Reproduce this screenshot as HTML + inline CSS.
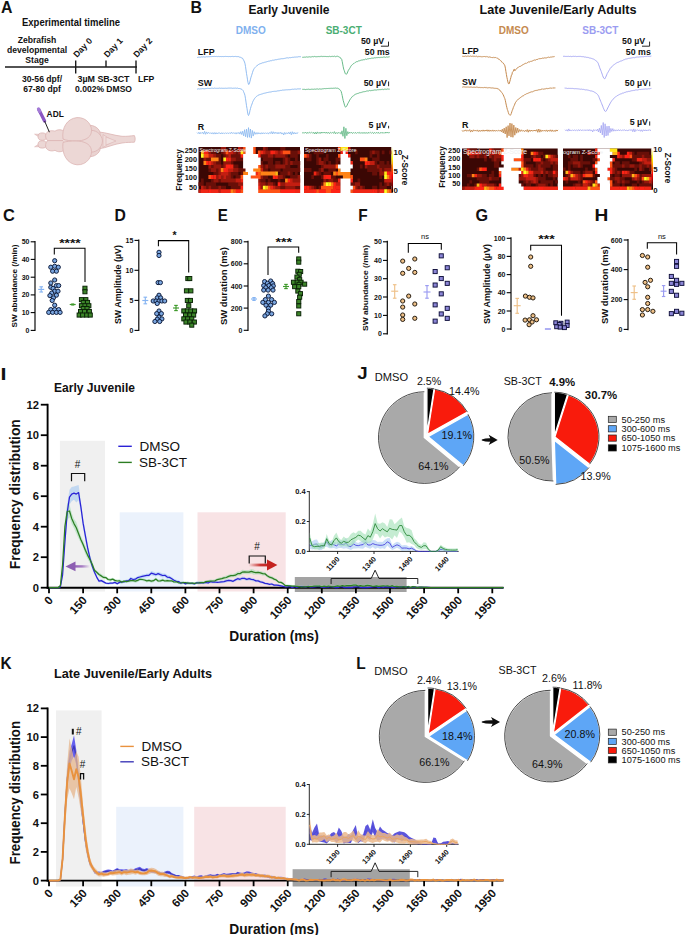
<!DOCTYPE html>
<html><head><meta charset="utf-8"><title>Figure</title>
<style>
html,body{margin:0;padding:0;background:#fff;}
body{width:685px;height:935px;overflow:hidden;font-family:'Liberation Sans', Arial, Helvetica, sans-serif;}
svg{display:block}
svg text{font-family:'Liberation Sans', Arial, Helvetica, sans-serif;}
</style></head><body>
<svg width="685" height="935" viewBox="0 0 685 935">
<rect x="0" y="0" width="685" height="935" fill="#ffffff"/>
<g id="panelA">
<text x="71.0" y="25.6" font-size="10" font-weight="bold" text-anchor="middle" fill="#111" textLength="98" lengthAdjust="spacingAndGlyphs" >Experimental timeline</text>
<text x="37.0" y="43.3" font-size="8.6" font-weight="bold" text-anchor="middle" fill="#111" >Zebrafish</text>
<text x="37.0" y="53.3" font-size="8.6" font-weight="bold" text-anchor="middle" fill="#111" >developmental</text>
<text x="37.0" y="63.3" font-size="8.6" font-weight="bold" text-anchor="middle" fill="#111" >Stage</text>
<line x1="5.0" y1="67.0" x2="137.0" y2="67.0" stroke="#1a1a1a" stroke-width="1.4" />
<line x1="75.7" y1="60.5" x2="75.7" y2="73.5" stroke="#1a1a1a" stroke-width="1.4" />
<line x1="106.0" y1="60.5" x2="106.0" y2="67.0" stroke="#1a1a1a" stroke-width="1.4" />
<line x1="136.0" y1="60.5" x2="136.0" y2="73.5" stroke="#1a1a1a" stroke-width="1.4" />
<text x="77.0" y="58.0" font-size="8.6" font-weight="bold" text-anchor="start" fill="#111" transform="rotate(-47 77.0 58.0)" >Day 0</text>
<text x="107.5" y="58.0" font-size="8.6" font-weight="bold" text-anchor="start" fill="#111" transform="rotate(-47 107.5 58.0)" >Day 1</text>
<text x="137.0" y="58.0" font-size="8.6" font-weight="bold" text-anchor="start" fill="#111" transform="rotate(-47 137.0 58.0)" >Day 2</text>
<text x="42.0" y="81.6" font-size="8.6" font-weight="bold" text-anchor="middle" fill="#111" >30-56 dpf/</text>
<text x="42.0" y="92.3" font-size="8.6" font-weight="bold" text-anchor="middle" fill="#111" >67-80 dpf</text>
<text x="103.5" y="81.6" font-size="8.6" font-weight="bold" text-anchor="middle" fill="#111" textLength="52" lengthAdjust="spacingAndGlyphs" >3µM SB-3CT</text>
<text x="103.5" y="92.3" font-size="8.6" font-weight="bold" text-anchor="middle" fill="#111" textLength="57" lengthAdjust="spacingAndGlyphs" >0.002% DMSO</text>
<text x="138.0" y="81.6" font-size="8.6" font-weight="bold" text-anchor="start" fill="#111" >LFP</text>
<path d="M99,132 C106,132.5 114,135.5 122,136.3 C127,136.6 131,135.8 134.4,135.6 C135.4,137.5 135.4,140.5 134.4,142.2 C131,142.4 127,142.2 122,143 C114,144 106,148 99,148.8 Z" stroke="#dcb4b3" stroke-width="0.8" fill="#ecd7d5" stroke-linejoin="round"/>
<path d="M103,134.5 L113,141 L103,147.5 Z" stroke="#dcb4b3" stroke-width="0.6" fill="#efdddb" stroke-linejoin="round"/>
<path d="M106,137 L116,141 L106,145 Z" stroke="#dcb4b3" stroke-width="0.6" fill="#f0e0de" stroke-linejoin="round"/>
<path d="M34.6,134.2 L40,134.3 L40,137.5 Z" stroke="#dcb4b3" stroke-width="0.6" fill="#ecd7d5" stroke-linejoin="round"/>
<path d="M34.6,146.8 L40,146.7 L40,143.5 Z" stroke="#dcb4b3" stroke-width="0.6" fill="#ecd7d5" stroke-linejoin="round"/>
<ellipse cx="42.3" cy="136.6" rx="4.3" ry="3.7" fill="#ecd7d5" stroke="#dcb4b3" stroke-width="0.8"/>
<ellipse cx="42.3" cy="144.4" rx="4.3" ry="3.7" fill="#ecd7d5" stroke="#dcb4b3" stroke-width="0.8"/>
<path d="M46,133.5 C48,130.5 52,130.2 55,131.2 C58,129 62,129.5 64.5,131.5 C65.5,135 65,139 63,140.6 L47.5,140.6 C45.5,138.5 45.2,135.5 46,133.5 Z" stroke="#dcb4b3" stroke-width="0.8" fill="#ecd7d5" stroke-linejoin="round"/>
<path d="M46,148 C48,151 52,151.5 55,150.3 C58,152.5 62,152 64.5,150 C65.5,146.5 65,142.5 63,140.6 L47.5,140.6 C45.5,142.7 45.2,146 46,148 Z" stroke="#dcb4b3" stroke-width="0.8" fill="#ecd7d5" stroke-linejoin="round"/>
<path d="M86,126 C92,124 98,127 100,132 L100,150 C98,155 92,158 86,156 Z" stroke="#dcb4b3" stroke-width="0.8" fill="#ead3d1" stroke-linejoin="round"/>
<path d="M88,131 C95,128.5 102,134 102.5,141 C102,148.5 95,154 88,151.5 C86.5,145 86.5,137 88,131 Z" stroke="#dcb4b3" stroke-width="0.8" fill="#ecd7d5" stroke-linejoin="round"/>
<rect x="63.5" y="138.0" width="26.0" height="6.0" fill="#ecd7d5" stroke="none" stroke-width="0" />
<path d="M63,139 C61.5,128 67,118.5 77,117.6 C87,117 93,126 91.2,133 C90,138 84,141 76,141 C71,141 66,140.5 63,139 Z" stroke="#dcb4b3" stroke-width="0.8" fill="#ecd7d5" stroke-linejoin="round"/>
<path d="M63,142.5 C61.5,154 67,164 77,164.8 C87,165.3 93,156 91.2,149 C90,144 84,141 76,141 C71,141 66,141.3 63,142.5 Z" stroke="#dcb4b3" stroke-width="0.8" fill="#ecd7d5" stroke-linejoin="round"/>
<line x1="38.8" y1="109.6" x2="44.6" y2="121.0" stroke="#8a56c2" stroke-width="3.3" stroke-linecap="round"/>
<line x1="38.5" y1="109.0" x2="39.6" y2="111.2" stroke="#a37bd6" stroke-width="3.3" stroke-linecap="round"/>
<line x1="44.6" y1="121.0" x2="49.4" y2="132.2" stroke="#222" stroke-width="1.0" />
<text x="46.6" y="117.3" font-size="8.8" font-weight="bold" text-anchor="start" fill="#111" textLength="17.2" lengthAdjust="spacingAndGlyphs" >ADL</text>
</g>
<g id="panelB">
<text x="289.0" y="14.3" font-size="12.3" font-weight="bold" text-anchor="middle" fill="#111" textLength="81" lengthAdjust="spacingAndGlyphs" >Early Juvenile</text>
<text x="558.0" y="14.0" font-size="12.3" font-weight="bold" text-anchor="middle" fill="#111" textLength="157" lengthAdjust="spacingAndGlyphs" >Late Juvenile/Early Adults</text>
<text x="250.7" y="34.0" font-size="10" font-weight="bold" text-anchor="middle" fill="#7fb1ee" >DMSO</text>
<text x="343.7" y="34.0" font-size="10" font-weight="bold" text-anchor="middle" fill="#4bae73" >SB-3CT</text>
<text x="513.8" y="34.0" font-size="10" font-weight="bold" text-anchor="middle" fill="#c58a4f" >DMSO</text>
<text x="600.4" y="34.0" font-size="10" font-weight="bold" text-anchor="middle" fill="#9b9cf1" >SB-3CT</text>
<path d="M197.0,57.2 L197.5,57.4 L198.0,57.3 L198.5,57.2 L199.0,57.2 L199.5,57.2 L200.0,57.2 L200.5,57.2 L201.0,57.0 L201.5,56.9 L202.0,57.2 L202.5,57.0 L203.0,57.1 L203.5,56.8 L204.0,56.9 L204.5,57.0 L205.0,56.8 L205.5,57.0 L206.0,57.0 L206.5,56.7 L207.0,56.7 L207.5,56.8 L208.0,56.9 L208.5,56.7 L209.0,56.6 L209.5,56.7 L210.0,56.5 L210.5,56.6 L211.0,56.6 L211.5,56.6 L212.0,56.5 L212.5,56.5 L213.0,56.5 L213.5,56.5 L214.0,56.5 L214.5,56.4 L215.0,56.6 L215.5,56.5 L216.0,56.5 L216.5,56.4 L217.0,56.6 L217.5,56.6 L218.0,56.4 L218.5,56.4 L219.0,56.6 L219.5,56.6 L220.0,56.6 L220.5,56.5 L221.0,56.6 L221.5,56.6 L222.0,56.4 L222.5,56.5 L223.0,56.6 L223.5,56.6 L224.0,56.5 L224.5,56.5 L225.0,56.4 L225.5,56.4 L226.0,56.6 L226.5,56.5 L227.0,56.4 L227.5,56.5 L228.0,56.6 L228.5,56.6 L229.0,56.5 L229.5,56.5 L230.0,56.5 L230.5,56.6 L231.0,56.5 L231.5,56.5 L232.0,56.5 L232.5,56.4 L233.0,56.4 L233.5,56.6 L234.0,56.6 L234.5,56.5 L235.0,56.5 L235.5,56.4 L236.0,56.5 L236.5,56.6 L237.0,56.6 L237.5,56.6 L238.0,56.7 L238.5,56.6 L239.0,56.8 L239.5,57.1 L240.0,57.2 L240.5,57.3 L241.0,57.5 L241.5,57.8 L242.0,58.1 L242.5,58.2 L243.0,59.1 L243.5,59.9 L244.0,60.9 L244.5,62.0 L245.0,63.7 L245.5,66.5 L246.0,70.0 L246.5,73.5 L247.0,76.3 L247.5,79.8 L248.0,82.6 L248.5,84.3 L249.0,84.4 L249.5,83.1 L250.0,81.2 L250.5,79.1 L251.0,77.2 L251.5,75.7 L252.0,74.1 L252.5,72.5 L253.0,70.9 L253.5,69.8 L254.0,68.8 L254.5,68.2 L255.0,67.6 L255.5,67.0 L256.0,66.5 L256.5,66.1 L257.0,65.5 L257.5,65.3 L258.0,65.0 L258.5,64.5 L259.0,64.2 L259.5,64.0 L260.0,64.0 L260.5,63.6 L261.0,63.4 L261.5,63.3 L262.0,63.1 L262.5,62.8 L263.0,62.7 L263.5,62.7 L264.0,62.4 L264.5,62.3 L265.0,62.3 L265.5,62.1 L266.0,61.9 L266.5,61.8 L267.0,61.5 L267.5,61.5 L268.0,61.4 L268.5,61.2 L269.0,61.0 L269.5,61.1 L270.0,60.9 L270.5,60.7 L271.0,60.7 L271.5,60.7 L272.0,60.3 L272.5,60.2 L273.0,60.1 L273.5,60.2 L274.0,59.9 L274.5,60.0 L275.0,59.9 L275.5,59.7 L276.0,59.5 L276.5,59.7 L277.0,59.5 L277.5,59.4 L278.0,59.2 L278.5,59.2 L279.0,59.1 L279.5,59.1 L280.0,58.9 L280.5,58.9 L281.0,58.7 L281.5,58.7 L282.0,58.8 L282.5,58.7 L283.0,58.5 L283.5,58.6 L284.0,58.3 L284.5,58.4 L285.0,58.3 L285.5,58.2 L286.0,58.1 L286.5,57.9 L287.0,58.1 L287.5,57.8 L288.0,58.0 L288.5,58.0 L289.0,57.8 L289.5,57.6 L290.0,57.8 L290.5,57.7 L291.0,57.6 L291.5,57.5 L292.0,57.4 L292.5,57.3 L293.0,57.2 L293.5,57.3 L294.0,57.2 L294.5,57.1 L295.0,57.0 L295.5,57.1 L296.0,57.0 L296.5,57.0 L297.0,56.9 L297.5,57.0 L298.0,57.0 L298.5,56.7 L299.0,56.7 L299.5,56.7 L300.0,56.8 L300.5,56.7 L301.0,56.6" stroke="#7fb1ee" stroke-width="0.85" fill="none" stroke-linejoin="round"/>
<path d="M197.0,89.1 L197.5,89.1 L198.0,88.8 L198.5,88.8 L199.0,89.0 L199.5,89.0 L200.0,88.9 L200.5,88.8 L201.0,88.8 L201.5,88.8 L202.0,88.8 L202.5,88.6 L203.0,88.7 L203.5,88.7 L204.0,88.7 L204.5,88.8 L205.0,88.7 L205.5,88.6 L206.0,88.5 L206.5,88.5 L207.0,88.4 L207.5,88.3 L208.0,88.4 L208.5,88.4 L209.0,88.4 L209.5,88.5 L210.0,88.4 L210.5,88.4 L211.0,88.2 L211.5,88.2 L212.0,88.2 L212.5,88.2 L213.0,88.3 L213.5,88.4 L214.0,88.3 L214.5,88.1 L215.0,88.3 L215.5,88.3 L216.0,88.3 L216.5,88.3 L217.0,88.3 L217.5,88.3 L218.0,88.2 L218.5,88.3 L219.0,88.3 L219.5,88.1 L220.0,88.3 L220.5,88.3 L221.0,88.2 L221.5,88.2 L222.0,88.2 L222.5,88.3 L223.0,88.2 L223.5,88.3 L224.0,88.2 L224.5,88.3 L225.0,88.3 L225.5,88.2 L226.0,88.2 L226.5,88.3 L227.0,88.3 L227.5,88.2 L228.0,88.1 L228.5,88.1 L229.0,88.3 L229.5,88.1 L230.0,88.3 L230.5,88.1 L231.0,88.3 L231.5,88.1 L232.0,88.3 L232.5,88.3 L233.0,88.2 L233.5,88.2 L234.0,88.2 L234.5,88.2 L235.0,88.1 L235.5,88.1 L236.0,88.2 L236.5,88.3 L237.0,88.3 L237.5,88.1 L238.0,88.4 L238.5,88.5 L239.0,88.6 L239.5,88.5 L240.0,88.8 L240.5,88.8 L241.0,89.1 L241.5,89.2 L242.0,89.4 L242.5,90.0 L243.0,90.5 L243.5,91.5 L244.0,92.8 L244.5,93.9 L245.0,95.7 L245.5,98.7 L246.0,102.1 L246.5,105.7 L247.0,108.5 L247.5,111.9 L248.0,114.5 L248.5,115.5 L249.0,114.4 L249.5,112.9 L250.0,110.4 L250.5,108.5 L251.0,106.7 L251.5,105.3 L252.0,104.0 L252.5,102.5 L253.0,101.2 L253.5,100.3 L254.0,99.4 L254.5,98.6 L255.0,98.2 L255.5,97.4 L256.0,96.8 L256.5,96.4 L257.0,96.1 L257.5,95.8 L258.0,95.3 L258.5,95.1 L259.0,94.8 L259.5,94.7 L260.0,94.6 L260.5,94.4 L261.0,94.3 L261.5,94.1 L262.0,94.0 L262.5,93.8 L263.0,93.6 L263.5,93.4 L264.0,93.4 L264.5,93.2 L265.0,93.0 L265.5,93.0 L266.0,93.0 L266.5,92.7 L267.0,92.7 L267.5,92.5 L268.0,92.5 L268.5,92.3 L269.0,92.4 L269.5,92.1 L270.0,92.1 L270.5,92.0 L271.0,91.7 L271.5,91.8 L272.0,91.6 L272.5,91.5 L273.0,91.4 L273.5,91.4 L274.0,91.3 L274.5,91.3 L275.0,91.2 L275.5,91.3 L276.0,91.2 L276.5,91.2 L277.0,90.9 L277.5,90.9 L278.0,90.7 L278.5,90.8 L279.0,90.7 L279.5,90.7 L280.0,90.6 L280.5,90.4 L281.0,90.4 L281.5,90.4 L282.0,90.2 L282.5,90.1 L283.0,90.2 L283.5,90.1 L284.0,90.2 L284.5,90.0 L285.0,89.9 L285.5,89.9 L286.0,89.8 L286.5,89.8 L287.0,89.8 L287.5,89.8 L288.0,89.7 L288.5,89.7 L289.0,89.6 L289.5,89.7 L290.0,89.7 L290.5,89.6 L291.0,89.5 L291.5,89.4 L292.0,89.4 L292.5,89.2 L293.0,89.3 L293.5,89.3 L294.0,89.1 L294.5,89.1 L295.0,89.3 L295.5,89.1 L296.0,89.1 L296.5,89.2 L297.0,89.1 L297.5,88.9 L298.0,89.1 L298.5,88.9 L299.0,88.8 L299.5,88.9 L300.0,88.7 L300.5,88.8 L301.0,88.9" stroke="#7fb1ee" stroke-width="0.85" fill="none" stroke-linejoin="round"/>
<path d="M197.0,132.6 L198.0,133.6 L198.9,132.2 L199.9,134.0 L200.8,132.4 L201.8,133.4 L202.7,132.2 L203.7,134.1 L204.6,131.3 L205.6,134.3 L206.5,131.9 L207.5,133.8 L208.4,132.3 L209.4,133.4 L210.3,132.7 L211.3,133.9 L212.2,132.6 L213.2,134.1 L214.2,132.5 L215.1,134.1 L216.1,132.6 L217.0,134.0 L218.0,132.7 L218.9,133.4 L219.9,132.8 L220.8,134.0 L221.8,132.6 L222.7,133.9 L223.7,132.8 L224.6,133.7 L225.6,132.7 L226.5,133.8 L227.5,132.7 L228.4,133.7 L229.4,132.7 L230.3,133.7 L231.3,132.2 L232.3,133.6 L233.2,132.5 L234.2,133.7 L235.1,132.6 L236.1,134.1 L237.0,132.5 L238.0,133.7 L238.9,132.3 L239.9,134.1 L240.8,131.6 L241.8,134.6 L242.7,131.2 L243.7,135.9 L244.6,129.7 L245.6,136.8 L246.5,129.1 L247.5,137.5 L248.5,127.6 L249.4,137.3 L250.4,129.0 L251.3,138.1 L252.3,130.4 L253.2,136.1 L254.2,131.7 L255.1,134.4 L256.1,132.5 L257.0,134.2 L258.0,132.5 L258.9,134.0 L259.9,132.8 L260.8,134.1 L261.8,132.6 L262.7,134.0 L263.7,132.7 L264.7,133.8 L265.6,132.7 L266.6,133.7 L267.5,132.7 L268.5,134.1 L269.4,132.5 L270.4,133.5 L271.3,131.6 L272.3,134.0 L273.2,131.7 L274.2,133.7 L275.1,132.1 L276.1,133.6 L277.0,132.3 L278.0,134.0 L278.9,132.3 L279.9,133.6 L280.8,132.2 L281.8,134.1 L282.8,132.8 L283.7,135.0 L284.7,132.4 L285.6,134.2 L286.6,132.7 L287.5,133.8 L288.5,132.3 L289.4,134.0 L290.4,131.9 L291.3,134.8 L292.3,131.7 L293.2,134.1 L294.2,132.3 L295.1,134.0 L296.1,132.7 L297.0,133.8 L298.0,132.2" stroke="#7fb1ee" stroke-width="0.7" fill="none" stroke-linejoin="round"/>
<path d="M302.2,57.2 L302.7,57.3 L303.2,57.2 L303.7,57.3 L304.2,57.3 L304.7,57.0 L305.2,56.9 L305.7,57.3 L306.2,57.0 L306.7,56.9 L307.2,57.2 L307.7,57.0 L308.2,57.1 L308.7,56.9 L309.2,57.0 L309.7,56.7 L310.2,56.9 L310.7,57.0 L311.2,56.8 L311.7,56.9 L312.2,56.8 L312.7,56.5 L313.2,56.8 L313.7,56.7 L314.2,56.6 L314.7,56.4 L315.2,56.8 L315.7,56.6 L316.2,56.7 L316.7,56.7 L317.2,56.6 L317.7,56.7 L318.2,56.5 L318.7,56.6 L319.2,56.5 L319.7,56.7 L320.2,56.7 L320.7,56.3 L321.2,56.3 L321.7,56.4 L322.2,56.7 L322.7,56.4 L323.2,56.5 L323.7,56.4 L324.2,56.5 L324.7,56.4 L325.2,56.4 L325.7,56.5 L326.2,56.5 L326.7,56.6 L327.2,56.5 L327.7,56.6 L328.2,56.6 L328.7,56.6 L329.2,56.5 L329.7,56.3 L330.2,56.6 L330.7,56.6 L331.2,56.6 L331.7,56.4 L332.2,56.5 L332.7,56.3 L333.2,56.6 L333.7,56.4 L334.2,56.3 L334.7,56.2 L335.2,56.6 L335.7,56.6 L336.2,56.2 L336.7,56.5 L337.2,56.4 L337.7,56.2 L338.2,56.4 L338.7,56.8 L339.2,57.1 L339.7,57.0 L340.2,57.7 L340.7,58.0 L341.2,58.9 L341.7,59.4 L342.2,61.4 L342.7,64.1 L343.2,66.7 L343.7,69.1 L344.2,70.4 L344.7,71.9 L345.2,73.4 L345.7,74.1 L346.2,74.4 L346.7,74.0 L347.2,73.2 L347.7,71.9 L348.2,70.7 L348.7,70.0 L349.2,69.0 L349.7,68.4 L350.2,67.5 L350.7,66.5 L351.2,65.8 L351.7,65.2 L352.2,64.8 L352.7,64.3 L353.2,63.9 L353.7,63.5 L354.2,63.3 L354.7,62.8 L355.2,62.4 L355.7,62.3 L356.2,61.8 L356.7,61.7 L357.2,61.8 L357.7,61.4 L358.2,61.2 L358.7,60.8 L359.2,60.8 L359.7,60.7 L360.2,60.3 L360.7,60.5 L361.2,60.3 L361.7,60.0 L362.2,60.1 L362.7,59.9 L363.2,59.9 L363.7,59.6 L364.2,59.7 L364.7,59.6 L365.2,59.2 L365.7,59.1 L366.2,59.3 L366.7,59.3 L367.2,58.9 L367.7,58.9 L368.2,58.9 L368.7,58.7 L369.2,58.6 L369.7,58.5 L370.2,58.5 L370.7,58.5 L371.2,58.3 L371.7,58.2 L372.2,58.4 L372.7,58.0 L373.2,58.1 L373.7,58.1 L374.2,57.9 L374.7,57.8 L375.2,58.0 L375.7,57.7 L376.2,57.6 L376.7,57.7 L377.2,57.8 L377.7,57.5 L378.2,57.5 L378.7,57.5 L379.2,57.7 L379.7,57.5 L380.2,57.6 L380.7,57.3 L381.2,57.3 L381.7,57.4 L382.2,57.5 L382.7,57.3 L383.2,57.1 L383.7,57.1 L384.2,57.2 L384.7,57.0 L385.2,57.3 L385.7,57.3 L386.2,57.0 L386.7,57.0 L387.2,57.2 L387.7,57.1 L388.2,57.1 L388.7,56.9 L389.2,56.8 L389.7,56.8" stroke="#4bae73" stroke-width="0.85" fill="none" stroke-linejoin="round"/>
<path d="M302.2,89.4 L302.7,89.3 L303.2,89.4 L303.7,89.3 L304.2,89.3 L304.7,89.4 L305.2,89.6 L305.7,89.5 L306.2,89.5 L306.7,89.3 L307.2,89.4 L307.7,89.3 L308.2,89.2 L308.7,89.2 L309.2,89.2 L309.7,89.5 L310.2,89.4 L310.7,89.4 L311.2,89.4 L311.7,89.1 L312.2,89.1 L312.7,89.3 L313.2,89.3 L313.7,89.3 L314.2,89.3 L314.7,89.0 L315.2,89.2 L315.7,89.2 L316.2,89.1 L316.7,89.0 L317.2,89.1 L317.7,88.9 L318.2,89.2 L318.7,89.2 L319.2,89.0 L319.7,88.9 L320.2,89.1 L320.7,89.0 L321.2,89.1 L321.7,89.0 L322.2,88.9 L322.7,88.8 L323.2,88.8 L323.7,88.7 L324.2,88.6 L324.7,88.6 L325.2,88.8 L325.7,88.5 L326.2,88.4 L326.7,88.6 L327.2,88.5 L327.7,88.5 L328.2,88.5 L328.7,88.4 L329.2,88.6 L329.7,88.3 L330.2,88.4 L330.7,88.3 L331.2,88.4 L331.7,88.2 L332.2,88.2 L332.7,88.4 L333.2,88.2 L333.7,88.3 L334.2,88.4 L334.7,88.1 L335.2,88.0 L335.7,88.1 L336.2,88.3 L336.7,88.2 L337.2,88.1 L337.7,88.3 L338.2,88.4 L338.7,88.8 L339.2,88.9 L339.7,89.6 L340.2,90.1 L340.7,90.7 L341.2,91.5 L341.7,93.5 L342.2,95.5 L342.7,98.1 L343.2,100.4 L343.7,102.1 L344.2,103.9 L344.7,105.8 L345.2,106.8 L345.7,107.2 L346.2,106.7 L346.7,105.9 L347.2,105.1 L347.7,103.8 L348.2,102.9 L348.7,102.1 L349.2,101.1 L349.7,100.1 L350.2,99.3 L350.7,98.5 L351.2,98.1 L351.7,97.3 L352.2,96.7 L352.7,96.2 L353.2,96.1 L353.7,95.5 L354.2,95.1 L354.7,94.7 L355.2,94.4 L355.7,94.2 L356.2,94.1 L356.7,93.7 L357.2,93.5 L357.7,93.5 L358.2,93.2 L358.7,93.3 L359.2,92.8 L359.7,92.8 L360.2,92.8 L360.7,92.5 L361.2,92.6 L361.7,92.2 L362.2,92.0 L362.7,92.0 L363.2,91.7 L363.7,91.8 L364.2,91.6 L364.7,91.7 L365.2,91.6 L365.7,91.4 L366.2,91.1 L366.7,91.1 L367.2,91.0 L367.7,90.9 L368.2,90.8 L368.7,91.0 L369.2,90.6 L369.7,90.5 L370.2,90.8 L370.7,90.6 L371.2,90.7 L371.7,90.4 L372.2,90.5 L372.7,90.3 L373.2,90.3 L373.7,90.2 L374.2,90.1 L374.7,89.9 L375.2,89.8 L375.7,90.1 L376.2,90.0 L376.7,90.0 L377.2,89.7 L377.7,89.8 L378.2,89.8 L378.7,89.7 L379.2,89.7 L379.7,89.6 L380.2,89.6 L380.7,89.6 L381.2,89.4 L381.7,89.6 L382.2,89.6 L382.7,89.2 L383.2,89.6 L383.7,89.5 L384.2,89.4 L384.7,89.1 L385.2,89.4 L385.7,89.1 L386.2,89.4 L386.7,89.2 L387.2,89.0 L387.7,89.0 L388.2,89.1 L388.7,89.1 L389.2,89.1 L389.7,89.2" stroke="#4bae73" stroke-width="0.85" fill="none" stroke-linejoin="round"/>
<path d="M302.0,132.4 L303.0,133.3 L303.9,132.5 L304.9,133.1 L305.8,132.2 L306.8,133.6 L307.7,132.3 L308.7,133.3 L309.6,132.1 L310.6,133.0 L311.5,132.3 L312.5,133.2 L313.4,132.2 L314.4,133.9 L315.3,132.2 L316.3,134.0 L317.3,131.9 L318.2,133.4 L319.2,132.3 L320.1,133.6 L321.1,132.0 L322.0,133.2 L323.0,132.1 L323.9,133.1 L324.9,132.1 L325.8,133.3 L326.8,132.1 L327.7,133.4 L328.7,132.3 L329.6,133.6 L330.6,132.3 L331.6,133.1 L332.5,132.4 L333.5,133.4 L334.4,131.6 L335.4,133.8 L336.3,132.5 L337.3,133.6 L338.2,132.3 L339.2,133.3 L340.1,132.4 L341.1,134.2 L342.0,130.8 L343.0,136.3 L343.9,126.8 L344.9,138.5 L345.9,128.3 L346.8,135.7 L347.8,131.6 L348.7,133.7 L349.7,132.1 L350.6,133.2 L351.6,132.2 L352.5,133.5 L353.5,132.5 L354.4,133.3 L355.4,132.3 L356.3,133.5 L357.3,132.5 L358.2,133.1 L359.2,132.2 L360.1,133.5 L361.1,132.4 L362.1,133.5 L363.0,132.3 L364.0,133.5 L364.9,132.3 L365.9,133.5 L366.8,132.4 L367.8,133.5 L368.7,132.2 L369.7,133.2 L370.6,132.3 L371.6,133.2 L372.5,132.3 L373.5,133.6 L374.4,132.4 L375.4,133.4 L376.4,132.3 L377.3,133.3 L378.3,132.2 L379.2,133.5 L380.2,132.5 L381.1,133.3 L382.1,132.2 L383.0,133.4 L384.0,132.4 L384.9,133.3 L385.9,132.0 L386.8,133.1 L387.8,132.1 L388.7,133.2 L389.7,132.0" stroke="#4bae73" stroke-width="0.7" fill="none" stroke-linejoin="round"/>
<path d="M462.2,56.2 L462.7,56.3 L463.2,56.3 L463.7,56.4 L464.2,56.3 L464.7,56.4 L465.2,55.9 L465.7,56.2 L466.2,56.5 L466.7,56.3 L467.2,56.4 L467.7,56.0 L468.2,56.2 L468.7,56.1 L469.2,56.3 L469.7,56.3 L470.2,56.0 L470.7,56.1 L471.2,56.2 L471.7,56.5 L472.2,56.5 L472.7,56.1 L473.2,56.5 L473.8,56.1 L474.3,56.4 L474.8,56.1 L475.3,56.1 L475.8,56.6 L476.3,56.2 L476.8,56.3 L477.3,56.7 L477.8,56.7 L478.3,56.3 L478.8,56.8 L479.3,56.5 L479.8,56.6 L480.3,56.4 L480.8,56.8 L481.3,56.7 L481.8,56.9 L482.3,56.9 L482.8,56.5 L483.3,56.6 L483.8,56.5 L484.3,56.5 L484.8,56.5 L485.3,56.6 L485.8,56.9 L486.3,56.5 L486.8,57.0 L487.3,56.8 L487.8,56.8 L488.3,57.2 L488.8,57.0 L489.3,56.9 L489.8,57.1 L490.3,57.3 L490.8,56.9 L491.3,57.5 L491.8,57.0 L492.3,57.5 L492.8,57.6 L493.3,57.2 L493.8,57.7 L494.3,57.5 L494.8,57.7 L495.3,57.5 L495.8,57.6 L496.3,57.7 L496.9,58.3 L497.4,58.0 L497.9,58.6 L498.4,59.0 L498.9,59.4 L499.4,59.4 L499.9,59.9 L500.4,60.5 L500.9,61.1 L501.4,61.2 L501.9,62.1 L502.4,62.6 L502.9,63.1 L503.4,63.2 L503.9,64.3 L504.4,64.6 L504.9,65.8 L505.4,68.2 L505.9,71.5 L506.4,74.4 L506.9,77.3 L507.4,79.6 L507.9,81.9 L508.4,83.6 L508.9,84.0 L509.4,83.0 L509.9,81.2 L510.4,79.3 L510.9,77.4 L511.4,75.2 L511.9,74.9 L512.4,72.3 L512.9,71.7 L513.4,71.2 L513.9,69.4 L514.4,69.3 L514.9,70.8 L515.4,69.9 L515.9,69.4 L516.4,68.8 L516.9,68.6 L517.4,67.8 L517.9,67.6 L518.4,67.1 L518.9,67.2 L519.4,66.5 L520.0,66.3 L520.5,66.3 L521.0,65.9 L521.5,65.7 L522.0,65.1 L522.5,64.9 L523.0,64.8 L523.5,64.4 L524.0,64.0 L524.5,63.8 L525.0,63.4 L525.5,63.3 L526.0,63.5 L526.5,63.3 L527.0,62.8 L527.5,62.6 L528.0,62.3 L528.5,61.9 L529.0,61.8 L529.5,62.0 L530.0,61.8 L530.5,61.3 L531.0,61.4 L531.5,61.3 L532.0,61.0 L532.5,60.9 L533.0,60.8 L533.5,60.4 L534.0,60.4 L534.5,60.0 L535.0,60.0 L535.5,60.1 L536.0,59.9 L536.5,59.5 L537.0,59.8 L537.5,59.4 L538.0,59.3 L538.5,58.8 L539.0,59.0 L539.5,58.7 L540.0,58.9 L540.5,58.6 L541.0,58.7 L541.5,58.5 L542.0,58.5 L542.5,58.1 L543.0,58.2 L543.6,58.2 L544.1,58.2 L544.6,57.8 L545.1,58.0 L545.6,57.9 L546.1,57.8 L546.6,57.9 L547.1,57.8 L547.6,57.4 L548.1,57.4 L548.6,57.1 L549.1,57.4 L549.6,57.4 L550.1,57.1 L550.6,57.1 L551.1,57.1 L551.6,57.0 L552.1,56.6 L552.6,56.9 L553.1,56.8 L553.6,56.7 L554.1,56.5 L554.6,56.6" stroke="#c58a4f" stroke-width="1.0" fill="none" stroke-linejoin="round"/>
<path d="M462.2,87.0 L462.7,87.1 L463.2,86.9 L463.7,86.8 L464.2,86.7 L464.7,87.1 L465.2,87.0 L465.7,87.1 L466.2,86.9 L466.7,87.2 L467.2,86.9 L467.7,87.2 L468.2,87.2 L468.7,87.0 L469.2,87.1 L469.7,87.2 L470.2,87.0 L470.7,87.2 L471.2,87.3 L471.7,87.0 L472.2,87.3 L472.7,87.3 L473.2,87.4 L473.7,87.1 L474.2,87.0 L474.7,87.4 L475.2,87.4 L475.7,87.3 L476.2,87.1 L476.7,87.2 L477.2,87.4 L477.7,87.2 L478.2,87.6 L478.7,87.4 L479.2,87.3 L479.7,87.5 L480.2,87.4 L480.7,87.7 L481.2,87.7 L481.7,87.5 L482.2,87.6 L482.7,87.6 L483.2,87.7 L483.7,87.8 L484.2,87.3 L484.7,87.5 L485.2,87.7 L485.8,87.5 L486.3,87.7 L486.8,87.5 L487.3,87.9 L487.8,87.7 L488.3,87.6 L488.8,87.9 L489.3,87.7 L489.8,87.7 L490.3,87.9 L490.8,87.7 L491.3,87.8 L491.8,88.2 L492.3,88.1 L492.8,87.8 L493.3,88.2 L493.8,87.9 L494.3,88.1 L494.8,88.5 L495.3,88.4 L495.8,88.3 L496.3,88.4 L496.8,88.4 L497.3,88.4 L497.8,89.1 L498.3,88.8 L498.8,89.4 L499.3,89.9 L499.8,90.2 L500.3,91.0 L500.8,91.2 L501.3,92.1 L501.8,92.6 L502.3,93.2 L502.8,94.2 L503.3,94.9 L503.8,96.2 L504.3,97.4 L504.8,98.6 L505.3,100.3 L505.8,102.8 L506.3,105.2 L506.8,107.3 L507.3,109.4 L507.8,110.7 L508.3,112.4 L508.8,113.9 L509.3,114.6 L509.8,115.2 L510.3,115.2 L510.8,114.8 L511.3,113.4 L511.8,111.8 L512.3,110.3 L512.8,109.2 L513.3,107.6 L513.8,106.4 L514.3,105.4 L514.8,104.1 L515.3,102.8 L515.8,102.1 L516.3,101.4 L516.8,100.6 L517.3,100.2 L517.8,99.6 L518.3,99.4 L518.8,98.7 L519.3,98.4 L519.8,98.2 L520.3,97.8 L520.8,97.2 L521.3,96.9 L521.8,96.5 L522.3,96.2 L522.8,95.9 L523.3,95.8 L523.8,95.6 L524.3,95.0 L524.8,94.5 L525.3,94.5 L525.8,94.0 L526.3,93.8 L526.8,93.9 L527.3,93.4 L527.8,93.4 L528.3,93.0 L528.8,93.1 L529.3,92.9 L529.8,92.3 L530.3,92.1 L530.8,92.3 L531.3,92.0 L531.8,91.7 L532.4,91.8 L532.9,91.6 L533.4,91.3 L533.9,91.1 L534.4,90.8 L534.9,90.8 L535.4,90.5 L535.9,90.6 L536.4,90.5 L536.9,90.1 L537.4,90.3 L537.9,89.9 L538.4,89.8 L538.9,89.9 L539.4,89.7 L539.9,89.8 L540.4,89.6 L540.9,89.5 L541.4,89.1 L541.9,89.4 L542.4,88.9 L542.9,89.1 L543.4,89.2 L543.9,89.1 L544.4,89.0 L544.9,88.8 L545.4,88.8 L545.9,88.8 L546.4,88.4 L546.9,88.8 L547.4,88.7 L547.9,88.4 L548.4,88.5 L548.9,88.3 L549.4,88.2 L549.9,88.3 L550.4,88.0 L550.9,88.3 L551.4,88.3 L551.9,87.9 L552.4,88.2 L552.9,87.7 L553.4,88.1 L553.9,87.7 L554.4,88.0 L554.9,87.7 L555.4,87.9" stroke="#c58a4f" stroke-width="1.0" fill="none" stroke-linejoin="round"/>
<path d="M462.0,130.3 L463.0,131.5 L463.9,130.4 L464.9,131.0 L465.8,129.8 L466.8,131.3 L467.8,130.3 L468.7,131.0 L469.7,129.6 L470.6,132.1 L471.6,130.1 L472.6,131.7 L473.5,129.8 L474.5,131.1 L475.4,130.1 L476.4,131.2 L477.4,129.9 L478.3,131.6 L479.3,130.2 L480.2,131.5 L481.2,130.1 L482.2,131.3 L483.1,129.9 L484.1,131.3 L485.0,130.0 L486.0,131.1 L487.0,129.8 L487.9,131.4 L488.9,129.9 L489.8,131.4 L490.8,130.1 L491.8,131.3 L492.7,129.9 L493.7,131.3 L494.6,130.0 L495.6,131.3 L496.6,130.2 L497.5,131.1 L498.5,130.2 L499.4,131.2 L500.4,130.0 L501.4,131.8 L502.3,129.2 L503.3,133.0 L504.2,128.1 L505.2,134.0 L506.2,126.8 L507.1,137.6 L508.1,125.6 L509.0,135.9 L510.0,123.1 L511.0,137.1 L511.9,123.6 L512.9,137.3 L513.8,125.1 L514.8,135.2 L515.8,127.5 L516.7,133.2 L517.7,128.1 L518.6,132.3 L519.6,129.6 L520.6,131.4 L521.5,129.8 L522.5,131.3 L523.4,130.4 L524.4,131.6 L525.4,130.2 L526.3,131.5 L527.3,129.6 L528.2,132.2 L529.2,129.9 L530.2,131.5 L531.1,130.0 L532.1,131.2 L533.0,130.3 L534.0,131.0 L535.0,130.0 L535.9,131.2 L536.9,129.5 L537.8,132.3 L538.8,129.0 L539.8,132.2 L540.7,129.8 L541.7,131.5 L542.6,130.1 L543.6,131.2 L544.6,130.1 L545.5,131.3 L546.5,129.9 L547.4,131.6 L548.4,130.0 L549.4,131.3 L550.3,129.8 L551.3,131.5 L552.2,129.9 L553.2,131.5 L554.2,130.3 L555.1,131.6 L556.1,129.9 L557.0,131.1 L558.0,129.9" stroke="#c58a4f" stroke-width="0.9" fill="none" stroke-linejoin="round"/>
<path d="M563.0,56.3 L563.5,56.3 L564.0,56.5 L564.5,56.3 L565.0,56.4 L565.5,56.4 L566.0,56.3 L566.5,56.4 L567.0,56.3 L567.5,56.4 L568.0,56.3 L568.5,56.3 L569.0,56.4 L569.5,56.5 L570.0,56.3 L570.5,56.3 L571.0,56.5 L571.5,56.6 L572.0,56.5 L572.5,56.4 L573.0,56.6 L573.5,56.3 L574.0,56.6 L574.6,56.4 L575.1,56.3 L575.6,56.3 L576.1,56.4 L576.6,56.6 L577.1,56.4 L577.6,56.5 L578.1,56.5 L578.6,56.4 L579.1,56.5 L579.6,56.4 L580.1,56.4 L580.6,56.4 L581.1,56.6 L581.6,56.6 L582.1,56.6 L582.6,56.7 L583.1,56.7 L583.6,56.7 L584.1,57.0 L584.6,57.0 L585.1,56.9 L585.6,57.1 L586.1,57.2 L586.6,57.4 L587.1,57.5 L587.6,57.4 L588.1,57.8 L588.6,57.5 L589.1,57.8 L589.6,58.0 L590.1,57.9 L590.6,58.2 L591.1,58.1 L591.6,58.5 L592.1,58.7 L592.6,58.8 L593.1,59.1 L593.6,59.1 L594.1,59.5 L594.6,59.7 L595.1,60.1 L595.6,60.4 L596.1,60.9 L596.7,61.4 L597.2,61.7 L597.7,62.5 L598.2,63.3 L598.7,64.8 L599.2,66.1 L599.7,67.7 L600.2,69.0 L600.7,70.1 L601.2,71.4 L601.7,72.9 L602.2,74.2 L602.7,75.8 L603.2,77.0 L603.7,78.0 L604.2,78.6 L604.7,78.9 L605.2,78.2 L605.7,77.2 L606.2,76.0 L606.7,74.9 L607.2,73.5 L607.7,72.8 L608.2,71.9 L608.7,71.1 L609.2,70.2 L609.7,69.4 L610.2,68.4 L610.7,67.8 L611.2,67.2 L611.7,66.9 L612.2,66.5 L612.7,65.7 L613.2,65.3 L613.7,64.9 L614.2,64.5 L614.7,64.3 L615.2,63.9 L615.7,63.5 L616.2,63.1 L616.7,62.9 L617.2,62.6 L617.7,62.4 L618.2,62.3 L618.8,62.0 L619.3,61.7 L619.8,61.5 L620.3,61.3 L620.8,60.9 L621.3,61.0 L621.8,60.7 L622.3,60.6 L622.8,60.3 L623.3,60.0 L623.8,59.8 L624.3,59.6 L624.8,59.6 L625.3,59.2 L625.8,59.1 L626.3,59.0 L626.8,58.9 L627.3,58.8 L627.8,58.6 L628.3,58.4 L628.8,58.4 L629.3,58.3 L629.8,58.3 L630.3,58.1 L630.8,58.3 L631.3,58.1 L631.8,57.8 L632.3,57.8 L632.8,57.7 L633.3,57.7 L633.8,57.5 L634.3,57.7 L634.8,57.7 L635.3,57.4 L635.8,57.4 L636.3,57.2 L636.8,57.1 L637.3,57.1 L637.8,57.0 L638.3,57.2 L638.8,56.9 L639.3,56.8 L639.8,57.1 L640.4,56.9 L640.9,56.7 L641.4,56.8 L641.9,56.6 L642.4,56.7 L642.9,56.8 L643.4,56.8 L643.9,56.7 L644.4,56.5 L644.9,56.5 L645.4,56.4 L645.9,56.6 L646.4,56.4 L646.9,56.5 L647.4,56.3 L647.9,56.2 L648.4,56.4 L648.9,56.4 L649.4,56.4 L649.9,56.3 L650.4,56.3 L650.9,56.2 L651.4,56.0" stroke="#9b9cf1" stroke-width="0.85" fill="none" stroke-linejoin="round"/>
<path d="M564.6,88.1 L565.1,88.4 L565.6,88.1 L566.1,88.3 L566.6,88.2 L567.1,88.3 L567.6,88.5 L568.1,88.3 L568.6,88.4 L569.1,88.4 L569.6,88.4 L570.1,88.5 L570.6,88.4 L571.1,88.6 L571.6,88.4 L572.1,88.5 L572.6,88.4 L573.1,88.5 L573.6,88.6 L574.1,88.8 L574.6,88.7 L575.1,88.6 L575.6,88.7 L576.1,88.9 L576.6,88.7 L577.1,88.9 L577.6,88.8 L578.1,89.0 L578.6,88.9 L579.2,89.1 L579.7,89.0 L580.2,89.1 L580.7,89.3 L581.2,89.2 L581.7,89.1 L582.2,89.2 L582.7,89.5 L583.2,89.4 L583.7,89.4 L584.2,89.7 L584.7,89.6 L585.2,89.8 L585.7,89.9 L586.2,89.8 L586.7,89.9 L587.2,90.1 L587.7,90.0 L588.2,90.3 L588.7,90.2 L589.2,90.5 L589.7,90.6 L590.2,90.8 L590.7,90.9 L591.2,90.9 L591.7,91.0 L592.2,91.1 L592.7,91.4 L593.2,91.6 L593.7,91.6 L594.2,92.2 L594.7,92.3 L595.2,92.7 L595.7,92.9 L596.2,93.3 L596.7,93.6 L597.2,94.2 L597.7,94.7 L598.2,95.4 L598.7,96.3 L599.2,97.6 L599.7,98.9 L600.2,100.0 L600.7,101.3 L601.2,102.5 L601.7,103.7 L602.2,105.0 L602.7,106.1 L603.2,107.6 L603.7,108.8 L604.2,109.8 L604.7,110.9 L605.2,111.3 L605.7,111.4 L606.2,111.1 L606.7,110.2 L607.2,109.2 L607.7,108.0 L608.3,106.9 L608.8,105.9 L609.3,105.0 L609.8,104.0 L610.3,103.1 L610.8,102.2 L611.3,101.5 L611.8,100.7 L612.3,100.1 L612.8,99.4 L613.3,99.0 L613.8,98.6 L614.3,97.8 L614.8,97.4 L615.3,97.0 L615.8,96.7 L616.3,96.4 L616.8,96.1 L617.3,95.6 L617.8,95.5 L618.3,94.9 L618.8,94.9 L619.3,94.5 L619.8,94.4 L620.3,94.0 L620.8,94.0 L621.3,93.8 L621.8,93.6 L622.3,93.3 L622.8,93.0 L623.3,93.1 L623.8,92.8 L624.3,92.5 L624.8,92.5 L625.3,92.3 L625.8,92.2 L626.3,91.9 L626.8,91.8 L627.3,91.8 L627.8,91.6 L628.3,91.4 L628.8,91.4 L629.3,91.4 L629.8,91.3 L630.3,91.1 L630.8,91.0 L631.3,90.8 L631.8,90.7 L632.3,90.6 L632.8,90.6 L633.3,90.4 L633.8,90.5 L634.3,90.4 L634.8,90.3 L635.3,90.0 L635.8,90.0 L636.3,90.0 L636.8,89.8 L637.4,90.0 L637.9,89.9 L638.4,89.7 L638.9,89.7 L639.4,89.5 L639.9,89.4 L640.4,89.5 L640.9,89.5 L641.4,89.4 L641.9,89.2 L642.4,89.3 L642.9,89.3 L643.4,89.2 L643.9,89.2 L644.4,89.2 L644.9,88.9 L645.4,88.9 L645.9,89.0 L646.4,89.1 L646.9,88.8 L647.4,89.0 L647.9,88.9 L648.4,88.8 L648.9,88.7 L649.4,88.8 L649.9,88.7 L650.4,88.5 L650.9,88.6 L651.4,88.4" stroke="#9b9cf1" stroke-width="0.85" fill="none" stroke-linejoin="round"/>
<path d="M565.0,129.7 L566.0,130.8 L566.9,129.6 L567.9,131.2 L568.8,128.9 L569.8,131.0 L570.7,130.0 L571.7,130.6 L572.6,129.9 L573.6,130.9 L574.6,129.7 L575.5,130.7 L576.5,130.0 L577.4,130.8 L578.4,129.6 L579.3,130.9 L580.3,129.6 L581.2,130.6 L582.2,129.9 L583.2,130.6 L584.1,129.7 L585.1,130.8 L586.0,129.7 L587.0,130.7 L587.9,129.6 L588.9,130.9 L589.8,129.5 L590.8,130.8 L591.8,130.0 L592.7,131.9 L593.7,129.5 L594.6,130.7 L595.6,129.9 L596.5,130.8 L597.5,129.1 L598.4,131.9 L599.4,128.2 L600.4,133.0 L601.3,125.4 L602.3,134.9 L603.2,122.5 L604.2,137.5 L605.1,123.8 L606.1,136.0 L607.0,126.2 L608.0,135.5 L609.0,126.0 L609.9,132.7 L610.9,128.4 L611.8,131.5 L612.8,128.6 L613.7,131.2 L614.7,129.7 L615.6,131.1 L616.6,129.8 L617.6,130.9 L618.5,129.6 L619.5,130.9 L620.4,129.8 L621.4,130.6 L622.3,130.0 L623.3,130.6 L624.2,129.5 L625.2,130.8 L626.2,130.0 L627.1,130.9 L628.1,130.0 L629.0,130.6 L630.0,129.5 L630.9,130.6 L631.9,129.5 L632.8,131.7 L633.8,128.9 L634.8,131.9 L635.7,129.6 L636.7,130.6 L637.6,129.8 L638.6,130.8 L639.5,129.8 L640.5,131.3 L641.4,129.8 L642.4,131.5 L643.4,129.7 L644.3,130.9 L645.3,129.8 L646.2,131.0 L647.2,129.9 L648.1,130.8 L649.1,129.5 L650.0,130.6 L651.0,130.0" stroke="#9b9cf1" stroke-width="0.7" fill="none" stroke-linejoin="round"/>
<text x="197.8" y="54.5" font-size="8.9" font-weight="bold" text-anchor="start" fill="#111" >LFP</text>
<text x="197.8" y="85.8" font-size="8.9" font-weight="bold" text-anchor="start" fill="#111" >SW</text>
<text x="197.8" y="130.0" font-size="8.9" font-weight="bold" text-anchor="start" fill="#111" >R</text>
<text x="462.0" y="54.3" font-size="8.9" font-weight="bold" text-anchor="start" fill="#111" >LFP</text>
<text x="462.0" y="84.6" font-size="8.9" font-weight="bold" text-anchor="start" fill="#111" >SW</text>
<text x="462.0" y="128.2" font-size="8.9" font-weight="bold" text-anchor="start" fill="#111" >R</text>
<text x="384.1" y="43.8" font-size="8.8" font-weight="bold" text-anchor="end" fill="#111" >50 µV</text>
<path d="M380.9,46.2 L388.5,46.2 L388.5,41.6" stroke="#111" stroke-width="0.9" fill="none" />
<text x="389.7" y="55.0" font-size="8.8" font-weight="bold" text-anchor="end" fill="#111" >50 ms</text>
<text x="386.9" y="86.2" font-size="8.8" font-weight="bold" text-anchor="end" fill="#111" >50 µV</text>
<line x1="388.6" y1="81.5" x2="388.6" y2="86.2" stroke="#111" stroke-width="0.9" />
<text x="386.9" y="128.0" font-size="8.8" font-weight="bold" text-anchor="end" fill="#111" >5 µV</text>
<line x1="388.6" y1="125.8" x2="388.6" y2="128.4" stroke="#111" stroke-width="0.9" />
<text x="645.2" y="43.8" font-size="8.8" font-weight="bold" text-anchor="end" fill="#111" >50 µV</text>
<path d="M642.0,46.2 L649.5999999999999,46.2 L649.5999999999999,41.6" stroke="#111" stroke-width="0.9" fill="none" />
<text x="650.8" y="55.0" font-size="8.8" font-weight="bold" text-anchor="end" fill="#111" >50 ms</text>
<text x="648.0" y="86.2" font-size="8.8" font-weight="bold" text-anchor="end" fill="#111" >50 µV</text>
<line x1="649.7" y1="81.5" x2="649.7" y2="86.2" stroke="#111" stroke-width="0.9" />
<text x="648.0" y="125.2" font-size="8.8" font-weight="bold" text-anchor="end" fill="#111" >5 µV</text>
<line x1="649.7" y1="121.4" x2="649.7" y2="125.6" stroke="#111" stroke-width="0.9" />
<rect x="198.5" y="147.0" width="101.5" height="45.7" fill="#3b0704" stroke="none" stroke-width="0" />
<path d="M265.3,147.0h2.7v3.8h-2.7zM280.2,147.0h5.2v3.8h-5.2zM210.9,150.5h5.2v3.8h-5.2zM220.8,150.5h2.7v3.8h-2.7zM235.6,150.5h2.7v3.8h-2.7zM290.1,150.5h7.7v3.8h-7.7zM215.8,154.0h5.2v3.8h-5.2zM223.3,154.0h2.7v3.8h-2.7zM230.7,154.0h10.2v3.8h-10.2zM260.4,154.0h7.7v3.8h-7.7zM272.8,154.0h2.7v3.8h-2.7zM285.1,154.0h2.7v3.8h-2.7zM290.1,154.0h7.7v3.8h-7.7zM205.9,157.5h5.2v3.8h-5.2zM218.3,157.5h2.7v3.8h-2.7zM235.6,157.5h7.7v3.8h-7.7zM262.9,157.5h10.2v3.8h-10.2zM282.7,157.5h2.7v3.8h-2.7zM287.6,157.5h2.7v3.8h-2.7zM295.0,157.5h2.7v3.8h-2.7zM215.8,161.1h5.2v3.8h-5.2zM230.7,161.1h2.7v3.8h-2.7zM260.4,161.1h2.7v3.8h-2.7zM267.8,161.1h5.2v3.8h-5.2zM275.2,161.1h5.2v3.8h-5.2zM282.7,161.1h2.7v3.8h-2.7zM287.6,161.1h2.7v3.8h-2.7zM292.6,161.1h7.7v3.8h-7.7zM210.9,164.6h2.7v3.8h-2.7zM220.8,164.6h2.7v3.8h-2.7zM233.2,164.6h5.2v3.8h-5.2zM262.9,164.6h2.7v3.8h-2.7zM267.8,164.6h7.7v3.8h-7.7zM285.1,164.6h5.2v3.8h-5.2zM297.5,164.6h2.7v3.8h-2.7zM208.4,168.1h2.7v3.8h-2.7zM215.8,168.1h2.7v3.8h-2.7zM238.1,168.1h7.7v3.8h-7.7zM262.9,168.1h5.2v3.8h-5.2zM270.3,168.1h10.2v3.8h-10.2zM282.7,168.1h17.6v3.8h-17.6zM213.4,171.6h5.2v3.8h-5.2zM230.7,171.6h7.7v3.8h-7.7zM240.6,171.6h2.7v3.8h-2.7zM280.2,171.6h7.7v3.8h-7.7zM290.1,171.6h2.7v3.8h-2.7zM295.0,171.6h2.7v3.8h-2.7zM230.7,175.1h2.7v3.8h-2.7zM235.6,175.1h5.2v3.8h-5.2zM262.9,175.1h5.2v3.8h-5.2zM282.7,175.1h2.7v3.8h-2.7zM290.1,175.1h7.7v3.8h-7.7zM201.0,178.6h2.7v3.8h-2.7zM210.9,178.6h2.7v3.8h-2.7zM218.3,178.6h2.7v3.8h-2.7zM260.4,178.6h5.2v3.8h-5.2zM267.8,178.6h2.7v3.8h-2.7zM277.7,178.6h2.7v3.8h-2.7zM198.5,182.2h5.2v3.8h-5.2zM205.9,182.2h10.2v3.8h-10.2zM228.2,182.2h10.2v3.8h-10.2zM265.3,182.2h2.7v3.8h-2.7zM272.8,182.2h2.7v3.8h-2.7zM205.9,185.7h2.7v3.8h-2.7zM210.9,185.7h7.7v3.8h-7.7zM220.8,185.7h5.2v3.8h-5.2zM230.7,185.7h10.2v3.8h-10.2zM280.2,185.7h5.2v3.8h-5.2zM295.0,185.7h5.2v3.8h-5.2z" fill="#680f08"/>
<path d="M220.8,147.0h5.2v3.8h-5.2zM240.6,147.0h2.7v3.8h-2.7zM262.9,147.0h2.7v3.8h-2.7zM208.4,150.5h2.7v3.8h-2.7zM223.3,150.5h2.7v3.8h-2.7zM233.2,150.5h2.7v3.8h-2.7zM238.1,150.5h2.7v3.8h-2.7zM265.3,150.5h5.2v3.8h-5.2zM277.7,150.5h2.7v3.8h-2.7zM297.5,150.5h2.7v3.8h-2.7zM213.4,154.0h2.7v3.8h-2.7zM225.7,154.0h2.7v3.8h-2.7zM267.8,154.0h5.2v3.8h-5.2zM275.2,154.0h10.2v3.8h-10.2zM203.5,157.5h2.7v3.8h-2.7zM230.7,157.5h5.2v3.8h-5.2zM285.1,157.5h2.7v3.8h-2.7zM213.4,161.1h2.7v3.8h-2.7zM223.3,161.1h7.7v3.8h-7.7zM285.1,161.1h2.7v3.8h-2.7zM290.1,161.1h2.7v3.8h-2.7zM208.4,164.6h2.7v3.8h-2.7zM213.4,164.6h7.7v3.8h-7.7zM223.3,164.6h2.7v3.8h-2.7zM260.4,164.6h2.7v3.8h-2.7zM265.3,164.6h2.7v3.8h-2.7zM275.2,164.6h10.2v3.8h-10.2zM210.9,168.1h5.2v3.8h-5.2zM218.3,168.1h2.7v3.8h-2.7zM233.2,168.1h5.2v3.8h-5.2zM218.3,171.6h2.7v3.8h-2.7zM228.2,171.6h2.7v3.8h-2.7zM287.6,171.6h2.7v3.8h-2.7zM215.8,175.1h2.7v3.8h-2.7zM220.8,175.1h2.7v3.8h-2.7zM225.7,175.1h5.2v3.8h-5.2zM260.4,175.1h2.7v3.8h-2.7zM277.7,175.1h5.2v3.8h-5.2zM297.5,175.1h2.7v3.8h-2.7zM213.4,178.6h5.2v3.8h-5.2zM220.8,178.6h15.1v3.8h-15.1zM257.9,178.6h2.7v3.8h-2.7zM292.6,178.6h7.7v3.8h-7.7zM238.1,182.2h5.2v3.8h-5.2zM260.4,182.2h5.2v3.8h-5.2zM267.8,182.2h5.2v3.8h-5.2zM280.2,182.2h5.2v3.8h-5.2zM203.5,185.7h2.7v3.8h-2.7zM208.4,185.7h2.7v3.8h-2.7zM218.3,185.7h2.7v3.8h-2.7zM260.4,185.7h2.7v3.8h-2.7zM275.2,185.7h5.2v3.8h-5.2zM285.1,185.7h10.2v3.8h-10.2z" fill="#95170c"/>
<path d="M238.1,147.0h2.7v3.8h-2.7zM228.2,150.5h5.2v3.8h-5.2zM262.9,150.5h2.7v3.8h-2.7zM275.2,150.5h2.7v3.8h-2.7zM280.2,150.5h2.7v3.8h-2.7zM208.4,154.0h5.2v3.8h-5.2zM228.2,154.0h2.7v3.8h-2.7zM210.9,161.1h2.7v3.8h-2.7zM228.2,168.1h5.2v3.8h-5.2zM260.4,168.1h2.7v3.8h-2.7zM220.8,171.6h7.7v3.8h-7.7zM218.3,175.1h2.7v3.8h-2.7zM223.3,175.1h2.7v3.8h-2.7zM235.6,178.6h5.2v3.8h-5.2zM290.1,178.6h2.7v3.8h-2.7zM257.9,182.2h2.7v3.8h-2.7zM285.1,182.2h15.1v3.8h-15.1zM201.0,185.7h2.7v3.8h-2.7zM272.8,185.7h2.7v3.8h-2.7zM198.5,189.2h2.7v3.8h-2.7zM218.3,189.2h2.7v3.8h-2.7z" fill="#c31e11"/>
<path d="M205.9,150.5h2.7v3.8h-2.7zM260.4,150.5h2.7v3.8h-2.7zM272.8,150.5h2.7v3.8h-2.7zM228.2,157.5h2.7v3.8h-2.7zM208.4,161.1h2.7v3.8h-2.7zM230.7,164.6h2.7v3.8h-2.7zM225.7,168.1h2.7v3.8h-2.7zM255.4,171.6h2.7v3.8h-2.7zM213.4,175.1h2.7v3.8h-2.7zM275.2,175.1h2.7v3.8h-2.7zM240.6,178.6h2.7v3.8h-2.7zM257.9,185.7h2.7v3.8h-2.7zM270.3,185.7h2.7v3.8h-2.7zM201.0,189.2h7.7v3.8h-7.7zM210.9,189.2h7.7v3.8h-7.7zM220.8,189.2h10.2v3.8h-10.2zM295.0,189.2h5.2v3.8h-5.2z" fill="#f02615"/>
<path d="M203.5,150.5h2.7v3.8h-2.7zM270.3,150.5h2.7v3.8h-2.7zM240.6,154.0h2.7v3.8h-2.7zM257.9,154.0h2.7v3.8h-2.7zM225.7,157.5h2.7v3.8h-2.7zM205.9,161.1h2.7v3.8h-2.7zM225.7,164.6h5.2v3.8h-5.2zM223.3,168.1h2.7v3.8h-2.7zM210.9,175.1h2.7v3.8h-2.7zM272.8,175.1h2.7v3.8h-2.7zM287.6,178.6h2.7v3.8h-2.7zM277.7,182.2h2.7v3.8h-2.7zM240.6,185.7h2.7v3.8h-2.7zM208.4,189.2h2.7v3.8h-2.7zM235.6,189.2h5.2v3.8h-5.2zM280.2,189.2h15.1v3.8h-15.1z" fill="#ff2316"/>
<path d="M243.1,147.0h2.7v3.8h-2.7zM253.0,147.0h2.7v3.8h-2.7zM225.7,150.5h2.7v3.8h-2.7zM243.1,150.5h2.7v3.8h-2.7zM253.0,150.5h2.7v3.8h-2.7zM257.9,150.5h2.7v3.8h-2.7zM282.7,150.5h7.7v3.8h-7.7zM203.5,154.0h5.2v3.8h-5.2zM257.9,164.6h2.7v3.8h-2.7zM257.9,171.6h2.7v3.8h-2.7zM208.4,175.1h2.7v3.8h-2.7zM240.6,175.1h2.7v3.8h-2.7zM250.5,175.1h10.2v3.8h-10.2zM267.8,185.7h2.7v3.8h-2.7zM233.2,189.2h2.7v3.8h-2.7zM240.6,189.2h2.7v3.8h-2.7zM257.9,189.2h22.5v3.8h-22.5z" fill="#ff5216"/>
<path d="M210.9,157.5h7.7v3.8h-7.7zM203.5,161.1h2.7v3.8h-2.7zM220.8,168.1h2.7v3.8h-2.7zM253.0,168.1h7.7v3.8h-7.7zM243.1,171.6h5.2v3.8h-5.2zM260.4,171.6h15.1v3.8h-15.1zM285.1,178.6h2.7v3.8h-2.7zM230.7,189.2h2.7v3.8h-2.7z" fill="#ff8316"/>
<path d="M201.0,150.5h2.7v3.8h-2.7zM275.2,171.6h2.7v3.8h-2.7zM265.3,185.7h2.7v3.8h-2.7z" fill="#ffb516"/>
<path d="M240.6,150.5h2.7v3.8h-2.7zM223.3,157.5h2.7v3.8h-2.7z" fill="#ffe616"/>
<path d="M201.0,154.0h2.7v3.8h-2.7zM262.9,185.7h2.7v3.8h-2.7z" fill="#ffff24"/>
<path d="M245.5,147.0h7.7v3.8h-7.7zM245.5,150.5h7.7v3.8h-7.7zM243.1,154.0h15.1v3.8h-15.1zM243.1,157.5h17.6v3.8h-17.6zM243.1,161.1h17.6v3.8h-17.6zM243.1,164.6h15.1v3.8h-15.1zM245.5,168.1h7.7v3.8h-7.7zM248.0,171.6h7.7v3.8h-7.7zM243.1,175.1h7.7v3.8h-7.7zM243.1,178.6h15.1v3.8h-15.1zM243.1,182.2h15.1v3.8h-15.1zM243.1,185.7h15.1v3.8h-15.1zM243.1,189.2h15.1v3.8h-15.1z" fill="#ffffff"/>
<text x="199.5" y="152.4" font-size="4.9" font-weight="normal" text-anchor="start" fill="#efefef" >Spectrogram Z-Score</text>
<rect x="304.0" y="147.0" width="87.5" height="45.7" fill="#3b0704" stroke="none" stroke-width="0" />
<path d="M313.7,150.5h10.0v3.8h-10.0zM355.0,150.5h2.7v3.8h-2.7zM369.6,150.5h2.7v3.8h-2.7zM374.5,150.5h5.1v3.8h-5.1zM381.8,150.5h2.7v3.8h-2.7zM389.1,150.5h2.7v3.8h-2.7zM308.9,154.0h2.7v3.8h-2.7zM316.2,154.0h2.7v3.8h-2.7zM325.9,154.0h2.7v3.8h-2.7zM369.6,154.0h2.7v3.8h-2.7zM376.9,154.0h2.7v3.8h-2.7zM306.4,157.5h5.1v3.8h-5.1zM316.2,157.5h2.7v3.8h-2.7zM323.4,157.5h5.1v3.8h-5.1zM335.6,157.5h5.1v3.8h-5.1zM372.1,157.5h7.5v3.8h-7.5zM316.2,161.1h2.7v3.8h-2.7zM323.4,161.1h2.7v3.8h-2.7zM328.3,161.1h2.7v3.8h-2.7zM335.6,161.1h2.7v3.8h-2.7zM374.5,161.1h2.7v3.8h-2.7zM379.3,161.1h5.1v3.8h-5.1zM386.6,161.1h2.7v3.8h-2.7zM321.0,164.6h2.7v3.8h-2.7zM359.9,164.6h2.7v3.8h-2.7zM367.2,164.6h10.0v3.8h-10.0zM379.3,164.6h12.4v3.8h-12.4zM304.0,168.1h7.5v3.8h-7.5zM318.6,168.1h2.7v3.8h-2.7zM328.3,168.1h7.5v3.8h-7.5zM367.2,168.1h12.4v3.8h-12.4zM381.8,168.1h2.7v3.8h-2.7zM318.6,171.6h2.7v3.8h-2.7zM323.4,171.6h7.5v3.8h-7.5zM372.1,171.6h5.1v3.8h-5.1zM311.3,175.1h2.7v3.8h-2.7zM321.0,175.1h2.7v3.8h-2.7zM330.7,175.1h5.1v3.8h-5.1zM379.3,175.1h2.7v3.8h-2.7zM325.9,178.6h2.7v3.8h-2.7zM333.2,178.6h5.1v3.8h-5.1zM357.5,178.6h2.7v3.8h-2.7zM321.0,182.2h2.7v3.8h-2.7zM350.2,182.2h5.1v3.8h-5.1zM379.3,182.2h2.7v3.8h-2.7zM384.2,182.2h2.7v3.8h-2.7zM389.1,182.2h2.7v3.8h-2.7zM313.7,185.7h2.7v3.8h-2.7zM318.6,185.7h2.7v3.8h-2.7zM357.5,185.7h2.7v3.8h-2.7zM362.3,185.7h2.7v3.8h-2.7zM372.1,185.7h5.1v3.8h-5.1zM379.3,185.7h7.5v3.8h-7.5z" fill="#680f08"/>
<path d="M372.1,150.5h2.7v3.8h-2.7zM318.6,157.5h2.7v3.8h-2.7zM318.6,161.1h5.1v3.8h-5.1zM323.4,164.6h12.4v3.8h-12.4zM364.8,164.6h2.7v3.8h-2.7zM376.9,164.6h2.7v3.8h-2.7zM321.0,168.1h2.7v3.8h-2.7zM379.3,168.1h2.7v3.8h-2.7zM384.2,168.1h7.5v3.8h-7.5zM316.2,171.6h2.7v3.8h-2.7zM379.3,171.6h5.1v3.8h-5.1zM323.4,178.6h2.7v3.8h-2.7zM328.3,178.6h5.1v3.8h-5.1zM355.0,182.2h5.1v3.8h-5.1zM386.6,182.2h2.7v3.8h-2.7zM311.3,185.7h2.7v3.8h-2.7zM355.0,185.7h2.7v3.8h-2.7zM359.9,185.7h2.7v3.8h-2.7z" fill="#95170c"/>
<path d="M347.8,147.0h2.7v3.8h-2.7zM306.4,154.0h2.7v3.8h-2.7zM369.6,161.1h5.1v3.8h-5.1zM384.2,178.6h7.5v3.8h-7.5zM335.6,182.2h5.1v3.8h-5.1zM308.9,185.7h2.7v3.8h-2.7zM376.9,189.2h2.7v3.8h-2.7z" fill="#c31e11"/>
<path d="M340.5,150.5h2.7v3.8h-2.7zM347.8,154.0h2.7v3.8h-2.7zM350.2,161.1h2.7v3.8h-2.7zM367.2,161.1h2.7v3.8h-2.7zM313.7,171.6h2.7v3.8h-2.7zM389.1,171.6h2.7v3.8h-2.7zM323.4,175.1h2.7v3.8h-2.7zM338.0,178.6h2.7v3.8h-2.7zM306.4,185.7h2.7v3.8h-2.7zM335.6,185.7h5.1v3.8h-5.1zM304.0,189.2h10.0v3.8h-10.0zM352.6,189.2h19.7v3.8h-19.7zM374.5,189.2h2.7v3.8h-2.7zM379.3,189.2h5.1v3.8h-5.1z" fill="#f02615"/>
<path d="M345.3,150.5h2.7v3.8h-2.7zM364.8,161.1h2.7v3.8h-2.7zM386.6,171.6h2.7v3.8h-2.7zM325.9,175.1h5.1v3.8h-5.1zM389.1,175.1h2.7v3.8h-2.7zM350.2,178.6h2.7v3.8h-2.7zM333.2,182.2h2.7v3.8h-2.7zM304.0,185.7h2.7v3.8h-2.7zM333.2,185.7h2.7v3.8h-2.7zM313.7,189.2h2.7v3.8h-2.7zM318.6,189.2h7.5v3.8h-7.5zM330.7,189.2h10.0v3.8h-10.0zM372.1,189.2h2.7v3.8h-2.7z" fill="#ff2316"/>
<path d="M338.0,147.0h2.7v3.8h-2.7zM304.0,154.0h2.7v3.8h-2.7zM338.0,154.0h2.7v3.8h-2.7zM359.9,157.5h5.1v3.8h-5.1zM335.6,164.6h2.7v3.8h-2.7zM335.6,171.6h2.7v3.8h-2.7zM350.2,175.1h2.7v3.8h-2.7zM321.0,185.7h12.4v3.8h-12.4zM352.6,185.7h2.7v3.8h-2.7zM316.2,189.2h2.7v3.8h-2.7zM325.9,189.2h5.1v3.8h-5.1zM350.2,189.2h2.7v3.8h-2.7zM389.1,189.2h2.7v3.8h-2.7z" fill="#ff5216"/>
<path d="M364.8,157.5h2.7v3.8h-2.7zM338.0,168.1h2.7v3.8h-2.7zM333.2,171.6h2.7v3.8h-2.7zM338.0,171.6h12.4v3.8h-12.4zM342.9,175.1h7.5v3.8h-7.5zM386.6,175.1h2.7v3.8h-2.7zM323.4,182.2h2.7v3.8h-2.7zM330.7,182.2h2.7v3.8h-2.7zM386.6,189.2h2.7v3.8h-2.7z" fill="#ff8316"/>
<path d="M340.5,147.0h7.5v3.8h-7.5zM384.2,171.6h2.7v3.8h-2.7zM328.3,182.2h2.7v3.8h-2.7z" fill="#ffe616"/>
<path d="M384.2,175.1h2.7v3.8h-2.7zM325.9,182.2h2.7v3.8h-2.7zM384.2,189.2h2.7v3.8h-2.7z" fill="#ffff24"/>
<path d="M342.9,150.5h2.7v3.8h-2.7zM340.5,154.0h7.5v3.8h-7.5zM340.5,157.5h10.0v3.8h-10.0zM340.5,161.1h10.0v3.8h-10.0zM338.0,164.6h14.8v3.8h-14.8zM340.5,168.1h10.0v3.8h-10.0zM340.5,178.6h10.0v3.8h-10.0zM340.5,182.2h10.0v3.8h-10.0zM340.5,185.7h12.4v3.8h-12.4zM340.5,189.2h10.0v3.8h-10.0z" fill="#ffffff"/>
<text x="305.0" y="152.4" font-size="5.4" font-weight="normal" text-anchor="start" fill="#efefef" >Spectrogram Z-Score</text>
<rect x="462.0" y="148.5" width="95.7" height="41.2" fill="#3b0704" stroke="none" stroke-width="0" />
<path d="M469.4,148.5h7.6v3.4h-7.6zM493.9,148.5h7.6v3.4h-7.6zM481.6,151.7h7.6v3.4h-7.6zM538.1,151.7h5.2v3.4h-5.2zM474.3,154.8h2.7v3.4h-2.7zM479.2,154.8h5.2v3.4h-5.2zM491.4,154.8h2.7v3.4h-2.7zM530.7,154.8h2.7v3.4h-2.7zM535.6,154.8h5.2v3.4h-5.2zM543.0,154.8h2.7v3.4h-2.7zM555.2,154.8h2.7v3.4h-2.7zM484.1,158.0h2.7v3.4h-2.7zM491.4,158.0h2.7v3.4h-2.7zM496.4,158.0h5.2v3.4h-5.2zM523.3,158.0h7.6v3.4h-7.6zM540.5,158.0h2.7v3.4h-2.7zM545.4,158.0h2.7v3.4h-2.7zM493.9,161.2h5.2v3.4h-5.2zM523.3,161.2h2.7v3.4h-2.7zM535.6,161.2h5.2v3.4h-5.2zM543.0,161.2h7.6v3.4h-7.6zM552.8,161.2h2.7v3.4h-2.7zM493.9,164.3h5.2v3.4h-5.2zM523.3,164.3h10.1v3.4h-10.1zM535.6,164.3h2.7v3.4h-2.7zM540.5,164.3h10.1v3.4h-10.1zM552.8,164.3h5.2v3.4h-5.2zM476.7,167.5h2.7v3.4h-2.7zM530.7,167.5h7.6v3.4h-7.6zM543.0,167.5h2.7v3.4h-2.7zM552.8,167.5h5.2v3.4h-5.2zM491.4,170.7h2.7v3.4h-2.7zM543.0,170.7h2.7v3.4h-2.7zM547.9,170.7h5.2v3.4h-5.2zM466.9,173.9h5.2v3.4h-5.2zM481.6,173.9h5.2v3.4h-5.2zM489.0,173.9h5.2v3.4h-5.2zM518.4,173.9h2.7v3.4h-2.7zM533.2,173.9h2.7v3.4h-2.7zM538.1,173.9h2.7v3.4h-2.7zM543.0,173.9h2.7v3.4h-2.7zM547.9,173.9h5.2v3.4h-5.2zM476.7,177.0h12.5v3.4h-12.5zM491.4,177.0h7.6v3.4h-7.6zM538.1,177.0h7.6v3.4h-7.6zM552.8,177.0h2.7v3.4h-2.7zM469.4,180.2h2.7v3.4h-2.7zM479.2,180.2h10.1v3.4h-10.1zM523.3,180.2h2.7v3.4h-2.7zM528.3,180.2h2.7v3.4h-2.7zM540.5,180.2h12.5v3.4h-12.5zM555.2,180.2h2.7v3.4h-2.7zM466.9,183.4h2.7v3.4h-2.7zM474.3,183.4h2.7v3.4h-2.7zM493.9,183.4h2.7v3.4h-2.7zM520.9,183.4h2.7v3.4h-2.7zM525.8,183.4h5.2v3.4h-5.2zM535.6,183.4h2.7v3.4h-2.7zM545.4,183.4h2.7v3.4h-2.7zM550.3,183.4h2.7v3.4h-2.7z" fill="#680f08"/>
<path d="M491.4,148.5h2.7v3.4h-2.7zM479.2,151.7h2.7v3.4h-2.7zM489.0,151.7h2.7v3.4h-2.7zM493.9,151.7h5.2v3.4h-5.2zM469.4,154.8h5.2v3.4h-5.2zM476.7,154.8h2.7v3.4h-2.7zM484.1,154.8h2.7v3.4h-2.7zM489.0,154.8h2.7v3.4h-2.7zM493.9,154.8h7.6v3.4h-7.6zM533.2,154.8h2.7v3.4h-2.7zM552.8,154.8h2.7v3.4h-2.7zM493.9,158.0h2.7v3.4h-2.7zM547.9,158.0h2.7v3.4h-2.7zM540.5,161.2h2.7v3.4h-2.7zM550.3,161.2h2.7v3.4h-2.7zM555.2,161.2h2.7v3.4h-2.7zM538.1,164.3h2.7v3.4h-2.7zM528.3,167.5h2.7v3.4h-2.7zM538.1,167.5h5.2v3.4h-5.2zM533.2,170.7h7.6v3.4h-7.6zM545.4,170.7h2.7v3.4h-2.7zM555.2,170.7h2.7v3.4h-2.7zM476.7,173.9h5.2v3.4h-5.2zM520.9,173.9h2.7v3.4h-2.7zM552.8,173.9h5.2v3.4h-5.2zM489.0,177.0h2.7v3.4h-2.7zM518.4,177.0h7.6v3.4h-7.6zM535.6,177.0h2.7v3.4h-2.7zM525.8,180.2h2.7v3.4h-2.7zM530.7,180.2h2.7v3.4h-2.7zM535.6,180.2h2.7v3.4h-2.7zM486.5,183.4h7.6v3.4h-7.6zM538.1,183.4h7.6v3.4h-7.6zM462.0,186.5h2.7v3.4h-2.7z" fill="#95170c"/>
<path d="M466.9,148.5h2.7v3.4h-2.7zM471.8,151.7h7.6v3.4h-7.6zM491.4,151.7h2.7v3.4h-2.7zM535.6,151.7h2.7v3.4h-2.7zM550.3,154.8h2.7v3.4h-2.7zM550.3,158.0h7.6v3.4h-7.6zM518.4,167.5h2.7v3.4h-2.7zM540.5,170.7h2.7v3.4h-2.7zM528.3,173.9h5.2v3.4h-5.2zM525.8,177.0h10.1v3.4h-10.1zM533.2,180.2h2.7v3.4h-2.7zM481.6,183.4h5.2v3.4h-5.2zM464.5,186.5h10.1v3.4h-10.1z" fill="#c31e11"/>
<path d="M489.0,148.5h2.7v3.4h-2.7zM469.4,151.7h2.7v3.4h-2.7zM501.3,158.0h2.7v3.4h-2.7zM520.9,158.0h2.7v3.4h-2.7zM535.6,158.0h2.7v3.4h-2.7zM525.8,167.5h2.7v3.4h-2.7zM520.9,170.7h2.7v3.4h-2.7zM530.7,170.7h2.7v3.4h-2.7zM474.3,173.9h2.7v3.4h-2.7zM523.3,173.9h5.2v3.4h-5.2zM474.3,186.5h2.7v3.4h-2.7zM496.4,186.5h2.7v3.4h-2.7zM525.8,186.5h12.5v3.4h-12.5zM543.0,186.5h15.0v3.4h-15.0z" fill="#f02615"/>
<path d="M533.2,151.7h2.7v3.4h-2.7zM501.3,154.8h2.7v3.4h-2.7zM520.9,154.8h2.7v3.4h-2.7zM533.2,158.0h2.7v3.4h-2.7zM538.1,158.0h2.7v3.4h-2.7zM481.6,167.5h5.2v3.4h-5.2zM528.3,170.7h2.7v3.4h-2.7zM552.8,170.7h2.7v3.4h-2.7zM498.8,173.9h2.7v3.4h-2.7zM479.2,183.4h2.7v3.4h-2.7zM498.8,183.4h2.7v3.4h-2.7zM476.7,186.5h7.6v3.4h-7.6zM493.9,186.5h2.7v3.4h-2.7zM498.8,186.5h5.2v3.4h-5.2zM523.3,186.5h2.7v3.4h-2.7zM538.1,186.5h5.2v3.4h-5.2z" fill="#ff2316"/>
<path d="M501.3,148.5h2.7v3.4h-2.7zM466.9,151.7h2.7v3.4h-2.7zM498.8,151.7h2.7v3.4h-2.7zM520.9,151.7h2.7v3.4h-2.7zM547.9,154.8h2.7v3.4h-2.7zM513.5,158.0h7.6v3.4h-7.6zM520.9,161.2h2.7v3.4h-2.7zM520.9,164.3h2.7v3.4h-2.7zM479.2,167.5h2.7v3.4h-2.7zM498.8,170.7h2.7v3.4h-2.7zM489.0,186.5h5.2v3.4h-5.2z" fill="#ff5216"/>
<path d="M520.9,148.5h2.7v3.4h-2.7zM530.7,151.7h2.7v3.4h-2.7zM511.1,167.5h7.6v3.4h-7.6zM523.3,167.5h2.7v3.4h-2.7zM471.8,173.9h2.7v3.4h-2.7zM486.5,186.5h2.7v3.4h-2.7z" fill="#ff8316"/>
<path d="M525.8,170.7h2.7v3.4h-2.7zM476.7,183.4h2.7v3.4h-2.7zM484.1,186.5h2.7v3.4h-2.7z" fill="#ffb516"/>
<path d="M545.4,154.8h2.7v3.4h-2.7zM520.9,167.5h2.7v3.4h-2.7z" fill="#ffe616"/>
<path d="M523.3,170.7h2.7v3.4h-2.7z" fill="#ffff24"/>
<path d="M503.7,148.5h17.4v3.4h-17.4zM501.3,151.7h19.9v3.4h-19.9zM503.7,154.8h17.4v3.4h-17.4zM503.7,158.0h10.1v3.4h-10.1zM501.3,161.2h19.9v3.4h-19.9zM503.7,164.3h17.4v3.4h-17.4zM498.8,167.5h12.5v3.4h-12.5zM501.3,170.7h19.9v3.4h-19.9zM501.3,173.9h17.4v3.4h-17.4zM501.3,177.0h17.4v3.4h-17.4zM501.3,180.2h17.4v3.4h-17.4zM501.3,183.4h19.9v3.4h-19.9zM503.7,186.5h19.9v3.4h-19.9z" fill="#ffffff"/>
<text x="463.0" y="153.9" font-size="6.7" font-weight="normal" text-anchor="start" fill="#efefef" >Spectrogram Z-Score</text>
<rect x="563.0" y="148.5" width="88.5" height="41.2" fill="#3b0704" stroke="none" stroke-width="0" />
<path d="M590.0,151.7h5.2v3.4h-5.2zM631.8,151.7h2.7v3.4h-2.7zM636.8,151.7h12.5v3.4h-12.5zM567.9,154.8h2.7v3.4h-2.7zM572.8,154.8h5.2v3.4h-5.2zM580.2,154.8h2.7v3.4h-2.7zM631.8,154.8h10.1v3.4h-10.1zM644.1,154.8h7.6v3.4h-7.6zM570.4,158.0h7.6v3.4h-7.6zM580.2,158.0h2.7v3.4h-2.7zM592.5,158.0h5.2v3.4h-5.2zM631.8,158.0h5.2v3.4h-5.2zM567.9,161.2h5.2v3.4h-5.2zM580.2,161.2h10.1v3.4h-10.1zM614.6,161.2h5.2v3.4h-5.2zM622.0,161.2h7.6v3.4h-7.6zM639.2,161.2h2.7v3.4h-2.7zM567.9,164.3h2.7v3.4h-2.7zM572.8,164.3h5.2v3.4h-5.2zM580.2,164.3h2.7v3.4h-2.7zM612.2,164.3h10.1v3.4h-10.1zM624.5,164.3h5.2v3.4h-5.2zM634.3,164.3h5.2v3.4h-5.2zM641.7,164.3h5.2v3.4h-5.2zM649.0,164.3h2.7v3.4h-2.7zM563.0,167.5h2.7v3.4h-2.7zM567.9,167.5h2.7v3.4h-2.7zM585.1,167.5h2.7v3.4h-2.7zM592.5,167.5h2.7v3.4h-2.7zM614.6,167.5h2.7v3.4h-2.7zM634.3,167.5h2.7v3.4h-2.7zM641.7,167.5h2.7v3.4h-2.7zM649.0,167.5h2.7v3.4h-2.7zM572.8,170.7h7.6v3.4h-7.6zM582.7,170.7h2.7v3.4h-2.7zM614.6,170.7h2.7v3.4h-2.7zM619.5,170.7h2.7v3.4h-2.7zM629.4,170.7h5.2v3.4h-5.2zM565.5,173.9h2.7v3.4h-2.7zM580.2,173.9h2.7v3.4h-2.7zM592.5,173.9h2.7v3.4h-2.7zM609.7,173.9h2.7v3.4h-2.7zM614.6,173.9h5.2v3.4h-5.2zM639.2,173.9h2.7v3.4h-2.7zM567.9,177.0h2.7v3.4h-2.7zM580.2,177.0h2.7v3.4h-2.7zM609.7,177.0h5.2v3.4h-5.2zM619.5,177.0h5.2v3.4h-5.2zM639.2,177.0h2.7v3.4h-2.7zM565.5,180.2h2.7v3.4h-2.7zM577.8,180.2h2.7v3.4h-2.7zM592.5,180.2h2.7v3.4h-2.7zM614.6,180.2h2.7v3.4h-2.7zM619.5,180.2h2.7v3.4h-2.7zM624.5,180.2h5.2v3.4h-5.2zM636.8,180.2h2.7v3.4h-2.7zM641.7,180.2h2.7v3.4h-2.7zM572.8,183.4h2.7v3.4h-2.7zM580.2,183.4h2.7v3.4h-2.7zM590.0,183.4h2.7v3.4h-2.7zM612.2,183.4h7.6v3.4h-7.6zM622.0,183.4h2.7v3.4h-2.7zM631.8,183.4h5.2v3.4h-5.2zM639.2,183.4h12.5v3.4h-12.5z" fill="#680f08"/>
<path d="M622.0,154.8h2.7v3.4h-2.7zM641.7,154.8h2.7v3.4h-2.7zM646.6,158.0h5.2v3.4h-5.2zM572.8,161.2h7.6v3.4h-7.6zM641.7,161.2h2.7v3.4h-2.7zM577.8,164.3h2.7v3.4h-2.7zM622.0,164.3h2.7v3.4h-2.7zM629.4,164.3h5.2v3.4h-5.2zM639.2,164.3h2.7v3.4h-2.7zM646.6,164.3h2.7v3.4h-2.7zM612.2,167.5h2.7v3.4h-2.7zM639.2,167.5h2.7v3.4h-2.7zM570.4,170.7h2.7v3.4h-2.7zM585.1,170.7h7.6v3.4h-7.6zM612.2,170.7h2.7v3.4h-2.7zM617.1,170.7h2.7v3.4h-2.7zM567.9,173.9h2.7v3.4h-2.7zM577.8,173.9h2.7v3.4h-2.7zM622.0,173.9h10.1v3.4h-10.1zM641.7,173.9h10.1v3.4h-10.1zM577.8,177.0h2.7v3.4h-2.7zM614.6,177.0h5.2v3.4h-5.2zM631.8,177.0h2.7v3.4h-2.7zM636.8,177.0h2.7v3.4h-2.7zM590.0,180.2h2.7v3.4h-2.7zM617.1,180.2h2.7v3.4h-2.7zM622.0,180.2h2.7v3.4h-2.7zM644.1,180.2h5.2v3.4h-5.2zM575.3,183.4h5.2v3.4h-5.2zM587.6,183.4h2.7v3.4h-2.7z" fill="#95170c"/>
<path d="M587.6,151.7h2.7v3.4h-2.7zM629.4,151.7h2.7v3.4h-2.7zM619.5,154.8h2.7v3.4h-2.7zM641.7,158.0h5.2v3.4h-5.2zM644.1,161.2h7.6v3.4h-7.6zM626.9,170.7h2.7v3.4h-2.7zM575.3,173.9h2.7v3.4h-2.7zM636.8,173.9h2.7v3.4h-2.7zM565.5,177.0h2.7v3.4h-2.7zM570.4,177.0h7.6v3.4h-7.6zM634.3,177.0h2.7v3.4h-2.7zM587.6,180.2h2.7v3.4h-2.7zM649.0,180.2h2.7v3.4h-2.7zM582.7,183.4h5.2v3.4h-5.2zM597.4,183.4h2.7v3.4h-2.7z" fill="#c31e11"/>
<path d="M595.0,148.5h2.7v3.4h-2.7zM595.0,154.8h2.7v3.4h-2.7zM617.1,154.8h2.7v3.4h-2.7zM612.2,158.0h2.7v3.4h-2.7zM636.8,158.0h5.2v3.4h-5.2zM609.7,167.5h2.7v3.4h-2.7zM624.5,170.7h2.7v3.4h-2.7zM563.0,177.0h2.7v3.4h-2.7zM563.0,186.5h10.1v3.4h-10.1zM575.3,186.5h12.5v3.4h-12.5zM609.7,186.5h10.1v3.4h-10.1zM622.0,186.5h5.2v3.4h-5.2zM636.8,186.5h2.7v3.4h-2.7zM644.1,186.5h7.6v3.4h-7.6z" fill="#f02615"/>
<path d="M597.4,151.7h2.7v3.4h-2.7zM617.1,151.7h2.7v3.4h-2.7zM626.9,151.7h2.7v3.4h-2.7zM624.5,154.8h5.2v3.4h-5.2zM592.5,164.3h2.7v3.4h-2.7zM607.2,167.5h2.7v3.4h-2.7zM567.9,170.7h2.7v3.4h-2.7zM595.0,170.7h2.7v3.4h-2.7zM609.7,170.7h2.7v3.4h-2.7zM622.0,170.7h2.7v3.4h-2.7zM582.7,173.9h2.7v3.4h-2.7zM649.0,177.0h2.7v3.4h-2.7zM585.1,180.2h2.7v3.4h-2.7zM572.8,186.5h2.7v3.4h-2.7zM619.5,186.5h2.7v3.4h-2.7zM634.3,186.5h2.7v3.4h-2.7zM639.2,186.5h5.2v3.4h-5.2z" fill="#ff2316"/>
<path d="M629.4,154.8h2.7v3.4h-2.7zM597.4,158.0h2.7v3.4h-2.7zM595.0,161.2h2.7v3.4h-2.7zM609.7,161.2h2.7v3.4h-2.7zM609.7,164.3h2.7v3.4h-2.7zM595.0,167.5h2.7v3.4h-2.7zM572.8,173.9h2.7v3.4h-2.7zM585.1,173.9h7.6v3.4h-7.6zM634.3,173.9h2.7v3.4h-2.7zM607.2,177.0h2.7v3.4h-2.7zM641.7,177.0h2.7v3.4h-2.7zM582.7,180.2h2.7v3.4h-2.7zM595.0,180.2h2.7v3.4h-2.7zM609.7,180.2h2.7v3.4h-2.7zM609.7,183.4h2.7v3.4h-2.7zM590.0,186.5h10.1v3.4h-10.1zM631.8,186.5h2.7v3.4h-2.7z" fill="#ff5216"/>
<path d="M595.0,183.4h2.7v3.4h-2.7zM629.4,186.5h2.7v3.4h-2.7z" fill="#ff8316"/>
<path d="M612.2,151.7h5.2v3.4h-5.2zM565.5,170.7h2.7v3.4h-2.7zM570.4,173.9h2.7v3.4h-2.7zM631.8,173.9h2.7v3.4h-2.7zM646.6,177.0h2.7v3.4h-2.7zM587.6,186.5h2.7v3.4h-2.7zM626.9,186.5h2.7v3.4h-2.7z" fill="#ffb516"/>
<path d="M609.7,148.5h7.6v3.4h-7.6zM592.5,183.4h2.7v3.4h-2.7z" fill="#ffe616"/>
<path d="M644.1,177.0h2.7v3.4h-2.7z" fill="#ffff24"/>
<path d="M597.4,148.5h12.5v3.4h-12.5zM599.9,151.7h12.5v3.4h-12.5zM597.4,154.8h12.5v3.4h-12.5zM599.9,158.0h12.5v3.4h-12.5zM597.4,161.2h12.5v3.4h-12.5zM595.0,164.3h15.0v3.4h-15.0zM597.4,167.5h10.1v3.4h-10.1zM597.4,170.7h12.5v3.4h-12.5zM599.9,173.9h10.1v3.4h-10.1zM597.4,177.0h10.1v3.4h-10.1zM597.4,180.2h12.5v3.4h-12.5zM599.9,183.4h10.1v3.4h-10.1zM599.9,186.5h10.1v3.4h-10.1z" fill="#ffffff"/>
<text x="563.0" y="153.9" font-size="6.0" font-weight="normal" text-anchor="start" fill="#efefef" >ogram Z-Score</text>
<defs><linearGradient id="hotg" x1="0" y1="1" x2="0" y2="0"><stop offset="0" stop-color="#0a0000"/><stop offset="0.38" stop-color="#ff0000"/><stop offset="0.75" stop-color="#ffff00"/><stop offset="1" stop-color="#ffffff"/></linearGradient></defs>
<rect x="391.5" y="147.0" width="1.5" height="45.7" fill="url(#hotg)" stroke="none" stroke-width="0" />
<rect x="651.5" y="148.5" width="1.5" height="41.2" fill="url(#hotg)" stroke="none" stroke-width="0" />
<text x="393.6" y="154.5" font-size="7.8" font-weight="bold" text-anchor="start" fill="#111" >10</text>
<text x="393.6" y="174.3" font-size="7.8" font-weight="bold" text-anchor="start" fill="#111" >5</text>
<text x="393.6" y="193.3" font-size="7.8" font-weight="bold" text-anchor="start" fill="#111" >0</text>
<text x="653.3" y="151.5" font-size="7.8" font-weight="bold" text-anchor="start" fill="#111" >10</text>
<text x="653.3" y="171.5" font-size="7.8" font-weight="bold" text-anchor="start" fill="#111" >5</text>
<text x="653.3" y="192.7" font-size="7.8" font-weight="bold" text-anchor="start" fill="#111" >0</text>
<text x="401.5" y="170.0" font-size="8.2" font-weight="bold" text-anchor="middle" fill="#111" transform="rotate(90 401.5 170.0)" >Z-Score</text>
<text x="664.5" y="168.0" font-size="8.2" font-weight="bold" text-anchor="middle" fill="#111" transform="rotate(90 664.5 168.0)" >Z-Score</text>
<text x="197.0" y="152.7" font-size="7.3" font-weight="bold" text-anchor="end" fill="#111" >250</text>
<text x="197.0" y="162.2" font-size="7.3" font-weight="bold" text-anchor="end" fill="#111" >200</text>
<text x="197.0" y="171.3" font-size="7.3" font-weight="bold" text-anchor="end" fill="#111" >150</text>
<text x="197.0" y="180.4" font-size="7.3" font-weight="bold" text-anchor="end" fill="#111" >100</text>
<text x="197.0" y="189.5" font-size="7.3" font-weight="bold" text-anchor="end" fill="#111" >50</text>
<text x="460.3" y="153.0" font-size="7.3" font-weight="bold" text-anchor="end" fill="#111" >250</text>
<text x="460.3" y="161.4" font-size="7.3" font-weight="bold" text-anchor="end" fill="#111" >200</text>
<text x="460.3" y="169.6" font-size="7.3" font-weight="bold" text-anchor="end" fill="#111" >150</text>
<text x="460.3" y="177.8" font-size="7.3" font-weight="bold" text-anchor="end" fill="#111" >100</text>
<text x="460.3" y="186.1" font-size="7.3" font-weight="bold" text-anchor="end" fill="#111" >50</text>
<text x="182.4" y="170.0" font-size="8.2" font-weight="bold" text-anchor="middle" fill="#111" transform="rotate(-90 182.4 170.0)" >Frequency</text>
<text x="444.6" y="167.0" font-size="8.2" font-weight="bold" text-anchor="middle" fill="#111" transform="rotate(-90 444.6 167.0)" >Frequency</text>
</g>
<g id="scatter">
<line x1="35.0" y1="241.0" x2="35.0" y2="331.0" stroke="#000" stroke-width="1.15" />
<line x1="30.7" y1="241.8" x2="35.0" y2="241.8" stroke="#000" stroke-width="1.1" />
<text x="29.5" y="244.3" font-size="7" font-weight="bold" text-anchor="end" fill="#111" >50</text>
<line x1="30.7" y1="259.4" x2="35.0" y2="259.4" stroke="#000" stroke-width="1.1" />
<text x="29.5" y="261.9" font-size="7" font-weight="bold" text-anchor="end" fill="#111" >40</text>
<line x1="30.7" y1="277.2" x2="35.0" y2="277.2" stroke="#000" stroke-width="1.1" />
<text x="29.5" y="279.7" font-size="7" font-weight="bold" text-anchor="end" fill="#111" >30</text>
<line x1="30.7" y1="294.9" x2="35.0" y2="294.9" stroke="#000" stroke-width="1.1" />
<text x="29.5" y="297.4" font-size="7" font-weight="bold" text-anchor="end" fill="#111" >20</text>
<line x1="30.7" y1="312.6" x2="35.0" y2="312.6" stroke="#000" stroke-width="1.1" />
<text x="29.5" y="315.1" font-size="7" font-weight="bold" text-anchor="end" fill="#111" >10</text>
<line x1="30.7" y1="330.4" x2="35.0" y2="330.4" stroke="#000" stroke-width="1.1" />
<text x="29.5" y="332.9" font-size="7" font-weight="bold" text-anchor="end" fill="#111" >0</text>
<text x="16.6" y="286.0" font-size="7.6" font-weight="bold" text-anchor="middle" fill="#111" transform="rotate(-90 16.6 286.0)" textLength="83" lengthAdjust="spacingAndGlyphs" >SW abundance (/min)</text>
<circle cx="54.7" cy="260.7" r="2.1" fill="#7aa6e0" stroke="#0b1838" stroke-width="0.95"/>
<circle cx="50.8" cy="267.2" r="2.1" fill="#7aa6e0" stroke="#0b1838" stroke-width="0.95"/>
<circle cx="54.7" cy="266.3" r="2.1" fill="#7aa6e0" stroke="#0b1838" stroke-width="0.95"/>
<circle cx="58.3" cy="267.2" r="2.1" fill="#7aa6e0" stroke="#0b1838" stroke-width="0.95"/>
<circle cx="52.6" cy="271.2" r="2.1" fill="#7aa6e0" stroke="#0b1838" stroke-width="0.95"/>
<circle cx="56.4" cy="271.2" r="2.1" fill="#7aa6e0" stroke="#0b1838" stroke-width="0.95"/>
<circle cx="54.7" cy="280.0" r="2.1" fill="#7aa6e0" stroke="#0b1838" stroke-width="0.95"/>
<circle cx="50.8" cy="283.0" r="2.1" fill="#7aa6e0" stroke="#0b1838" stroke-width="0.95"/>
<circle cx="56.4" cy="285.6" r="2.1" fill="#7aa6e0" stroke="#0b1838" stroke-width="0.95"/>
<circle cx="58.7" cy="285.6" r="2.1" fill="#7aa6e0" stroke="#0b1838" stroke-width="0.95"/>
<circle cx="50.8" cy="287.3" r="2.1" fill="#7aa6e0" stroke="#0b1838" stroke-width="0.95"/>
<circle cx="53.1" cy="288.4" r="2.1" fill="#7aa6e0" stroke="#0b1838" stroke-width="0.95"/>
<circle cx="54.7" cy="291.2" r="2.1" fill="#7aa6e0" stroke="#0b1838" stroke-width="0.95"/>
<circle cx="58.0" cy="291.2" r="2.1" fill="#7aa6e0" stroke="#0b1838" stroke-width="0.95"/>
<circle cx="51.7" cy="293.1" r="2.1" fill="#7aa6e0" stroke="#0b1838" stroke-width="0.95"/>
<circle cx="49.9" cy="295.6" r="2.1" fill="#7aa6e0" stroke="#0b1838" stroke-width="0.95"/>
<circle cx="56.4" cy="295.2" r="2.1" fill="#7aa6e0" stroke="#0b1838" stroke-width="0.95"/>
<circle cx="53.4" cy="297.9" r="2.1" fill="#7aa6e0" stroke="#0b1838" stroke-width="0.95"/>
<circle cx="52.2" cy="300.5" r="2.1" fill="#7aa6e0" stroke="#0b1838" stroke-width="0.95"/>
<circle cx="54.7" cy="305.2" r="2.1" fill="#7aa6e0" stroke="#0b1838" stroke-width="0.95"/>
<circle cx="50.8" cy="309.6" r="2.1" fill="#7aa6e0" stroke="#0b1838" stroke-width="0.95"/>
<circle cx="54.7" cy="309.6" r="2.1" fill="#7aa6e0" stroke="#0b1838" stroke-width="0.95"/>
<circle cx="58.7" cy="309.6" r="2.1" fill="#7aa6e0" stroke="#0b1838" stroke-width="0.95"/>
<circle cx="48.7" cy="312.4" r="2.1" fill="#7aa6e0" stroke="#0b1838" stroke-width="0.95"/>
<circle cx="52.6" cy="312.4" r="2.1" fill="#7aa6e0" stroke="#0b1838" stroke-width="0.95"/>
<circle cx="56.4" cy="312.4" r="2.1" fill="#7aa6e0" stroke="#0b1838" stroke-width="0.95"/>
<circle cx="60.1" cy="312.4" r="2.1" fill="#7aa6e0" stroke="#0b1838" stroke-width="0.95"/>
<line x1="41.2" y1="286.8" x2="41.2" y2="292.0" stroke="#86b4f2" stroke-width="1.15" />
<line x1="38.2" y1="289.4" x2="44.2" y2="289.4" stroke="#86b4f2" stroke-width="1.15" />
<line x1="39.4" y1="286.8" x2="43.0" y2="286.8" stroke="#86b4f2" stroke-width="1.15" />
<line x1="39.4" y1="292.0" x2="43.0" y2="292.0" stroke="#86b4f2" stroke-width="1.15" />
<rect x="82.9" y="286.2" width="4.1" height="4.1" fill="#3c8529" stroke="#0a2206" stroke-width="0.95" />
<rect x="82.9" y="289.7" width="4.1" height="4.1" fill="#3c8529" stroke="#0a2206" stroke-width="0.95" />
<rect x="79.4" y="297.6" width="4.1" height="4.1" fill="#3c8529" stroke="#0a2206" stroke-width="0.95" />
<rect x="83.8" y="297.6" width="4.1" height="4.1" fill="#3c8529" stroke="#0a2206" stroke-width="0.95" />
<rect x="81.2" y="300.4" width="4.1" height="4.1" fill="#3c8529" stroke="#0a2206" stroke-width="0.95" />
<rect x="85.5" y="300.4" width="4.1" height="4.1" fill="#3c8529" stroke="#0a2206" stroke-width="0.95" />
<rect x="79.4" y="303.7" width="4.1" height="4.1" fill="#3c8529" stroke="#0a2206" stroke-width="0.95" />
<rect x="82.9" y="303.7" width="4.1" height="4.1" fill="#3c8529" stroke="#0a2206" stroke-width="0.95" />
<rect x="86.8" y="303.7" width="4.1" height="4.1" fill="#3c8529" stroke="#0a2206" stroke-width="0.95" />
<rect x="81.2" y="306.5" width="4.1" height="4.1" fill="#3c8529" stroke="#0a2206" stroke-width="0.95" />
<rect x="85.0" y="306.5" width="4.1" height="4.1" fill="#3c8529" stroke="#0a2206" stroke-width="0.95" />
<rect x="78.5" y="309.5" width="4.1" height="4.1" fill="#3c8529" stroke="#0a2206" stroke-width="0.95" />
<rect x="82.4" y="309.5" width="4.1" height="4.1" fill="#3c8529" stroke="#0a2206" stroke-width="0.95" />
<rect x="87.3" y="309.5" width="4.1" height="4.1" fill="#3c8529" stroke="#0a2206" stroke-width="0.95" />
<rect x="77.1" y="313.0" width="4.1" height="4.1" fill="#3c8529" stroke="#0a2206" stroke-width="0.95" />
<rect x="80.6" y="313.0" width="4.1" height="4.1" fill="#3c8529" stroke="#0a2206" stroke-width="0.95" />
<rect x="84.7" y="313.0" width="4.1" height="4.1" fill="#3c8529" stroke="#0a2206" stroke-width="0.95" />
<rect x="88.2" y="313.0" width="4.1" height="4.1" fill="#3c8529" stroke="#0a2206" stroke-width="0.95" />
<line x1="72.7" y1="304.0" x2="72.7" y2="305.0" stroke="#409a2c" stroke-width="1.15" />
<line x1="69.7" y1="304.5" x2="75.7" y2="304.5" stroke="#409a2c" stroke-width="1.15" />
<line x1="71.2" y1="304.0" x2="74.2" y2="304.0" stroke="#409a2c" stroke-width="1.15" />
<line x1="71.2" y1="305.0" x2="74.2" y2="305.0" stroke="#409a2c" stroke-width="1.15" />
<path d="M54.3,254.4 L54.3,248.3 L85.0,248.3 L85.0,282.0" stroke="#000" stroke-width="1.05" fill="none" />
<text x="70.0" y="247.3" font-size="10.5" font-weight="bold" text-anchor="middle" fill="#111" textLength="21.5" lengthAdjust="spacingAndGlyphs" >****</text>
<line x1="138.8" y1="239.5" x2="138.8" y2="331.0" stroke="#000" stroke-width="1.15" />
<line x1="134.5" y1="240.4" x2="138.8" y2="240.4" stroke="#000" stroke-width="1.1" />
<text x="133.3" y="242.9" font-size="7" font-weight="bold" text-anchor="end" fill="#111" >15</text>
<line x1="134.5" y1="270.3" x2="138.8" y2="270.3" stroke="#000" stroke-width="1.1" />
<text x="133.3" y="272.8" font-size="7" font-weight="bold" text-anchor="end" fill="#111" >10</text>
<line x1="134.5" y1="300.4" x2="138.8" y2="300.4" stroke="#000" stroke-width="1.1" />
<text x="133.3" y="302.9" font-size="7" font-weight="bold" text-anchor="end" fill="#111" >5</text>
<line x1="134.5" y1="330.4" x2="138.8" y2="330.4" stroke="#000" stroke-width="1.1" />
<text x="133.3" y="332.9" font-size="7" font-weight="bold" text-anchor="end" fill="#111" >0</text>
<text x="121.0" y="284.6" font-size="8.2" font-weight="bold" text-anchor="middle" fill="#111" transform="rotate(-90 121.0 284.6)" textLength="79" lengthAdjust="spacingAndGlyphs" >SW Amplitude (µV)</text>
<circle cx="159.0" cy="252.3" r="2.1" fill="#7aa6e0" stroke="#0b1838" stroke-width="0.95"/>
<circle cx="159.0" cy="255.5" r="2.1" fill="#7aa6e0" stroke="#0b1838" stroke-width="0.95"/>
<circle cx="158.1" cy="282.6" r="2.1" fill="#7aa6e0" stroke="#0b1838" stroke-width="0.95"/>
<circle cx="160.4" cy="282.6" r="2.1" fill="#7aa6e0" stroke="#0b1838" stroke-width="0.95"/>
<circle cx="159.0" cy="295.2" r="2.1" fill="#7aa6e0" stroke="#0b1838" stroke-width="0.95"/>
<circle cx="157.2" cy="297.9" r="2.1" fill="#7aa6e0" stroke="#0b1838" stroke-width="0.95"/>
<circle cx="160.7" cy="297.9" r="2.1" fill="#7aa6e0" stroke="#0b1838" stroke-width="0.95"/>
<circle cx="153.2" cy="301.0" r="2.1" fill="#7aa6e0" stroke="#0b1838" stroke-width="0.95"/>
<circle cx="156.0" cy="301.0" r="2.1" fill="#7aa6e0" stroke="#0b1838" stroke-width="0.95"/>
<circle cx="159.0" cy="301.0" r="2.1" fill="#7aa6e0" stroke="#0b1838" stroke-width="0.95"/>
<circle cx="161.9" cy="301.0" r="2.1" fill="#7aa6e0" stroke="#0b1838" stroke-width="0.95"/>
<circle cx="164.7" cy="301.0" r="2.1" fill="#7aa6e0" stroke="#0b1838" stroke-width="0.95"/>
<circle cx="157.2" cy="303.5" r="2.1" fill="#7aa6e0" stroke="#0b1838" stroke-width="0.95"/>
<circle cx="159.0" cy="311.0" r="2.1" fill="#7aa6e0" stroke="#0b1838" stroke-width="0.95"/>
<circle cx="156.7" cy="313.6" r="2.1" fill="#7aa6e0" stroke="#0b1838" stroke-width="0.95"/>
<circle cx="161.4" cy="313.6" r="2.1" fill="#7aa6e0" stroke="#0b1838" stroke-width="0.95"/>
<circle cx="159.0" cy="317.1" r="2.1" fill="#7aa6e0" stroke="#0b1838" stroke-width="0.95"/>
<circle cx="157.2" cy="319.2" r="2.1" fill="#7aa6e0" stroke="#0b1838" stroke-width="0.95"/>
<circle cx="161.9" cy="318.9" r="2.1" fill="#7aa6e0" stroke="#0b1838" stroke-width="0.95"/>
<circle cx="154.9" cy="321.5" r="2.1" fill="#7aa6e0" stroke="#0b1838" stroke-width="0.95"/>
<circle cx="159.7" cy="321.5" r="2.1" fill="#7aa6e0" stroke="#0b1838" stroke-width="0.95"/>
<line x1="145.3" y1="297.2" x2="145.3" y2="303.8" stroke="#86b4f2" stroke-width="1.15" />
<line x1="142.3" y1="300.5" x2="148.3" y2="300.5" stroke="#86b4f2" stroke-width="1.15" />
<line x1="143.5" y1="297.2" x2="147.1" y2="297.2" stroke="#86b4f2" stroke-width="1.15" />
<line x1="143.5" y1="303.8" x2="147.1" y2="303.8" stroke="#86b4f2" stroke-width="1.15" />
<rect x="185.8" y="276.5" width="4.1" height="4.1" fill="#3c8529" stroke="#0a2206" stroke-width="0.95" />
<rect x="187.7" y="276.5" width="4.1" height="4.1" fill="#3c8529" stroke="#0a2206" stroke-width="0.95" />
<rect x="184.4" y="288.8" width="4.1" height="4.1" fill="#3c8529" stroke="#0a2206" stroke-width="0.95" />
<rect x="188.8" y="288.8" width="4.1" height="4.1" fill="#3c8529" stroke="#0a2206" stroke-width="0.95" />
<rect x="185.3" y="298.4" width="4.1" height="4.1" fill="#3c8529" stroke="#0a2206" stroke-width="0.95" />
<rect x="188.4" y="298.4" width="4.1" height="4.1" fill="#3c8529" stroke="#0a2206" stroke-width="0.95" />
<rect x="186.7" y="303.7" width="4.1" height="4.1" fill="#3c8529" stroke="#0a2206" stroke-width="0.95" />
<rect x="181.8" y="308.9" width="4.1" height="4.1" fill="#3c8529" stroke="#0a2206" stroke-width="0.95" />
<rect x="185.3" y="308.9" width="4.1" height="4.1" fill="#3c8529" stroke="#0a2206" stroke-width="0.95" />
<rect x="188.8" y="308.9" width="4.1" height="4.1" fill="#3c8529" stroke="#0a2206" stroke-width="0.95" />
<rect x="192.5" y="308.9" width="4.1" height="4.1" fill="#3c8529" stroke="#0a2206" stroke-width="0.95" />
<rect x="183.5" y="313.0" width="4.1" height="4.1" fill="#3c8529" stroke="#0a2206" stroke-width="0.95" />
<rect x="187.9" y="313.0" width="4.1" height="4.1" fill="#3c8529" stroke="#0a2206" stroke-width="0.95" />
<rect x="191.6" y="313.0" width="4.1" height="4.1" fill="#3c8529" stroke="#0a2206" stroke-width="0.95" />
<rect x="181.8" y="316.8" width="4.1" height="4.1" fill="#3c8529" stroke="#0a2206" stroke-width="0.95" />
<rect x="185.6" y="316.8" width="4.1" height="4.1" fill="#3c8529" stroke="#0a2206" stroke-width="0.95" />
<rect x="189.7" y="316.8" width="4.1" height="4.1" fill="#3c8529" stroke="#0a2206" stroke-width="0.95" />
<rect x="183.9" y="320.0" width="4.1" height="4.1" fill="#3c8529" stroke="#0a2206" stroke-width="0.95" />
<rect x="187.9" y="320.0" width="4.1" height="4.1" fill="#3c8529" stroke="#0a2206" stroke-width="0.95" />
<rect x="192.3" y="320.0" width="4.1" height="4.1" fill="#3c8529" stroke="#0a2206" stroke-width="0.95" />
<rect x="189.7" y="323.1" width="4.1" height="4.1" fill="#3c8529" stroke="#0a2206" stroke-width="0.95" />
<line x1="176.0" y1="305.4" x2="176.0" y2="310.6" stroke="#409a2c" stroke-width="1.15" />
<line x1="173.0" y1="308.0" x2="179.0" y2="308.0" stroke="#409a2c" stroke-width="1.15" />
<line x1="174.2" y1="305.4" x2="177.8" y2="305.4" stroke="#409a2c" stroke-width="1.15" />
<line x1="174.2" y1="310.6" x2="177.8" y2="310.6" stroke="#409a2c" stroke-width="1.15" />
<path d="M158.4,246.2 L158.4,240.6 L188.7,240.6 L188.7,272.5" stroke="#000" stroke-width="1.05" fill="none" />
<text x="174.6" y="239.3" font-size="10.5" font-weight="bold" text-anchor="middle" fill="#111" >*</text>
<line x1="248.0" y1="240.8" x2="248.0" y2="331.0" stroke="#000" stroke-width="1.15" />
<line x1="243.7" y1="241.8" x2="248.0" y2="241.8" stroke="#000" stroke-width="1.1" />
<text x="242.5" y="244.3" font-size="7" font-weight="bold" text-anchor="end" fill="#111" >800</text>
<line x1="243.7" y1="263.8" x2="248.0" y2="263.8" stroke="#000" stroke-width="1.1" />
<text x="242.5" y="266.3" font-size="7" font-weight="bold" text-anchor="end" fill="#111" >600</text>
<line x1="243.7" y1="286.0" x2="248.0" y2="286.0" stroke="#000" stroke-width="1.1" />
<text x="242.5" y="288.5" font-size="7" font-weight="bold" text-anchor="end" fill="#111" >400</text>
<line x1="243.7" y1="308.1" x2="248.0" y2="308.1" stroke="#000" stroke-width="1.1" />
<text x="242.5" y="310.6" font-size="7" font-weight="bold" text-anchor="end" fill="#111" >200</text>
<line x1="243.7" y1="330.3" x2="248.0" y2="330.3" stroke="#000" stroke-width="1.1" />
<text x="242.5" y="332.8" font-size="7" font-weight="bold" text-anchor="end" fill="#111" >0</text>
<text x="226.5" y="286.0" font-size="9" font-weight="bold" text-anchor="middle" fill="#111" transform="rotate(-90 226.5 286.0)" textLength="78" lengthAdjust="spacingAndGlyphs" >SW duration (ms)</text>
<circle cx="264.6" cy="281.6" r="2.1" fill="#7aa6e0" stroke="#0b1838" stroke-width="0.95"/>
<circle cx="270.7" cy="281.0" r="2.1" fill="#7aa6e0" stroke="#0b1838" stroke-width="0.95"/>
<circle cx="267.5" cy="283.3" r="2.1" fill="#7aa6e0" stroke="#0b1838" stroke-width="0.95"/>
<circle cx="272.6" cy="283.5" r="2.1" fill="#7aa6e0" stroke="#0b1838" stroke-width="0.95"/>
<circle cx="263.7" cy="285.6" r="2.1" fill="#7aa6e0" stroke="#0b1838" stroke-width="0.95"/>
<circle cx="268.9" cy="285.6" r="2.1" fill="#7aa6e0" stroke="#0b1838" stroke-width="0.95"/>
<circle cx="273.3" cy="285.9" r="2.1" fill="#7aa6e0" stroke="#0b1838" stroke-width="0.95"/>
<circle cx="265.8" cy="287.7" r="2.1" fill="#7aa6e0" stroke="#0b1838" stroke-width="0.95"/>
<circle cx="271.2" cy="287.7" r="2.1" fill="#7aa6e0" stroke="#0b1838" stroke-width="0.95"/>
<circle cx="263.7" cy="290.1" r="2.1" fill="#7aa6e0" stroke="#0b1838" stroke-width="0.95"/>
<circle cx="268.1" cy="290.1" r="2.1" fill="#7aa6e0" stroke="#0b1838" stroke-width="0.95"/>
<circle cx="273.0" cy="290.1" r="2.1" fill="#7aa6e0" stroke="#0b1838" stroke-width="0.95"/>
<circle cx="268.4" cy="296.1" r="2.1" fill="#7aa6e0" stroke="#0b1838" stroke-width="0.95"/>
<circle cx="265.4" cy="299.6" r="2.1" fill="#7aa6e0" stroke="#0b1838" stroke-width="0.95"/>
<circle cx="271.6" cy="299.6" r="2.1" fill="#7aa6e0" stroke="#0b1838" stroke-width="0.95"/>
<circle cx="262.8" cy="302.4" r="2.1" fill="#7aa6e0" stroke="#0b1838" stroke-width="0.95"/>
<circle cx="268.4" cy="302.4" r="2.1" fill="#7aa6e0" stroke="#0b1838" stroke-width="0.95"/>
<circle cx="274.4" cy="302.4" r="2.1" fill="#7aa6e0" stroke="#0b1838" stroke-width="0.95"/>
<circle cx="266.0" cy="305.2" r="2.1" fill="#7aa6e0" stroke="#0b1838" stroke-width="0.95"/>
<circle cx="270.7" cy="305.2" r="2.1" fill="#7aa6e0" stroke="#0b1838" stroke-width="0.95"/>
<circle cx="268.4" cy="308.4" r="2.1" fill="#7aa6e0" stroke="#0b1838" stroke-width="0.95"/>
<circle cx="268.4" cy="311.2" r="2.1" fill="#7aa6e0" stroke="#0b1838" stroke-width="0.95"/>
<circle cx="267.2" cy="313.8" r="2.1" fill="#7aa6e0" stroke="#0b1838" stroke-width="0.95"/>
<circle cx="271.7" cy="313.8" r="2.1" fill="#7aa6e0" stroke="#0b1838" stroke-width="0.95"/>
<circle cx="264.9" cy="315.9" r="2.1" fill="#7aa6e0" stroke="#0b1838" stroke-width="0.95"/>
<line x1="254.0" y1="297.6" x2="254.0" y2="300.4" stroke="#86b4f2" stroke-width="1.15" />
<line x1="251.0" y1="299.0" x2="257.0" y2="299.0" stroke="#86b4f2" stroke-width="1.15" />
<line x1="252.3" y1="297.6" x2="255.7" y2="297.6" stroke="#86b4f2" stroke-width="1.15" />
<line x1="252.3" y1="300.4" x2="255.7" y2="300.4" stroke="#86b4f2" stroke-width="1.15" />
<rect x="296.7" y="256.9" width="4.1" height="4.1" fill="#3c8529" stroke="#0a2206" stroke-width="0.95" />
<rect x="296.7" y="260.1" width="4.1" height="4.1" fill="#3c8529" stroke="#0a2206" stroke-width="0.95" />
<rect x="295.8" y="269.2" width="4.1" height="4.1" fill="#3c8529" stroke="#0a2206" stroke-width="0.95" />
<rect x="298.6" y="269.5" width="4.1" height="4.1" fill="#3c8529" stroke="#0a2206" stroke-width="0.95" />
<rect x="297.2" y="272.3" width="4.1" height="4.1" fill="#3c8529" stroke="#0a2206" stroke-width="0.95" />
<rect x="294.9" y="275.0" width="4.1" height="4.1" fill="#3c8529" stroke="#0a2206" stroke-width="0.95" />
<rect x="297.6" y="277.6" width="4.1" height="4.1" fill="#3c8529" stroke="#0a2206" stroke-width="0.95" />
<rect x="291.4" y="280.2" width="4.1" height="4.1" fill="#3c8529" stroke="#0a2206" stroke-width="0.95" />
<rect x="295.1" y="280.2" width="4.1" height="4.1" fill="#3c8529" stroke="#0a2206" stroke-width="0.95" />
<rect x="299.0" y="280.2" width="4.1" height="4.1" fill="#3c8529" stroke="#0a2206" stroke-width="0.95" />
<rect x="297.0" y="282.3" width="4.1" height="4.1" fill="#3c8529" stroke="#0a2206" stroke-width="0.95" />
<rect x="302.6" y="282.1" width="4.1" height="4.1" fill="#3c8529" stroke="#0a2206" stroke-width="0.95" />
<rect x="292.6" y="284.6" width="4.1" height="4.1" fill="#3c8529" stroke="#0a2206" stroke-width="0.95" />
<rect x="296.7" y="284.6" width="4.1" height="4.1" fill="#3c8529" stroke="#0a2206" stroke-width="0.95" />
<rect x="295.8" y="289.0" width="4.1" height="4.1" fill="#3c8529" stroke="#0a2206" stroke-width="0.95" />
<rect x="298.4" y="291.6" width="4.1" height="4.1" fill="#3c8529" stroke="#0a2206" stroke-width="0.95" />
<rect x="297.6" y="295.1" width="4.1" height="4.1" fill="#3c8529" stroke="#0a2206" stroke-width="0.95" />
<rect x="296.7" y="299.5" width="4.1" height="4.1" fill="#3c8529" stroke="#0a2206" stroke-width="0.95" />
<rect x="296.7" y="303.9" width="4.1" height="4.1" fill="#3c8529" stroke="#0a2206" stroke-width="0.95" />
<rect x="296.7" y="311.7" width="4.1" height="4.1" fill="#3c8529" stroke="#0a2206" stroke-width="0.95" />
<line x1="286.0" y1="284.4" x2="286.0" y2="288.6" stroke="#409a2c" stroke-width="1.15" />
<line x1="283.0" y1="286.5" x2="289.0" y2="286.5" stroke="#409a2c" stroke-width="1.15" />
<line x1="284.2" y1="284.4" x2="287.8" y2="284.4" stroke="#409a2c" stroke-width="1.15" />
<line x1="284.2" y1="288.6" x2="287.8" y2="288.6" stroke="#409a2c" stroke-width="1.15" />
<path d="M268.0,275.0 L268.0,247.0 L298.7,247.0 L298.7,252.7" stroke="#000" stroke-width="1.05" fill="none" />
<text x="283.8" y="245.6" font-size="10.5" font-weight="bold" text-anchor="middle" fill="#111" textLength="16.5" lengthAdjust="spacingAndGlyphs" >***</text>
<line x1="387.3" y1="240.8" x2="387.3" y2="334.5" stroke="#000" stroke-width="1.15" />
<line x1="383.0" y1="241.8" x2="387.3" y2="241.8" stroke="#000" stroke-width="1.1" />
<text x="381.8" y="244.3" font-size="7" font-weight="bold" text-anchor="end" fill="#111" >50</text>
<line x1="383.0" y1="260.4" x2="387.3" y2="260.4" stroke="#000" stroke-width="1.1" />
<text x="381.8" y="262.9" font-size="7" font-weight="bold" text-anchor="end" fill="#111" >40</text>
<line x1="383.0" y1="278.7" x2="387.3" y2="278.7" stroke="#000" stroke-width="1.1" />
<text x="381.8" y="281.2" font-size="7" font-weight="bold" text-anchor="end" fill="#111" >30</text>
<line x1="383.0" y1="297.0" x2="387.3" y2="297.0" stroke="#000" stroke-width="1.1" />
<text x="381.8" y="299.5" font-size="7" font-weight="bold" text-anchor="end" fill="#111" >20</text>
<line x1="383.0" y1="315.4" x2="387.3" y2="315.4" stroke="#000" stroke-width="1.1" />
<text x="381.8" y="317.9" font-size="7" font-weight="bold" text-anchor="end" fill="#111" >10</text>
<line x1="383.0" y1="333.8" x2="387.3" y2="333.8" stroke="#000" stroke-width="1.1" />
<text x="381.8" y="336.3" font-size="7" font-weight="bold" text-anchor="end" fill="#111" >0</text>
<text x="368.0" y="288.0" font-size="7.9" font-weight="bold" text-anchor="middle" fill="#111" transform="rotate(-90 368.0 288.0)" textLength="86" lengthAdjust="spacingAndGlyphs" >SW abundance (/min)</text>
<circle cx="402.7" cy="261.1" r="2.1" fill="#eec088" stroke="#1e1408" stroke-width="0.95"/>
<circle cx="414.8" cy="259.0" r="2.1" fill="#eec088" stroke="#1e1408" stroke-width="0.95"/>
<circle cx="408.7" cy="268.4" r="2.1" fill="#eec088" stroke="#1e1408" stroke-width="0.95"/>
<circle cx="402.7" cy="273.3" r="2.1" fill="#eec088" stroke="#1e1408" stroke-width="0.95"/>
<circle cx="414.8" cy="272.4" r="2.1" fill="#eec088" stroke="#1e1408" stroke-width="0.95"/>
<circle cx="408.7" cy="296.1" r="2.1" fill="#eec088" stroke="#1e1408" stroke-width="0.95"/>
<circle cx="402.7" cy="301.0" r="2.1" fill="#eec088" stroke="#1e1408" stroke-width="0.95"/>
<circle cx="414.8" cy="304.0" r="2.1" fill="#eec088" stroke="#1e1408" stroke-width="0.95"/>
<circle cx="402.7" cy="307.1" r="2.1" fill="#eec088" stroke="#1e1408" stroke-width="0.95"/>
<circle cx="402.7" cy="315.0" r="2.1" fill="#eec088" stroke="#1e1408" stroke-width="0.95"/>
<circle cx="402.7" cy="319.4" r="2.1" fill="#eec088" stroke="#1e1408" stroke-width="0.95"/>
<circle cx="414.8" cy="318.3" r="2.1" fill="#eec088" stroke="#1e1408" stroke-width="0.95"/>
<line x1="394.7" y1="284.7" x2="394.7" y2="298.2" stroke="#eec088" stroke-width="1.15" />
<line x1="391.2" y1="291.2" x2="398.2" y2="291.2" stroke="#eec088" stroke-width="1.15" />
<line x1="392.9" y1="284.7" x2="396.5" y2="284.7" stroke="#eec088" stroke-width="1.15" />
<line x1="392.9" y1="298.2" x2="396.5" y2="298.2" stroke="#eec088" stroke-width="1.15" />
<rect x="439.2" y="253.8" width="4.1" height="4.1" fill="#8b85d6" stroke="#10103c" stroke-width="0.95" />
<rect x="445.2" y="265.7" width="4.1" height="4.1" fill="#8b85d6" stroke="#10103c" stroke-width="0.95" />
<rect x="433.1" y="269.5" width="4.1" height="4.1" fill="#8b85d6" stroke="#10103c" stroke-width="0.95" />
<rect x="439.2" y="276.5" width="4.1" height="4.1" fill="#8b85d6" stroke="#10103c" stroke-width="0.95" />
<rect x="445.2" y="281.3" width="4.1" height="4.1" fill="#8b85d6" stroke="#10103c" stroke-width="0.95" />
<rect x="433.1" y="283.0" width="4.1" height="4.1" fill="#8b85d6" stroke="#10103c" stroke-width="0.95" />
<rect x="439.2" y="291.8" width="4.1" height="4.1" fill="#8b85d6" stroke="#10103c" stroke-width="0.95" />
<rect x="433.1" y="302.8" width="4.1" height="4.1" fill="#8b85d6" stroke="#10103c" stroke-width="0.95" />
<rect x="445.2" y="306.3" width="4.1" height="4.1" fill="#8b85d6" stroke="#10103c" stroke-width="0.95" />
<rect x="439.2" y="311.9" width="4.1" height="4.1" fill="#8b85d6" stroke="#10103c" stroke-width="0.95" />
<rect x="445.2" y="316.3" width="4.1" height="4.1" fill="#8b85d6" stroke="#10103c" stroke-width="0.95" />
<rect x="433.1" y="319.1" width="4.1" height="4.1" fill="#8b85d6" stroke="#10103c" stroke-width="0.95" />
<line x1="427.0" y1="285.6" x2="427.0" y2="298.2" stroke="#9b9cf1" stroke-width="1.15" />
<line x1="423.5" y1="292.0" x2="430.5" y2="292.0" stroke="#9b9cf1" stroke-width="1.15" />
<line x1="425.2" y1="285.6" x2="428.8" y2="285.6" stroke="#9b9cf1" stroke-width="1.15" />
<line x1="425.2" y1="298.2" x2="428.8" y2="298.2" stroke="#9b9cf1" stroke-width="1.15" />
<path d="M408.3,252.7 L408.3,243.5 L441.3,243.5 L441.3,249.7" stroke="#000" stroke-width="1.05" fill="none" />
<text x="425.0" y="238.6" font-size="7.5" font-weight="normal" text-anchor="middle" fill="#111" >ns</text>
<line x1="511.0" y1="237.3" x2="511.0" y2="330.0" stroke="#000" stroke-width="1.15" />
<line x1="506.7" y1="238.3" x2="511.0" y2="238.3" stroke="#000" stroke-width="1.1" />
<text x="505.5" y="240.8" font-size="7" font-weight="bold" text-anchor="end" fill="#111" >100</text>
<line x1="506.7" y1="256.4" x2="511.0" y2="256.4" stroke="#000" stroke-width="1.1" />
<text x="505.5" y="258.9" font-size="7" font-weight="bold" text-anchor="end" fill="#111" >80</text>
<line x1="506.7" y1="274.6" x2="511.0" y2="274.6" stroke="#000" stroke-width="1.1" />
<text x="505.5" y="277.1" font-size="7" font-weight="bold" text-anchor="end" fill="#111" >60</text>
<line x1="506.7" y1="292.7" x2="511.0" y2="292.7" stroke="#000" stroke-width="1.1" />
<text x="505.5" y="295.2" font-size="7" font-weight="bold" text-anchor="end" fill="#111" >40</text>
<line x1="506.7" y1="311.0" x2="511.0" y2="311.0" stroke="#000" stroke-width="1.1" />
<text x="505.5" y="313.5" font-size="7" font-weight="bold" text-anchor="end" fill="#111" >20</text>
<line x1="506.7" y1="329.0" x2="511.0" y2="329.0" stroke="#000" stroke-width="1.1" />
<text x="505.5" y="331.5" font-size="7" font-weight="bold" text-anchor="end" fill="#111" >0</text>
<text x="489.5" y="284.0" font-size="8.3" font-weight="bold" text-anchor="middle" fill="#111" transform="rotate(-90 489.5 284.0)" textLength="80" lengthAdjust="spacingAndGlyphs" >SW Amplitude (µV)</text>
<circle cx="530.7" cy="257.0" r="2.1" fill="#eec088" stroke="#1e1408" stroke-width="0.95"/>
<circle cx="530.7" cy="266.3" r="2.1" fill="#eec088" stroke="#1e1408" stroke-width="0.95"/>
<circle cx="525.4" cy="296.1" r="2.1" fill="#eec088" stroke="#1e1408" stroke-width="0.95"/>
<circle cx="529.5" cy="297.3" r="2.1" fill="#eec088" stroke="#1e1408" stroke-width="0.95"/>
<circle cx="533.0" cy="297.9" r="2.1" fill="#eec088" stroke="#1e1408" stroke-width="0.95"/>
<circle cx="533.0" cy="315.7" r="2.1" fill="#eec088" stroke="#1e1408" stroke-width="0.95"/>
<circle cx="525.1" cy="320.1" r="2.1" fill="#eec088" stroke="#1e1408" stroke-width="0.95"/>
<circle cx="529.5" cy="319.8" r="2.1" fill="#eec088" stroke="#1e1408" stroke-width="0.95"/>
<circle cx="536.5" cy="319.8" r="2.1" fill="#eec088" stroke="#1e1408" stroke-width="0.95"/>
<circle cx="532.1" cy="322.0" r="2.1" fill="#eec088" stroke="#1e1408" stroke-width="0.95"/>
<circle cx="529.1" cy="324.7" r="2.1" fill="#eec088" stroke="#1e1408" stroke-width="0.95"/>
<line x1="517.2" y1="298.4" x2="517.2" y2="313.3" stroke="#eec088" stroke-width="1.15" />
<line x1="513.7" y1="305.7" x2="520.7" y2="305.7" stroke="#eec088" stroke-width="1.15" />
<line x1="515.4" y1="298.4" x2="519.0" y2="298.4" stroke="#eec088" stroke-width="1.15" />
<line x1="515.4" y1="313.3" x2="519.0" y2="313.3" stroke="#eec088" stroke-width="1.15" />
<rect x="553.8" y="320.8" width="3.9" height="3.9" fill="#8b85d6" stroke="#10103c" stroke-width="0.95" />
<rect x="565.2" y="320.1" width="3.9" height="3.9" fill="#8b85d6" stroke="#10103c" stroke-width="0.95" />
<rect x="559.0" y="321.3" width="3.9" height="3.9" fill="#8b85d6" stroke="#10103c" stroke-width="0.95" />
<rect x="557.3" y="322.5" width="3.9" height="3.9" fill="#8b85d6" stroke="#10103c" stroke-width="0.95" />
<rect x="565.2" y="323.6" width="3.9" height="3.9" fill="#8b85d6" stroke="#10103c" stroke-width="0.95" />
<rect x="554.7" y="324.8" width="3.9" height="3.9" fill="#8b85d6" stroke="#10103c" stroke-width="0.95" />
<rect x="558.2" y="325.2" width="3.9" height="3.9" fill="#8b85d6" stroke="#10103c" stroke-width="0.95" />
<rect x="562.5" y="325.7" width="3.9" height="3.9" fill="#8b85d6" stroke="#10103c" stroke-width="0.95" />
<line x1="544.9" y1="329.0" x2="550.9" y2="329.0" stroke="#9b9cf1" stroke-width="1.6" />
<path d="M530.7,250.6 L530.7,245.3 L561.5,245.3 L561.5,315.7" stroke="#000" stroke-width="1.05" fill="none" />
<text x="546.5" y="243.2" font-size="10.5" font-weight="bold" text-anchor="middle" fill="#111" textLength="16.5" lengthAdjust="spacingAndGlyphs" >***</text>
<line x1="628.0" y1="239.0" x2="628.0" y2="330.3" stroke="#000" stroke-width="1.15" />
<line x1="623.7" y1="240.0" x2="628.0" y2="240.0" stroke="#000" stroke-width="1.1" />
<text x="622.5" y="242.5" font-size="7" font-weight="bold" text-anchor="end" fill="#111" >600</text>
<line x1="623.7" y1="269.6" x2="628.0" y2="269.6" stroke="#000" stroke-width="1.1" />
<text x="622.5" y="272.1" font-size="7" font-weight="bold" text-anchor="end" fill="#111" >400</text>
<line x1="623.7" y1="299.6" x2="628.0" y2="299.6" stroke="#000" stroke-width="1.1" />
<text x="622.5" y="302.1" font-size="7" font-weight="bold" text-anchor="end" fill="#111" >200</text>
<line x1="623.7" y1="329.4" x2="628.0" y2="329.4" stroke="#000" stroke-width="1.1" />
<text x="622.5" y="331.9" font-size="7" font-weight="bold" text-anchor="end" fill="#111" >0</text>
<text x="608.0" y="285.0" font-size="8.8" font-weight="bold" text-anchor="middle" fill="#111" transform="rotate(-90 608.0 285.0)" textLength="78" lengthAdjust="spacingAndGlyphs" >SW duration (ms)</text>
<circle cx="642.4" cy="255.5" r="2.1" fill="#eec088" stroke="#1e1408" stroke-width="0.95"/>
<circle cx="647.7" cy="257.0" r="2.1" fill="#eec088" stroke="#1e1408" stroke-width="0.95"/>
<circle cx="647.7" cy="267.2" r="2.1" fill="#eec088" stroke="#1e1408" stroke-width="0.95"/>
<circle cx="650.5" cy="280.3" r="2.1" fill="#eec088" stroke="#1e1408" stroke-width="0.95"/>
<circle cx="645.1" cy="282.4" r="2.1" fill="#eec088" stroke="#1e1408" stroke-width="0.95"/>
<circle cx="647.7" cy="286.8" r="2.1" fill="#eec088" stroke="#1e1408" stroke-width="0.95"/>
<circle cx="647.7" cy="297.3" r="2.1" fill="#eec088" stroke="#1e1408" stroke-width="0.95"/>
<circle cx="647.7" cy="303.5" r="2.1" fill="#eec088" stroke="#1e1408" stroke-width="0.95"/>
<circle cx="642.4" cy="309.6" r="2.1" fill="#eec088" stroke="#1e1408" stroke-width="0.95"/>
<circle cx="647.7" cy="309.6" r="2.1" fill="#eec088" stroke="#1e1408" stroke-width="0.95"/>
<circle cx="652.9" cy="311.3" r="2.1" fill="#eec088" stroke="#1e1408" stroke-width="0.95"/>
<circle cx="642.4" cy="315.0" r="2.1" fill="#eec088" stroke="#1e1408" stroke-width="0.95"/>
<line x1="634.2" y1="286.0" x2="634.2" y2="299.3" stroke="#eec088" stroke-width="1.15" />
<line x1="630.7" y1="292.6" x2="637.7" y2="292.6" stroke="#eec088" stroke-width="1.15" />
<line x1="632.4" y1="286.0" x2="636.0" y2="286.0" stroke="#eec088" stroke-width="1.15" />
<line x1="632.4" y1="299.3" x2="636.0" y2="299.3" stroke="#eec088" stroke-width="1.15" />
<rect x="674.5" y="259.4" width="4.1" height="4.1" fill="#8b85d6" stroke="#10103c" stroke-width="0.95" />
<rect x="674.5" y="264.3" width="4.1" height="4.1" fill="#8b85d6" stroke="#10103c" stroke-width="0.95" />
<rect x="669.3" y="274.4" width="4.1" height="4.1" fill="#8b85d6" stroke="#10103c" stroke-width="0.95" />
<rect x="674.5" y="278.3" width="4.1" height="4.1" fill="#8b85d6" stroke="#10103c" stroke-width="0.95" />
<rect x="669.3" y="281.3" width="4.1" height="4.1" fill="#8b85d6" stroke="#10103c" stroke-width="0.95" />
<rect x="674.5" y="282.3" width="4.1" height="4.1" fill="#8b85d6" stroke="#10103c" stroke-width="0.95" />
<rect x="679.8" y="281.3" width="4.1" height="4.1" fill="#8b85d6" stroke="#10103c" stroke-width="0.95" />
<rect x="669.3" y="289.3" width="4.1" height="4.1" fill="#8b85d6" stroke="#10103c" stroke-width="0.95" />
<rect x="674.5" y="293.2" width="4.1" height="4.1" fill="#8b85d6" stroke="#10103c" stroke-width="0.95" />
<rect x="669.3" y="311.6" width="4.1" height="4.1" fill="#8b85d6" stroke="#10103c" stroke-width="0.95" />
<rect x="674.5" y="309.3" width="4.1" height="4.1" fill="#8b85d6" stroke="#10103c" stroke-width="0.95" />
<rect x="679.8" y="311.2" width="4.1" height="4.1" fill="#8b85d6" stroke="#10103c" stroke-width="0.95" />
<line x1="663.6" y1="285.6" x2="663.6" y2="296.5" stroke="#9b9cf1" stroke-width="1.15" />
<line x1="660.6" y1="291.2" x2="666.6" y2="291.2" stroke="#9b9cf1" stroke-width="1.15" />
<line x1="661.9" y1="285.6" x2="665.3" y2="285.6" stroke="#9b9cf1" stroke-width="1.15" />
<line x1="661.9" y1="296.5" x2="665.3" y2="296.5" stroke="#9b9cf1" stroke-width="1.15" />
<path d="M647.3,248.8 L647.3,242.7 L676.6,242.7 L676.6,254.4" stroke="#000" stroke-width="1.05" fill="none" />
<text x="661.9" y="238.6" font-size="7.5" font-weight="normal" text-anchor="middle" fill="#111" >ns</text>
</g>
<g id="panelI">
<rect x="59.9" y="440.8" width="45.1" height="150.7" fill="#f0f0f0" stroke="none" stroke-width="0" />
<rect x="119.7" y="512.3" width="63.7" height="79.2" fill="#ebf2fc" stroke="none" stroke-width="0" />
<rect x="197.5" y="512.3" width="88.2" height="79.2" fill="#f8e3e5" stroke="none" stroke-width="0" />
<rect x="294.8" y="577.0" width="111.8" height="15.0" fill="#a3a3a3" stroke="none" stroke-width="0" />
<path d="M49.0,587.7 L51.3,587.7 L53.5,587.7 L55.8,587.7 L58.1,587.7 L60.4,585.9 L62.6,573.1 L64.9,536.9 L67.2,504.0 L69.5,489.7 L71.7,487.0 L74.0,486.6 L76.3,485.7 L78.6,484.9 L80.8,500.7 L83.1,518.3 L85.4,530.7 L87.6,543.3 L89.9,554.3 L92.2,563.2 L94.5,570.3 L96.7,575.5 L99.0,579.6 L101.3,579.1 L103.6,580.5 L105.8,581.9 L108.1,582.3 L110.4,581.8 L112.7,581.9 L114.9,581.1 L117.2,582.5 L119.5,581.0 L121.7,580.5 L124.0,580.5 L126.3,579.4 L128.6,579.3 L130.8,576.8 L133.1,578.0 L135.4,577.4 L137.7,576.0 L139.9,575.4 L142.2,574.6 L144.5,574.2 L146.8,573.4 L149.0,573.6 L151.3,571.0 L153.6,571.8 L155.8,572.8 L158.1,571.7 L160.4,572.4 L162.7,573.6 L164.9,573.6 L167.2,575.1 L169.5,575.8 L171.8,577.1 L174.0,578.8 L176.3,579.8 L178.6,580.2 L180.9,581.9 L183.1,581.3 L185.4,582.8 L187.7,581.6 L189.9,582.3 L192.2,582.1 L194.5,582.7 L196.8,581.6 L199.0,581.6 L201.3,581.1 L203.6,581.5 L205.9,581.2 L208.1,581.8 L210.4,580.2 L212.7,581.0 L215.0,580.6 L217.2,581.1 L219.5,580.9 L221.8,580.5 L224.0,580.3 L226.3,579.2 L228.6,579.0 L230.9,579.1 L233.1,579.9 L235.4,578.2 L237.7,577.0 L240.0,577.7 L242.2,576.5 L244.5,576.8 L246.8,577.9 L249.1,577.0 L251.3,577.7 L253.6,578.0 L255.9,579.6 L258.1,579.5 L260.4,580.6 L262.7,581.1 L265.0,582.2 L267.2,582.6 L269.5,583.1 L271.8,582.8 L274.1,584.0 L276.3,584.2 L278.6,584.3 L280.9,584.7 L283.1,585.3 L285.4,586.9 L287.7,585.9 L290.0,585.4 L292.2,587.5 L294.5,585.8 L296.8,587.3 L299.1,585.7 L301.3,585.5 L303.6,585.8 L305.9,587.0 L308.2,585.4 L310.4,587.0 L312.7,587.2 L315.0,587.0 L317.2,585.6 L319.5,585.4 L321.8,587.4 L324.1,587.3 L326.3,587.1 L328.6,587.0 L330.9,585.7 L333.2,587.1 L335.4,587.7 L337.7,587.6 L340.0,586.9 L342.3,585.8 L344.5,587.6 L346.8,587.7 L349.1,587.4 L351.3,587.7 L353.6,587.2 L355.9,586.9 L358.2,585.6 L360.4,587.5 L362.7,587.6 L365.0,587.2 L367.3,587.6 L369.5,587.4 L371.8,587.1 L374.1,586.0 L376.4,585.9 L378.6,587.7 L380.9,586.9 L383.2,587.3 L385.4,585.8 L387.7,587.2 L390.0,585.9 L392.3,587.3 L394.5,587.7 L396.8,585.9 L399.1,587.0 L401.4,585.9 L403.6,585.7 L405.9,587.0 L408.2,585.9 L410.5,587.5 L412.7,587.4 L415.0,587.4 L417.3,587.4 L419.5,587.4 L421.8,587.4 L424.1,587.4 L426.4,587.4 L428.6,587.4 L430.9,587.4 L433.2,587.4 L435.5,587.5 L437.7,587.5 L440.0,587.5 L442.3,587.5 L444.6,587.5 L446.8,587.5 L449.1,587.5 L451.4,587.5 L453.6,587.5 L455.9,587.5 L458.2,587.5 L460.5,587.5 L462.7,587.6 L465.0,587.6 L467.3,587.6 L469.6,587.6 L471.8,587.6 L474.1,587.6 L476.4,587.6 L478.7,587.6 L480.9,587.6 L483.2,587.6 L485.5,587.6 L487.7,587.6 L490.0,587.6 L492.3,587.7 L494.6,587.7 L496.8,587.7 L499.1,587.7 L501.4,587.7 L503.7,587.7 L503.7,587.7 L501.4,587.7 L499.1,587.7 L496.8,587.7 L494.6,587.7 L492.3,587.7 L490.0,587.7 L487.7,587.7 L485.5,587.6 L483.2,587.6 L480.9,587.6 L478.7,587.6 L476.4,587.6 L474.1,587.6 L471.8,587.6 L469.6,587.6 L467.3,587.6 L465.0,587.6 L462.7,587.6 L460.5,587.6 L458.2,587.6 L455.9,587.6 L453.6,587.5 L451.4,587.5 L449.1,587.5 L446.8,587.5 L444.6,587.5 L442.3,587.5 L440.0,587.5 L437.7,587.5 L435.5,587.5 L433.2,587.5 L430.9,587.5 L428.6,587.5 L426.4,587.5 L424.1,587.5 L421.8,587.4 L419.5,587.4 L417.3,587.4 L415.0,587.4 L412.7,587.4 L410.5,587.6 L408.2,587.7 L405.9,587.1 L403.6,587.7 L401.4,587.7 L399.1,587.1 L396.8,587.7 L394.5,587.7 L392.3,587.4 L390.0,587.7 L387.7,587.3 L385.4,587.7 L383.2,587.4 L380.9,587.0 L378.6,587.7 L376.4,587.7 L374.1,587.7 L371.8,587.2 L369.5,587.4 L367.3,587.6 L365.0,587.3 L362.7,587.6 L360.4,587.6 L358.2,587.6 L355.9,587.0 L353.6,587.3 L351.3,587.7 L349.1,587.5 L346.8,587.7 L344.5,587.6 L342.3,587.7 L340.0,587.1 L337.7,587.6 L335.4,587.7 L333.2,587.1 L330.9,587.6 L328.6,587.1 L326.3,587.2 L324.1,587.3 L321.8,587.5 L319.5,587.5 L317.2,587.5 L315.0,587.1 L312.7,587.2 L310.4,587.1 L308.2,587.5 L305.9,587.1 L303.6,587.7 L301.3,587.5 L299.1,587.7 L296.8,587.4 L294.5,587.7 L292.2,587.6 L290.0,587.5 L287.7,587.7 L285.4,587.0 L283.1,587.3 L280.9,586.9 L278.6,586.4 L276.3,586.3 L274.1,586.2 L271.8,585.2 L269.5,585.4 L267.2,584.9 L265.0,584.6 L262.7,583.8 L260.4,583.2 L258.1,582.3 L255.9,582.2 L253.6,581.4 L251.3,581.1 L249.1,580.2 L246.8,581.0 L244.5,580.0 L242.2,580.1 L240.0,581.0 L237.7,580.4 L235.4,581.6 L233.1,582.6 L230.9,582.1 L228.6,581.8 L226.3,582.4 L224.0,583.1 L221.8,583.2 L219.5,583.4 L217.2,583.6 L215.0,583.4 L212.7,583.5 L210.4,583.3 L208.1,584.2 L205.9,583.7 L203.6,584.2 L201.3,584.0 L199.0,584.2 L196.8,584.1 L194.5,585.1 L192.2,584.5 L189.9,584.7 L187.7,584.4 L185.4,585.0 L183.1,583.8 L180.9,584.6 L178.6,583.0 L176.3,582.8 L174.0,581.7 L171.8,580.3 L169.5,579.1 L167.2,579.0 L164.9,577.0 L162.7,577.4 L160.4,576.7 L158.1,575.5 L155.8,576.5 L153.6,576.1 L151.3,575.3 L149.0,576.9 L146.8,577.5 L144.5,577.5 L142.2,578.3 L139.9,578.6 L137.7,579.3 L135.4,580.9 L133.1,580.9 L130.8,580.3 L128.6,582.1 L126.3,582.4 L124.0,583.0 L121.7,583.4 L119.5,583.8 L117.2,585.0 L114.9,583.8 L112.7,584.3 L110.4,584.4 L108.1,584.7 L105.8,584.2 L103.6,583.3 L101.3,582.1 L99.0,582.6 L96.7,578.7 L94.5,574.2 L92.2,569.0 L89.9,561.3 L87.6,552.1 L85.4,541.2 L83.1,528.2 L80.8,511.9 L78.6,500.3 L76.3,502.5 L74.0,499.7 L71.7,501.2 L69.5,504.5 L67.2,520.9 L64.9,546.9 L62.6,576.8 L60.4,587.7 L58.1,587.7 L55.8,587.7 L53.5,587.7 L51.3,587.7 L49.0,587.7Z" stroke="none" stroke-width="0" fill="#9cc4f2" fill-opacity="0.55"/>
<path d="M49.0,587.7 L51.3,587.7 L53.5,587.7 L55.8,587.7 L58.1,587.7 L60.4,584.5 L62.6,562.0 L64.9,520.1 L67.2,502.9 L69.5,504.6 L71.7,512.9 L74.0,518.9 L76.3,522.0 L78.6,528.9 L80.8,535.7 L83.1,540.8 L85.4,546.3 L87.6,551.3 L89.9,556.1 L92.2,561.1 L94.5,568.2 L96.7,570.4 L99.0,572.4 L101.3,574.0 L103.6,575.6 L105.8,576.1 L108.1,578.0 L110.4,578.2 L112.7,577.7 L114.9,578.9 L117.2,579.5 L119.5,579.3 L121.7,580.8 L124.0,579.9 L126.3,580.3 L128.6,579.7 L130.8,579.1 L133.1,579.3 L135.4,579.6 L137.7,579.0 L139.9,577.9 L142.2,577.9 L144.5,578.6 L146.8,579.3 L149.0,579.1 L151.3,579.8 L153.6,579.1 L155.8,577.6 L158.1,579.6 L160.4,579.2 L162.7,578.6 L164.9,579.6 L167.2,578.9 L169.5,579.4 L171.8,579.5 L174.0,580.6 L176.3,580.4 L178.6,581.5 L180.9,581.6 L183.1,581.5 L185.4,581.5 L187.7,581.8 L189.9,581.9 L192.2,582.0 L194.5,582.2 L196.8,581.8 L199.0,581.6 L201.3,581.2 L203.6,581.3 L205.9,580.3 L208.1,580.1 L210.4,579.6 L212.7,579.7 L215.0,579.3 L217.2,578.2 L219.5,577.6 L221.8,577.0 L224.0,576.2 L226.3,575.6 L228.6,574.7 L230.9,573.8 L233.1,573.9 L235.4,573.1 L237.7,571.6 L240.0,571.5 L242.2,569.8 L244.5,569.9 L246.8,570.0 L249.1,570.0 L251.3,568.9 L253.6,569.6 L255.9,570.8 L258.1,570.4 L260.4,571.0 L262.7,571.7 L265.0,572.1 L267.2,574.2 L269.5,575.4 L271.8,576.0 L274.1,577.4 L276.3,578.5 L278.6,580.8 L280.9,580.9 L283.1,582.5 L285.4,584.6 L287.7,584.6 L290.0,584.7 L292.2,585.1 L294.5,585.1 L296.8,585.3 L299.1,585.7 L301.3,587.0 L303.6,585.9 L305.9,585.8 L308.2,585.5 L310.4,585.6 L312.7,585.4 L315.0,585.0 L317.2,585.1 L319.5,584.9 L321.8,585.8 L324.1,585.1 L326.3,585.7 L328.6,585.0 L330.9,585.7 L333.2,585.8 L335.4,585.2 L337.7,584.8 L340.0,585.3 L342.3,584.7 L344.5,585.2 L346.8,584.5 L349.1,584.4 L351.3,584.5 L353.6,583.8 L355.9,584.0 L358.2,585.0 L360.4,584.5 L362.7,585.1 L365.0,584.8 L367.3,584.1 L369.5,584.4 L371.8,585.2 L374.1,585.3 L376.4,584.8 L378.6,585.3 L380.9,585.0 L383.2,584.8 L385.4,584.9 L387.7,584.9 L390.0,585.5 L392.3,584.7 L394.5,585.7 L396.8,585.4 L399.1,585.8 L401.4,587.2 L403.6,585.7 L405.9,587.3 L408.2,585.4 L410.5,587.6 L412.7,585.7 L415.0,585.9 L417.3,587.7 L419.5,587.0 L421.8,587.1 L424.1,587.4 L426.4,587.4 L428.6,587.4 L430.9,587.5 L433.2,587.5 L435.5,587.5 L437.7,587.5 L440.0,587.5 L442.3,587.6 L444.6,587.6 L446.8,587.6 L449.1,587.6 L451.4,587.6 L453.6,587.6 L455.9,587.6 L458.2,587.6 L460.5,587.6 L462.7,587.6 L465.0,587.6 L467.3,587.6 L469.6,587.6 L471.8,587.6 L474.1,587.6 L476.4,587.6 L478.7,587.6 L480.9,587.6 L483.2,587.6 L485.5,587.7 L487.7,587.7 L490.0,587.7 L492.3,587.7 L494.6,587.7 L496.8,587.7 L499.1,587.7 L501.4,587.7 L503.7,587.7 L503.7,587.7 L501.4,587.7 L499.1,587.7 L496.8,587.7 L494.6,587.7 L492.3,587.7 L490.0,587.7 L487.7,587.7 L485.5,587.7 L483.2,587.7 L480.9,587.7 L478.7,587.6 L476.4,587.6 L474.1,587.6 L471.8,587.6 L469.6,587.6 L467.3,587.6 L465.0,587.6 L462.7,587.6 L460.5,587.6 L458.2,587.6 L455.9,587.6 L453.6,587.6 L451.4,587.6 L449.1,587.6 L446.8,587.6 L444.6,587.6 L442.3,587.6 L440.0,587.6 L437.7,587.6 L435.5,587.6 L433.2,587.5 L430.9,587.5 L428.6,587.5 L426.4,587.5 L424.1,587.4 L421.8,587.2 L419.5,587.1 L417.3,587.7 L415.0,587.7 L412.7,587.6 L410.5,587.6 L408.2,587.5 L405.9,587.3 L403.6,587.7 L401.4,587.3 L399.1,587.7 L396.8,587.5 L394.5,587.7 L392.3,586.8 L390.0,587.6 L387.7,587.0 L385.4,587.0 L383.2,587.0 L380.9,587.2 L378.6,587.4 L376.4,586.9 L374.1,587.3 L371.8,587.3 L369.5,586.5 L367.3,586.4 L365.0,586.9 L362.7,587.2 L360.4,586.7 L358.2,587.1 L355.9,586.2 L353.6,586.2 L351.3,586.7 L349.1,586.6 L346.8,586.6 L344.5,587.2 L342.3,586.8 L340.0,587.3 L337.7,587.0 L335.4,587.3 L333.2,587.7 L330.9,587.6 L328.6,587.1 L326.3,587.7 L324.1,587.1 L321.8,587.7 L319.5,587.0 L317.2,587.2 L315.0,587.1 L312.7,587.4 L310.4,587.6 L308.2,587.5 L305.9,587.7 L303.6,587.7 L301.3,587.1 L299.1,587.7 L296.8,587.3 L294.5,587.2 L292.2,587.1 L290.0,586.9 L287.7,586.8 L285.4,586.8 L283.1,584.8 L280.9,583.7 L278.6,583.3 L276.3,581.4 L274.1,580.7 L271.8,579.6 L269.5,578.8 L267.2,577.4 L265.0,575.6 L262.7,575.7 L260.4,574.8 L258.1,574.4 L255.9,574.4 L253.6,574.7 L251.3,573.7 L249.1,574.2 L246.8,574.3 L244.5,574.0 L242.2,574.6 L240.0,575.8 L237.7,575.8 L235.4,577.3 L233.1,577.3 L230.9,577.6 L228.6,578.1 L226.3,579.5 L224.0,579.5 L221.8,580.2 L219.5,580.5 L217.2,581.1 L215.0,582.3 L212.7,582.3 L210.4,582.7 L208.1,582.7 L205.9,583.0 L203.6,584.0 L201.3,584.0 L199.0,584.2 L196.8,584.3 L194.5,584.6 L192.2,584.4 L189.9,584.4 L187.7,584.5 L185.4,583.9 L183.1,584.0 L180.9,584.3 L178.6,584.1 L176.3,583.3 L174.0,583.3 L171.8,582.3 L169.5,582.3 L167.2,582.2 L164.9,582.3 L162.7,581.7 L160.4,582.3 L158.1,582.3 L155.8,580.7 L153.6,582.2 L151.3,582.7 L149.0,581.7 L146.8,582.4 L144.5,581.4 L142.2,581.1 L139.9,580.8 L137.7,581.9 L135.4,582.7 L133.1,582.1 L130.8,582.2 L128.6,582.4 L126.3,583.1 L124.0,582.4 L121.7,583.7 L119.5,582.3 L117.2,582.5 L114.9,581.9 L112.7,580.6 L110.4,581.5 L108.1,580.9 L105.8,579.1 L103.6,579.1 L101.3,577.8 L99.0,576.6 L96.7,574.1 L94.5,572.4 L92.2,567.3 L89.9,562.9 L87.6,558.9 L85.4,554.3 L83.1,548.1 L80.8,543.0 L78.6,538.5 L76.3,533.4 L74.0,528.3 L71.7,523.9 L69.5,517.3 L67.2,520.1 L64.9,532.9 L62.6,567.2 L60.4,586.6 L58.1,587.7 L55.8,587.7 L53.5,587.7 L51.3,587.7 L49.0,587.7Z" stroke="none" stroke-width="0" fill="#9fdcb0" fill-opacity="0.55"/>
<line x1="47.6" y1="403.8" x2="47.6" y2="588.6" stroke="#000" stroke-width="1.9" />
<line x1="46.7" y1="587.7" x2="503.5" y2="587.7" stroke="#000" stroke-width="1.9" />
<line x1="40.8" y1="587.7" x2="47.6" y2="587.7" stroke="#000" stroke-width="1.8" />
<text x="38.9" y="591.7" font-size="11.2" font-weight="bold" text-anchor="end" fill="#111" >0</text>
<line x1="40.8" y1="557.2" x2="47.6" y2="557.2" stroke="#000" stroke-width="1.8" />
<text x="38.9" y="561.2" font-size="11.2" font-weight="bold" text-anchor="end" fill="#111" >2</text>
<line x1="40.8" y1="526.7" x2="47.6" y2="526.7" stroke="#000" stroke-width="1.8" />
<text x="38.9" y="530.7" font-size="11.2" font-weight="bold" text-anchor="end" fill="#111" >4</text>
<line x1="40.8" y1="496.2" x2="47.6" y2="496.2" stroke="#000" stroke-width="1.8" />
<text x="38.9" y="500.2" font-size="11.2" font-weight="bold" text-anchor="end" fill="#111" >6</text>
<line x1="40.8" y1="465.7" x2="47.6" y2="465.7" stroke="#000" stroke-width="1.8" />
<text x="38.9" y="469.7" font-size="11.2" font-weight="bold" text-anchor="end" fill="#111" >8</text>
<line x1="40.8" y1="435.2" x2="47.6" y2="435.2" stroke="#000" stroke-width="1.8" />
<text x="38.9" y="439.2" font-size="11.2" font-weight="bold" text-anchor="end" fill="#111" >10</text>
<line x1="40.8" y1="404.7" x2="47.6" y2="404.7" stroke="#000" stroke-width="1.8" />
<text x="38.9" y="408.7" font-size="11.2" font-weight="bold" text-anchor="end" fill="#111" >12</text>
<line x1="49.0" y1="587.7" x2="49.0" y2="593.3" stroke="#000" stroke-width="1.8" />
<text x="53.6" y="600.9" font-size="11.6" font-weight="bold" text-anchor="end" fill="#111" transform="rotate(-47 53.6 600.9)" >0</text>
<line x1="83.1" y1="587.7" x2="83.1" y2="593.3" stroke="#000" stroke-width="1.8" />
<text x="87.7" y="600.9" font-size="11.6" font-weight="bold" text-anchor="end" fill="#111" transform="rotate(-47 87.7 600.9)" >150</text>
<line x1="117.2" y1="587.7" x2="117.2" y2="593.3" stroke="#000" stroke-width="1.8" />
<text x="121.8" y="600.9" font-size="11.6" font-weight="bold" text-anchor="end" fill="#111" transform="rotate(-47 121.8 600.9)" >300</text>
<line x1="151.3" y1="587.7" x2="151.3" y2="593.3" stroke="#000" stroke-width="1.8" />
<text x="155.9" y="600.9" font-size="11.6" font-weight="bold" text-anchor="end" fill="#111" transform="rotate(-47 155.9 600.9)" >450</text>
<line x1="185.4" y1="587.7" x2="185.4" y2="593.3" stroke="#000" stroke-width="1.8" />
<text x="190.0" y="600.9" font-size="11.6" font-weight="bold" text-anchor="end" fill="#111" transform="rotate(-47 190.0 600.9)" >600</text>
<line x1="219.5" y1="587.7" x2="219.5" y2="593.3" stroke="#000" stroke-width="1.8" />
<text x="224.1" y="600.9" font-size="11.6" font-weight="bold" text-anchor="end" fill="#111" transform="rotate(-47 224.1 600.9)" >750</text>
<line x1="253.6" y1="587.7" x2="253.6" y2="593.3" stroke="#000" stroke-width="1.8" />
<text x="258.2" y="600.9" font-size="11.6" font-weight="bold" text-anchor="end" fill="#111" transform="rotate(-47 258.2 600.9)" >900</text>
<line x1="287.7" y1="587.7" x2="287.7" y2="593.3" stroke="#000" stroke-width="1.8" />
<text x="292.3" y="600.9" font-size="11.6" font-weight="bold" text-anchor="end" fill="#111" transform="rotate(-47 292.3 600.9)" >1050</text>
<line x1="321.8" y1="587.7" x2="321.8" y2="593.3" stroke="#000" stroke-width="1.8" />
<text x="326.4" y="600.9" font-size="11.6" font-weight="bold" text-anchor="end" fill="#111" transform="rotate(-47 326.4 600.9)" >1200</text>
<line x1="355.9" y1="587.7" x2="355.9" y2="593.3" stroke="#000" stroke-width="1.8" />
<text x="360.5" y="600.9" font-size="11.6" font-weight="bold" text-anchor="end" fill="#111" transform="rotate(-47 360.5 600.9)" >1350</text>
<line x1="390.0" y1="587.7" x2="390.0" y2="593.3" stroke="#000" stroke-width="1.8" />
<text x="394.6" y="600.9" font-size="11.6" font-weight="bold" text-anchor="end" fill="#111" transform="rotate(-47 394.6 600.9)" >1500</text>
<line x1="424.1" y1="587.7" x2="424.1" y2="593.3" stroke="#000" stroke-width="1.8" />
<text x="428.7" y="600.9" font-size="11.6" font-weight="bold" text-anchor="end" fill="#111" transform="rotate(-47 428.7 600.9)" >1650</text>
<line x1="458.2" y1="587.7" x2="458.2" y2="593.3" stroke="#000" stroke-width="1.8" />
<text x="462.8" y="600.9" font-size="11.6" font-weight="bold" text-anchor="end" fill="#111" transform="rotate(-47 462.8 600.9)" >1800</text>
<line x1="492.3" y1="587.7" x2="492.3" y2="593.3" stroke="#000" stroke-width="1.8" />
<text x="496.9" y="600.9" font-size="11.6" font-weight="bold" text-anchor="end" fill="#111" transform="rotate(-47 496.9 600.9)" >1950</text>
<path d="M49.0,587.7 L51.3,587.7 L53.5,587.7 L55.8,587.7 L58.1,587.7 L60.4,586.9 L62.6,574.9 L64.9,541.9 L67.2,512.5 L69.5,497.1 L71.7,494.1 L74.0,493.2 L76.3,494.1 L78.6,492.6 L80.8,506.3 L83.1,523.2 L85.4,535.9 L87.6,547.7 L89.9,557.8 L92.2,566.1 L94.5,572.2 L96.7,577.1 L99.0,581.1 L101.3,580.6 L103.6,581.9 L105.8,583.1 L108.1,583.5 L110.4,583.1 L112.7,583.1 L114.9,582.4 L117.2,583.8 L119.5,582.4 L121.7,581.9 L124.0,581.8 L126.3,580.9 L128.6,580.7 L130.8,578.5 L133.1,579.5 L135.4,579.2 L137.7,577.6 L139.9,577.0 L142.2,576.4 L144.5,575.9 L146.8,575.4 L149.0,575.3 L151.3,573.2 L153.6,573.9 L155.8,574.7 L158.1,573.6 L160.4,574.6 L162.7,575.5 L164.9,575.3 L167.2,577.1 L169.5,577.4 L171.8,578.7 L174.0,580.2 L176.3,581.3 L178.6,581.6 L180.9,583.2 L183.1,582.5 L185.4,583.9 L187.7,583.0 L189.9,583.5 L192.2,583.3 L194.5,583.9 L196.8,582.8 L199.0,582.9 L201.3,582.6 L203.6,582.9 L205.9,582.4 L208.1,583.0 L210.4,581.7 L212.7,582.2 L215.0,582.0 L217.2,582.4 L219.5,582.2 L221.8,581.9 L224.0,581.7 L226.3,580.8 L228.6,580.4 L230.9,580.6 L233.1,581.3 L235.4,579.9 L237.7,578.7 L240.0,579.3 L242.2,578.3 L244.5,578.4 L246.8,579.4 L249.1,578.6 L251.3,579.4 L253.6,579.7 L255.9,580.9 L258.1,580.9 L260.4,581.9 L262.7,582.4 L265.0,583.4 L267.2,583.7 L269.5,584.3 L271.8,584.0 L274.1,585.1 L276.3,585.2 L278.6,585.3 L280.9,585.8 L283.1,586.3 L285.4,587.0 L287.7,586.9 L290.0,586.4 L292.2,587.6 L294.5,586.7 L296.8,587.4 L299.1,586.7 L301.3,586.5 L303.6,586.8 L305.9,587.1 L308.2,586.4 L310.4,587.1 L312.7,587.2 L315.0,587.0 L317.2,586.6 L319.5,586.5 L321.8,587.5 L324.1,587.3 L326.3,587.2 L328.6,587.1 L330.9,586.7 L333.2,587.1 L335.4,587.7 L337.7,587.6 L340.0,587.0 L342.3,586.8 L344.5,587.6 L346.8,587.7 L349.1,587.4 L351.3,587.7 L353.6,587.2 L355.9,587.0 L358.2,586.6 L360.4,587.5 L362.7,587.6 L365.0,587.3 L367.3,587.6 L369.5,587.4 L371.8,587.2 L374.1,586.9 L376.4,586.9 L378.6,587.7 L380.9,587.0 L383.2,587.4 L385.4,586.8 L387.7,587.2 L390.0,586.9 L392.3,587.3 L394.5,587.7 L396.8,586.9 L399.1,587.1 L401.4,586.9 L403.6,586.8 L405.9,587.0 L408.2,586.9 L410.5,587.6 L412.7,587.4 L415.0,587.4 L417.3,587.4 L419.5,587.4 L421.8,587.4 L424.1,587.4 L426.4,587.4 L428.6,587.4 L430.9,587.5 L433.2,587.5 L435.5,587.5 L437.7,587.5 L440.0,587.5 L442.3,587.5 L444.6,587.5 L446.8,587.5 L449.1,587.5 L451.4,587.5 L453.6,587.5 L455.9,587.5 L458.2,587.5 L460.5,587.6 L462.7,587.6 L465.0,587.6 L467.3,587.6 L469.6,587.6 L471.8,587.6 L474.1,587.6 L476.4,587.6 L478.7,587.6 L480.9,587.6 L483.2,587.6 L485.5,587.6 L487.7,587.6 L490.0,587.7 L492.3,587.7 L494.6,587.7 L496.8,587.7 L499.1,587.7 L501.4,587.7 L503.7,587.7" stroke="#2b22d6" stroke-width="1.25" fill="none" stroke-linejoin="round"/>
<path d="M49.0,587.7 L51.3,587.7 L53.5,587.7 L55.8,587.7 L58.1,587.7 L60.4,585.5 L62.6,564.6 L64.9,526.5 L67.2,511.5 L69.5,511.0 L71.7,518.4 L74.0,523.6 L76.3,527.7 L78.6,533.7 L80.8,539.4 L83.1,544.5 L85.4,550.3 L87.6,555.1 L89.9,559.5 L92.2,564.2 L94.5,570.3 L96.7,572.2 L99.0,574.5 L101.3,575.9 L103.6,577.4 L105.8,577.6 L108.1,579.5 L110.4,579.8 L112.7,579.1 L114.9,580.4 L117.2,581.0 L119.5,580.8 L121.7,582.3 L124.0,581.1 L126.3,581.7 L128.6,581.1 L130.8,580.7 L133.1,580.7 L135.4,581.2 L137.7,580.4 L139.9,579.3 L142.2,579.5 L144.5,580.0 L146.8,580.8 L149.0,580.4 L151.3,581.2 L153.6,580.7 L155.8,579.1 L158.1,581.0 L160.4,580.8 L162.7,580.1 L164.9,581.0 L167.2,580.6 L169.5,580.9 L171.8,580.9 L174.0,582.0 L176.3,581.8 L178.6,582.8 L180.9,583.0 L183.1,582.7 L185.4,582.7 L187.7,583.2 L189.9,583.1 L192.2,583.2 L194.5,583.4 L196.8,583.0 L199.0,582.9 L201.3,582.6 L203.6,582.7 L205.9,581.6 L208.1,581.4 L210.4,581.2 L212.7,581.0 L215.0,580.8 L217.2,579.6 L219.5,579.1 L221.8,578.6 L224.0,577.8 L226.3,577.5 L228.6,576.4 L230.9,575.7 L233.1,575.6 L235.4,575.2 L237.7,573.7 L240.0,573.6 L242.2,572.2 L244.5,571.9 L246.8,572.2 L249.1,572.1 L251.3,571.3 L253.6,572.2 L255.9,572.6 L258.1,572.4 L260.4,572.9 L262.7,573.7 L265.0,573.8 L267.2,575.8 L269.5,577.1 L271.8,577.8 L274.1,579.1 L276.3,580.0 L278.6,582.1 L280.9,582.3 L283.1,583.6 L285.4,585.7 L287.7,585.7 L290.0,585.8 L292.2,586.1 L294.5,586.1 L296.8,586.3 L299.1,586.7 L301.3,587.1 L303.6,586.8 L305.9,586.8 L308.2,586.5 L310.4,586.6 L312.7,586.4 L315.0,586.0 L317.2,586.2 L319.5,586.0 L321.8,586.8 L324.1,586.1 L326.3,586.7 L328.6,586.0 L330.9,586.7 L333.2,586.8 L335.4,586.3 L337.7,585.9 L340.0,586.3 L342.3,585.7 L344.5,586.2 L346.8,585.6 L349.1,585.5 L351.3,585.6 L353.6,585.0 L355.9,585.1 L358.2,586.0 L360.4,585.6 L362.7,586.1 L365.0,585.9 L367.3,585.3 L369.5,585.5 L371.8,586.2 L374.1,586.3 L376.4,585.8 L378.6,586.4 L380.9,586.1 L383.2,585.9 L385.4,586.0 L387.7,585.9 L390.0,586.5 L392.3,585.7 L394.5,586.7 L396.8,586.4 L399.1,586.8 L401.4,587.2 L403.6,586.7 L405.9,587.3 L408.2,586.5 L410.5,587.6 L412.7,586.6 L415.0,586.9 L417.3,587.7 L419.5,587.1 L421.8,587.2 L424.1,587.4 L426.4,587.4 L428.6,587.5 L430.9,587.5 L433.2,587.5 L435.5,587.5 L437.7,587.6 L440.0,587.6 L442.3,587.6 L444.6,587.6 L446.8,587.6 L449.1,587.6 L451.4,587.6 L453.6,587.6 L455.9,587.6 L458.2,587.6 L460.5,587.6 L462.7,587.6 L465.0,587.6 L467.3,587.6 L469.6,587.6 L471.8,587.6 L474.1,587.6 L476.4,587.6 L478.7,587.6 L480.9,587.6 L483.2,587.7 L485.5,587.7 L487.7,587.7 L490.0,587.7 L492.3,587.7 L494.6,587.7 L496.8,587.7 L499.1,587.7 L501.4,587.7 L503.7,587.7" stroke="#2c7d22" stroke-width="1.25" fill="none" stroke-linejoin="round"/>
<text x="19.6" y="494.2" font-size="13.8" font-weight="bold" text-anchor="middle" fill="#111" transform="rotate(-90 19.6 494.2)" textLength="150" lengthAdjust="spacingAndGlyphs" >Frequency distribution</text>
<text x="274.0" y="640.9" font-size="14.5" font-weight="bold" text-anchor="middle" fill="#111" textLength="89.5" lengthAdjust="spacingAndGlyphs" >Duration (ms)</text>
<text x="54.0" y="391.7" font-size="12.6" font-weight="bold" text-anchor="start" fill="#111" textLength="81" lengthAdjust="spacingAndGlyphs" >Early Juvenile</text>
<line x1="118.3" y1="446.3" x2="131.8" y2="446.3" stroke="#2b22d6" stroke-width="1.4" />
<line x1="118.3" y1="462.4" x2="131.8" y2="462.4" stroke="#2c7d22" stroke-width="1.4" />
<text x="139.6" y="450.7" font-size="13.5" font-weight="normal" text-anchor="start" fill="#111" >DMSO</text>
<text x="139.1" y="467.0" font-size="13.5" font-weight="normal" text-anchor="start" fill="#111" >SB-3CT</text>
<line x1="309.3" y1="491.1" x2="309.3" y2="551.8" stroke="#111" stroke-width="0.9" />
<line x1="309.0" y1="551.4" x2="458.6" y2="551.4" stroke="#111" stroke-width="0.9" />
<line x1="306.8" y1="551.4" x2="309.3" y2="551.4" stroke="#111" stroke-width="0.9" />
<text x="305.6" y="554.1" font-size="7.5" font-weight="bold" text-anchor="end" fill="#111" >0.0</text>
<line x1="306.8" y1="521.5" x2="309.3" y2="521.5" stroke="#111" stroke-width="0.9" />
<text x="305.6" y="524.2" font-size="7.5" font-weight="bold" text-anchor="end" fill="#111" >0.2</text>
<line x1="306.8" y1="491.6" x2="309.3" y2="491.6" stroke="#111" stroke-width="0.9" />
<text x="305.6" y="494.3" font-size="7.5" font-weight="bold" text-anchor="end" fill="#111" >0.4</text>
<line x1="337.6" y1="551.4" x2="337.6" y2="554.0" stroke="#111" stroke-width="0.9" />
<text x="340.2" y="559.6" font-size="7.4" font-weight="bold" text-anchor="end" fill="#111" transform="rotate(-47 340.2 559.6)" >1190</text>
<line x1="374.0" y1="551.4" x2="374.0" y2="554.0" stroke="#111" stroke-width="0.9" />
<text x="376.6" y="559.6" font-size="7.4" font-weight="bold" text-anchor="end" fill="#111" transform="rotate(-47 376.6 559.6)" >1340</text>
<line x1="410.4" y1="551.4" x2="410.4" y2="554.0" stroke="#111" stroke-width="0.9" />
<text x="413.0" y="559.6" font-size="7.4" font-weight="bold" text-anchor="end" fill="#111" transform="rotate(-47 413.0 559.6)" >1490</text>
<line x1="446.7" y1="551.4" x2="446.7" y2="554.0" stroke="#111" stroke-width="0.9" />
<text x="449.3" y="559.6" font-size="7.4" font-weight="bold" text-anchor="end" fill="#111" transform="rotate(-47 449.3 559.6)" >1640</text>
<path d="M309.7,542.8 L312.1,541.3 L314.6,539.7 L317.0,539.4 L319.4,544.1 L321.8,543.6 L324.3,542.0 L326.7,537.0 L329.1,542.3 L331.5,539.9 L334.0,541.2 L336.4,542.7 L338.8,540.2 L341.2,540.4 L343.7,540.5 L346.1,537.7 L348.5,543.5 L350.9,543.5 L353.4,539.3 L355.8,542.1 L358.2,543.1 L360.6,541.5 L363.1,540.5 L365.5,537.8 L367.9,542.1 L370.3,541.2 L372.8,540.1 L375.2,540.2 L377.6,542.1 L380.0,541.8 L382.5,542.0 L384.9,539.8 L387.3,538.2 L389.7,538.0 L392.2,544.9 L394.6,543.1 L397.0,541.8 L399.4,542.6 L401.9,545.5 L404.3,545.1 L406.7,545.3 L409.1,546.7 L411.6,546.1 L414.0,547.6 L416.4,550.6 L418.8,551.4 L421.3,551.4 L423.7,551.4 L426.1,551.4 L428.5,551.4 L431.0,551.4 L433.4,551.4 L435.8,551.4 L438.2,549.1 L440.7,547.2 L443.1,547.6 L445.5,549.1 L447.9,551.4 L450.4,551.4 L452.8,551.4 L455.2,551.4 L457.6,551.4 L457.6,551.4 L455.2,551.4 L452.8,551.4 L450.4,551.4 L447.9,551.4 L445.5,551.4 L443.1,551.4 L440.7,551.4 L438.2,551.4 L435.8,551.4 L433.4,551.4 L431.0,551.4 L428.5,551.4 L426.1,551.4 L423.7,551.4 L421.3,551.4 L418.8,551.4 L416.4,551.0 L414.0,551.3 L411.6,550.3 L409.1,551.0 L406.7,550.8 L404.3,550.8 L401.9,550.9 L399.4,548.9 L397.0,547.7 L394.6,548.9 L392.2,549.9 L389.7,548.0 L387.3,545.4 L384.9,549.0 L382.5,548.3 L380.0,548.8 L377.6,547.8 L375.2,548.9 L372.8,547.1 L370.3,548.8 L367.9,547.9 L365.5,546.7 L363.1,548.7 L360.6,548.4 L358.2,548.3 L355.8,548.4 L353.4,548.6 L350.9,550.0 L348.5,549.0 L346.1,548.3 L343.7,548.8 L341.2,548.1 L338.8,547.9 L336.4,549.1 L334.0,548.1 L331.5,548.3 L329.1,548.2 L326.7,546.7 L324.3,547.2 L321.8,550.1 L319.4,550.2 L317.0,548.7 L314.6,548.9 L312.1,549.5 L309.7,548.7Z" stroke="none" stroke-width="0" fill="#a9c9f4" fill-opacity="0.6"/>
<path d="M309.7,545.7 L312.1,545.4 L314.6,544.3 L317.0,544.1 L319.4,547.1 L321.8,546.9 L324.3,544.6 L326.7,541.8 L329.1,545.2 L331.5,544.1 L334.0,544.7 L336.4,545.9 L338.8,544.0 L341.2,544.3 L343.7,544.7 L346.1,543.0 L348.5,546.3 L350.9,546.7 L353.4,543.9 L355.8,545.3 L358.2,545.7 L360.6,545.0 L363.1,544.6 L365.5,542.2 L367.9,545.0 L370.3,545.0 L372.8,543.6 L375.2,544.5 L377.6,545.0 L380.0,545.3 L382.5,545.2 L384.9,544.4 L387.3,541.8 L389.7,543.0 L392.2,547.4 L394.6,546.0 L397.0,544.8 L399.4,545.8 L401.9,548.2 L404.3,548.0 L406.7,548.1 L409.1,548.9 L411.6,548.2 L414.0,549.5 L416.4,550.8 L418.8,551.4 L421.3,551.4 L423.7,551.4 L426.1,551.4 L428.5,551.4 L431.0,551.4 L433.4,551.4 L435.8,551.4 L438.2,550.5 L440.7,549.4 L443.1,549.5 L445.5,550.6 L447.9,551.4 L450.4,551.4 L452.8,551.4 L455.2,551.4 L457.6,551.4" stroke="#3a33dc" stroke-width="0.8" fill="none" stroke-linejoin="round"/>
<path d="M309.7,532.2 L312.1,543.5 L314.6,543.9 L317.0,543.1 L319.4,543.1 L321.8,542.6 L324.3,543.0 L326.7,534.0 L329.1,540.2 L331.5,542.5 L334.0,535.8 L336.4,532.4 L338.8,538.0 L341.2,540.0 L343.7,536.5 L346.1,538.6 L348.5,537.4 L350.9,533.9 L353.4,532.3 L355.8,533.4 L358.2,530.8 L360.6,530.7 L363.1,533.2 L365.5,534.6 L367.9,528.4 L370.3,531.5 L372.8,524.0 L375.2,513.6 L377.6,523.3 L380.0,523.7 L382.5,522.2 L384.9,523.4 L387.3,527.0 L389.7,519.3 L392.2,519.4 L394.6,524.2 L397.0,522.1 L399.4,519.6 L401.9,517.5 L404.3,526.3 L406.7,528.0 L409.1,528.4 L411.6,530.2 L414.0,538.1 L416.4,540.3 L418.8,543.5 L421.3,544.9 L423.7,542.2 L426.1,542.8 L428.5,547.7 L431.0,551.4 L433.4,551.4 L435.8,551.4 L438.2,548.4 L440.7,544.7 L443.1,546.4 L445.5,547.6 L447.9,548.5 L450.4,548.4 L452.8,548.6 L455.2,548.4 L457.6,548.1 L457.6,551.4 L455.2,551.4 L452.8,551.4 L450.4,551.4 L447.9,551.4 L445.5,551.2 L443.1,550.5 L440.7,548.8 L438.2,551.4 L435.8,551.4 L433.4,551.4 L431.0,551.4 L428.5,551.1 L426.1,548.9 L423.7,549.2 L421.3,549.8 L418.8,549.3 L416.4,547.9 L414.0,545.1 L411.6,543.9 L409.1,542.2 L406.7,542.8 L404.3,537.2 L401.9,533.6 L399.4,531.6 L397.0,538.1 L394.6,535.2 L392.2,539.4 L389.7,537.3 L387.3,536.6 L384.9,537.5 L382.5,535.1 L380.0,538.5 L377.6,534.2 L375.2,533.6 L372.8,539.5 L370.3,542.8 L367.9,542.8 L365.5,545.1 L363.1,542.7 L360.6,540.9 L358.2,539.6 L355.8,541.4 L353.4,544.6 L350.9,545.8 L348.5,547.2 L346.1,546.2 L343.7,546.1 L341.2,546.7 L338.8,545.2 L336.4,543.5 L334.0,545.5 L331.5,547.5 L329.1,547.3 L326.7,543.3 L324.3,549.0 L321.8,548.5 L319.4,549.4 L317.0,549.4 L314.6,549.4 L312.1,548.2 L309.7,543.8Z" stroke="none" stroke-width="0" fill="#9fe0b4" fill-opacity="0.6"/>
<path d="M309.7,538.0 L312.1,545.8 L314.6,546.7 L317.0,546.3 L319.4,546.3 L321.8,545.6 L324.3,546.0 L326.7,538.7 L329.1,543.7 L331.5,545.0 L334.0,540.6 L336.4,537.9 L338.8,541.6 L341.2,543.3 L343.7,541.3 L346.1,542.4 L348.5,542.3 L350.9,539.8 L353.4,538.5 L355.8,537.4 L358.2,535.2 L360.6,535.8 L363.1,538.0 L365.5,539.8 L367.9,535.6 L370.3,537.2 L372.8,531.7 L375.2,523.6 L377.6,528.7 L380.0,531.1 L382.5,528.7 L384.9,530.4 L387.3,531.8 L389.7,528.3 L392.2,529.4 L394.6,529.7 L397.0,530.1 L399.4,525.6 L401.9,525.5 L404.3,531.8 L406.7,535.4 L409.1,535.3 L411.6,537.1 L414.0,541.6 L416.4,544.1 L418.8,546.4 L421.3,547.4 L423.7,545.7 L426.1,545.8 L428.5,549.4 L431.0,551.4 L433.4,551.4 L435.8,551.4 L438.2,550.1 L440.7,546.7 L443.1,548.5 L445.5,549.4 L447.9,549.9 L450.4,550.0 L452.8,550.1 L455.2,550.1 L457.6,549.7" stroke="#2c8a3a" stroke-width="0.9" fill="none" stroke-linejoin="round"/>
<path d="M71.5,481.3 L71.5,473.5 L84.7,473.5 L84.7,481.3" stroke="#111" stroke-width="1.2" fill="none" />
<text x="77.6" y="467.6" font-size="10" font-weight="normal" text-anchor="middle" fill="#111" >#</text>
<defs><linearGradient id="pg" x1="1" y1="0" x2="0" y2="0"><stop offset="0" stop-color="#9460b8" stop-opacity="0"/><stop offset="0.5" stop-color="#9460b8" stop-opacity="0.8"/><stop offset="1" stop-color="#9460b8"/></linearGradient><linearGradient id="rg" x1="0" y1="0" x2="1" y2="0"><stop offset="0" stop-color="#c4221f" stop-opacity="0"/><stop offset="0.6" stop-color="#c4221f" stop-opacity="0.9"/><stop offset="1" stop-color="#c4221f"/></linearGradient></defs>
<rect x="74.0" y="565.2" width="16.0" height="2.4" fill="url(#pg)" stroke="none" stroke-width="0" />
<path d="M65.5,566.4 L75.5,561.6 L75.5,571.2 Z" stroke="none" stroke-width="0" fill="#8d5fb2" />
<rect x="248.5" y="563.6" width="20.0" height="2.8" fill="url(#rg)" stroke="none" stroke-width="0" />
<path d="M277.4,565 L267,559.4 L267,570.6 Z" stroke="none" stroke-width="0" fill="#c4221f" />
<path d="M249.2,563.4 L249.2,556 L265.3,556 L265.3,563.4" stroke="#111" stroke-width="1.2" fill="none" />
<text x="257.0" y="550.2" font-size="10" font-weight="normal" text-anchor="middle" fill="#111" >#</text>
<path d="M331.1,584 L331.1,578.5 L371.2,578.5 L375.1,570.2 L379,578.5 L417.8,578.5 L417.8,584" stroke="#111" stroke-width="0.9" fill="none" />
</g>
<g id="panelK">
<rect x="56.0" y="710.4" width="45.6" height="176.1" fill="#f0f0f0" stroke="none" stroke-width="0" />
<rect x="116.2" y="806.8" width="67.2" height="79.7" fill="#ebf2fc" stroke="none" stroke-width="0" />
<rect x="194.2" y="806.8" width="91.5" height="79.7" fill="#f8e3e5" stroke="none" stroke-width="0" />
<rect x="292.6" y="869.2" width="117.2" height="17.3" fill="#a3a3a3" stroke="none" stroke-width="0" />
<line x1="47.6" y1="707.5" x2="47.6" y2="881.5" stroke="#000" stroke-width="1.9" />
<line x1="46.7" y1="880.6" x2="503.5" y2="880.6" stroke="#000" stroke-width="1.9" />
<line x1="40.8" y1="880.6" x2="47.6" y2="880.6" stroke="#000" stroke-width="1.8" />
<text x="38.9" y="884.6" font-size="11.2" font-weight="bold" text-anchor="end" fill="#111" >0</text>
<line x1="40.8" y1="851.9" x2="47.6" y2="851.9" stroke="#000" stroke-width="1.8" />
<text x="38.9" y="855.9" font-size="11.2" font-weight="bold" text-anchor="end" fill="#111" >2</text>
<line x1="40.8" y1="823.2" x2="47.6" y2="823.2" stroke="#000" stroke-width="1.8" />
<text x="38.9" y="827.2" font-size="11.2" font-weight="bold" text-anchor="end" fill="#111" >4</text>
<line x1="40.8" y1="794.5" x2="47.6" y2="794.5" stroke="#000" stroke-width="1.8" />
<text x="38.9" y="798.5" font-size="11.2" font-weight="bold" text-anchor="end" fill="#111" >6</text>
<line x1="40.8" y1="765.8" x2="47.6" y2="765.8" stroke="#000" stroke-width="1.8" />
<text x="38.9" y="769.8" font-size="11.2" font-weight="bold" text-anchor="end" fill="#111" >8</text>
<line x1="40.8" y1="737.1" x2="47.6" y2="737.1" stroke="#000" stroke-width="1.8" />
<text x="38.9" y="741.1" font-size="11.2" font-weight="bold" text-anchor="end" fill="#111" >10</text>
<line x1="40.8" y1="708.4" x2="47.6" y2="708.4" stroke="#000" stroke-width="1.8" />
<text x="38.9" y="712.4" font-size="11.2" font-weight="bold" text-anchor="end" fill="#111" >12</text>
<line x1="49.0" y1="880.6" x2="49.0" y2="886.2" stroke="#000" stroke-width="1.8" />
<text x="53.6" y="893.8" font-size="11.6" font-weight="bold" text-anchor="end" fill="#111" transform="rotate(-47 53.6 893.8)" >0</text>
<line x1="83.1" y1="880.6" x2="83.1" y2="886.2" stroke="#000" stroke-width="1.8" />
<text x="87.7" y="893.8" font-size="11.6" font-weight="bold" text-anchor="end" fill="#111" transform="rotate(-47 87.7 893.8)" >150</text>
<line x1="117.2" y1="880.6" x2="117.2" y2="886.2" stroke="#000" stroke-width="1.8" />
<text x="121.8" y="893.8" font-size="11.6" font-weight="bold" text-anchor="end" fill="#111" transform="rotate(-47 121.8 893.8)" >300</text>
<line x1="151.3" y1="880.6" x2="151.3" y2="886.2" stroke="#000" stroke-width="1.8" />
<text x="155.9" y="893.8" font-size="11.6" font-weight="bold" text-anchor="end" fill="#111" transform="rotate(-47 155.9 893.8)" >450</text>
<line x1="185.4" y1="880.6" x2="185.4" y2="886.2" stroke="#000" stroke-width="1.8" />
<text x="190.0" y="893.8" font-size="11.6" font-weight="bold" text-anchor="end" fill="#111" transform="rotate(-47 190.0 893.8)" >600</text>
<line x1="219.5" y1="880.6" x2="219.5" y2="886.2" stroke="#000" stroke-width="1.8" />
<text x="224.1" y="893.8" font-size="11.6" font-weight="bold" text-anchor="end" fill="#111" transform="rotate(-47 224.1 893.8)" >750</text>
<line x1="253.6" y1="880.6" x2="253.6" y2="886.2" stroke="#000" stroke-width="1.8" />
<text x="258.2" y="893.8" font-size="11.6" font-weight="bold" text-anchor="end" fill="#111" transform="rotate(-47 258.2 893.8)" >900</text>
<line x1="287.7" y1="880.6" x2="287.7" y2="886.2" stroke="#000" stroke-width="1.8" />
<text x="292.3" y="893.8" font-size="11.6" font-weight="bold" text-anchor="end" fill="#111" transform="rotate(-47 292.3 893.8)" >1050</text>
<line x1="321.8" y1="880.6" x2="321.8" y2="886.2" stroke="#000" stroke-width="1.8" />
<text x="326.4" y="893.8" font-size="11.6" font-weight="bold" text-anchor="end" fill="#111" transform="rotate(-47 326.4 893.8)" >1200</text>
<line x1="355.9" y1="880.6" x2="355.9" y2="886.2" stroke="#000" stroke-width="1.8" />
<text x="360.5" y="893.8" font-size="11.6" font-weight="bold" text-anchor="end" fill="#111" transform="rotate(-47 360.5 893.8)" >1350</text>
<line x1="390.0" y1="880.6" x2="390.0" y2="886.2" stroke="#000" stroke-width="1.8" />
<text x="394.6" y="893.8" font-size="11.6" font-weight="bold" text-anchor="end" fill="#111" transform="rotate(-47 394.6 893.8)" >1500</text>
<line x1="424.1" y1="880.6" x2="424.1" y2="886.2" stroke="#000" stroke-width="1.8" />
<text x="428.7" y="893.8" font-size="11.6" font-weight="bold" text-anchor="end" fill="#111" transform="rotate(-47 428.7 893.8)" >1650</text>
<line x1="458.2" y1="880.6" x2="458.2" y2="886.2" stroke="#000" stroke-width="1.8" />
<text x="462.8" y="893.8" font-size="11.6" font-weight="bold" text-anchor="end" fill="#111" transform="rotate(-47 462.8 893.8)" >1800</text>
<line x1="492.3" y1="880.6" x2="492.3" y2="886.2" stroke="#000" stroke-width="1.8" />
<text x="496.9" y="893.8" font-size="11.6" font-weight="bold" text-anchor="end" fill="#111" transform="rotate(-47 496.9 893.8)" >1950</text>
<path d="M49.0,880.6 L51.3,880.6 L53.5,880.6 L55.8,880.6 L58.1,880.6 L60.4,878.8 L62.6,856.6 L64.9,808.5 L67.2,770.5 L69.5,750.9 L71.7,744.3 L74.0,735.3 L76.3,750.3 L78.6,773.9 L80.8,795.3 L83.1,815.5 L85.4,837.0 L87.6,851.0 L89.9,861.4 L92.2,865.1 L94.5,870.2 L96.7,871.5 L99.0,871.6 L101.3,871.9 L103.6,870.8 L105.8,870.1 L108.1,869.5 L110.4,869.8 L112.7,870.4 L114.9,869.2 L117.2,868.1 L119.5,869.3 L121.7,869.3 L124.0,869.5 L126.3,869.1 L128.6,870.0 L130.8,869.3 L133.1,869.4 L135.4,868.2 L137.7,867.6 L139.9,866.8 L142.2,868.6 L144.5,869.1 L146.8,867.9 L149.0,869.0 L151.3,870.0 L153.6,870.1 L155.8,870.7 L158.1,871.3 L160.4,872.1 L162.7,872.6 L164.9,871.6 L167.2,870.7 L169.5,871.0 L171.8,873.1 L174.0,873.9 L176.3,875.0 L178.6,874.9 L180.9,875.7 L183.1,876.3 L185.4,877.3 L187.7,876.9 L189.9,876.3 L192.2,876.1 L194.5,875.5 L196.8,876.4 L199.0,875.5 L201.3,875.2 L203.6,876.0 L205.9,875.3 L208.1,874.7 L210.4,874.2 L212.7,874.8 L215.0,874.8 L217.2,873.8 L219.5,874.4 L221.8,873.7 L224.0,873.0 L226.3,873.7 L228.6,873.5 L230.9,873.2 L233.1,872.9 L235.4,873.2 L237.7,871.7 L240.0,872.6 L242.2,873.0 L244.5,872.3 L246.8,871.3 L249.1,871.6 L251.3,872.3 L253.6,873.0 L255.9,873.0 L258.1,874.0 L260.4,874.5 L262.7,874.7 L265.0,874.5 L267.2,875.5 L269.5,876.2 L271.8,875.7 L274.1,876.2 L276.3,876.9 L278.6,877.1 L280.9,876.8 L283.1,877.1 L285.4,878.1 L287.7,877.8 L290.0,878.3 L292.2,878.0 L294.5,879.9 L296.8,879.9 L299.1,880.3 L301.3,880.3 L303.6,878.4 L305.9,878.8 L308.2,880.0 L310.4,880.2 L312.7,879.8 L315.0,880.1 L317.2,880.2 L319.5,878.8 L321.8,879.9 L324.1,878.4 L326.3,878.6 L328.6,880.2 L330.9,879.9 L333.2,878.6 L335.4,880.2 L337.7,878.5 L340.0,880.1 L342.3,880.5 L344.5,880.4 L346.8,880.0 L349.1,879.9 L351.3,880.5 L353.6,878.8 L355.9,878.7 L358.2,878.7 L360.4,880.2 L362.7,880.1 L365.0,880.3 L367.3,878.6 L369.5,878.6 L371.8,878.8 L374.1,879.9 L376.4,880.1 L378.6,880.0 L380.9,880.4 L383.2,880.6 L385.4,880.5 L387.7,880.6 L390.0,880.0 L392.3,878.7 L394.5,878.7 L396.8,880.3 L399.1,880.6 L401.4,878.8 L403.6,880.6 L405.9,880.5 L408.2,880.4 L410.5,880.1 L412.7,880.2 L415.0,880.1 L417.3,880.6 L419.5,878.7 L421.8,880.2 L424.1,880.0 L426.4,880.1 L428.6,880.5 L430.9,880.6 L433.2,878.9 L435.5,880.3 L437.7,880.0 L440.0,880.5 L442.3,880.2 L444.6,880.6 L446.8,880.6 L449.1,880.6 L451.4,878.8 L453.6,880.6 L455.9,880.2 L458.2,880.0 L460.5,878.8 L462.7,878.9 L465.0,880.3 L467.3,880.6 L469.6,880.5 L471.8,879.9 L474.1,880.6 L476.4,878.9 L478.7,880.6 L480.9,879.9 L483.2,879.9 L485.5,878.9 L487.7,880.4 L490.0,880.4 L492.3,879.8 L494.6,880.1 L496.8,880.0 L499.1,880.5 L501.4,880.1 L503.7,880.3 L503.7,880.3 L501.4,880.2 L499.1,880.5 L496.8,880.1 L494.6,880.2 L492.3,879.9 L490.0,880.4 L487.7,880.4 L485.5,880.6 L483.2,880.0 L480.9,880.0 L478.7,880.6 L476.4,880.6 L474.1,880.6 L471.8,880.0 L469.6,880.5 L467.3,880.6 L465.0,880.3 L462.7,880.6 L460.5,880.6 L458.2,880.1 L455.9,880.3 L453.6,880.6 L451.4,880.6 L449.1,880.6 L446.8,880.6 L444.6,880.6 L442.3,880.3 L440.0,880.5 L437.7,880.0 L435.5,880.4 L433.2,880.6 L430.9,880.6 L428.6,880.5 L426.4,880.2 L424.1,880.1 L421.8,880.2 L419.5,880.6 L417.3,880.6 L415.0,880.1 L412.7,880.3 L410.5,880.2 L408.2,880.5 L405.9,880.5 L403.6,880.6 L401.4,880.6 L399.1,880.6 L396.8,880.3 L394.5,880.6 L392.3,880.5 L390.0,880.1 L387.7,880.6 L385.4,880.5 L383.2,880.6 L380.9,880.4 L378.6,880.1 L376.4,880.1 L374.1,880.0 L371.8,880.6 L369.5,880.5 L367.3,880.5 L365.0,880.3 L362.7,880.2 L360.4,880.3 L358.2,880.5 L355.9,880.5 L353.6,880.6 L351.3,880.5 L349.1,880.0 L346.8,880.1 L344.5,880.4 L342.3,880.5 L340.0,880.1 L337.7,880.3 L335.4,880.2 L333.2,880.4 L330.9,880.0 L328.6,880.3 L326.3,880.5 L324.1,880.4 L321.8,880.0 L319.5,880.6 L317.2,880.3 L315.0,880.2 L312.7,879.9 L310.4,880.2 L308.2,880.0 L305.9,880.6 L303.6,880.3 L301.3,880.4 L299.1,880.4 L296.8,880.0 L294.5,879.9 L292.2,880.0 L290.0,880.3 L287.7,879.8 L285.4,880.0 L283.1,879.2 L280.9,878.9 L278.6,879.1 L276.3,879.0 L274.1,878.4 L271.8,878.1 L269.5,878.3 L267.2,877.6 L265.0,877.0 L262.7,877.2 L260.4,876.8 L258.1,876.4 L255.9,875.6 L253.6,875.6 L251.3,874.8 L249.1,874.6 L246.8,874.3 L244.5,875.0 L242.2,875.5 L240.0,875.4 L237.7,874.4 L235.4,875.9 L233.1,875.5 L230.9,875.6 L228.6,875.9 L226.3,876.2 L224.0,875.8 L221.8,876.2 L219.5,876.8 L217.2,876.1 L215.0,877.2 L212.7,877.2 L210.4,876.6 L208.1,877.2 L205.9,877.5 L203.6,878.3 L201.3,877.4 L199.0,877.8 L196.8,878.6 L194.5,877.9 L192.2,878.4 L189.9,878.5 L187.7,879.0 L185.4,879.3 L183.1,878.5 L180.9,877.9 L178.6,877.1 L176.3,877.4 L174.0,876.6 L171.8,875.6 L169.5,874.2 L167.2,873.7 L164.9,874.7 L162.7,875.1 L160.4,874.8 L158.1,874.3 L155.8,873.3 L153.6,873.1 L151.3,872.7 L149.0,872.3 L146.8,871.5 L144.5,871.9 L142.2,871.6 L139.9,870.5 L137.7,871.0 L135.4,871.5 L133.1,872.1 L130.8,872.3 L128.6,872.8 L126.3,872.2 L124.0,872.7 L121.7,872.4 L119.5,872.2 L117.2,871.3 L114.9,872.6 L112.7,873.2 L110.4,872.7 L108.1,872.6 L105.8,873.2 L103.6,873.6 L101.3,874.5 L99.0,874.5 L96.7,874.3 L94.5,873.4 L92.2,868.6 L89.9,865.6 L87.6,856.5 L85.4,844.9 L83.1,826.3 L80.8,806.5 L78.6,785.9 L76.3,765.0 L74.0,756.5 L71.7,760.5 L69.5,768.8 L67.2,789.6 L64.9,821.7 L62.6,862.0 L60.4,880.6 L58.1,880.6 L55.8,880.6 L53.5,880.6 L51.3,880.6 L49.0,880.6Z" stroke="none" stroke-width="0" fill="#5d57ee" fill-opacity="0.95"/>
<path d="M49.0,880.6 L51.3,880.6 L53.5,880.6 L55.8,880.6 L58.1,880.6 L60.4,879.7 L62.6,859.3 L64.9,815.1 L67.2,780.1 L69.5,759.9 L71.7,752.4 L74.0,745.9 L76.3,757.7 L78.6,779.9 L80.8,800.9 L83.1,820.9 L85.4,840.9 L87.6,853.7 L89.9,863.5 L92.2,866.9 L94.5,871.8 L96.7,872.9 L99.0,873.0 L101.3,873.2 L103.6,872.2 L105.8,871.6 L108.1,871.1 L110.4,871.2 L112.7,871.8 L114.9,870.9 L117.2,869.7 L119.5,870.7 L121.7,870.9 L124.0,871.1 L126.3,870.7 L128.6,871.4 L130.8,870.8 L133.1,870.8 L135.4,869.8 L137.7,869.3 L139.9,868.7 L142.2,870.1 L144.5,870.5 L146.8,869.7 L149.0,870.6 L151.3,871.3 L153.6,871.6 L155.8,872.0 L158.1,872.8 L160.4,873.4 L162.7,873.9 L164.9,873.1 L167.2,872.2 L169.5,872.6 L171.8,874.4 L174.0,875.2 L176.3,876.2 L178.6,876.0 L180.9,876.8 L183.1,877.4 L185.4,878.3 L187.7,878.0 L189.9,877.4 L192.2,877.3 L194.5,876.7 L196.8,877.5 L199.0,876.6 L201.3,876.3 L203.6,877.1 L205.9,876.4 L208.1,875.9 L210.4,875.4 L212.7,876.0 L215.0,876.0 L217.2,875.0 L219.5,875.6 L221.8,875.0 L224.0,874.4 L226.3,875.0 L228.6,874.7 L230.9,874.4 L233.1,874.2 L235.4,874.5 L237.7,873.0 L240.0,874.0 L242.2,874.2 L244.5,873.7 L246.8,872.8 L249.1,873.1 L251.3,873.6 L253.6,874.3 L255.9,874.3 L258.1,875.2 L260.4,875.6 L262.7,875.9 L265.0,875.8 L267.2,876.5 L269.5,877.2 L271.8,876.9 L274.1,877.3 L276.3,877.9 L278.6,878.1 L280.9,877.9 L283.1,878.1 L285.4,879.1 L287.7,878.8 L290.0,879.3 L292.2,879.0 L294.5,879.9 L296.8,879.9 L299.1,880.4 L301.3,880.3 L303.6,879.4 L305.9,879.7 L308.2,880.0 L310.4,880.2 L312.7,879.9 L315.0,880.1 L317.2,880.2 L319.5,879.8 L321.8,879.9 L324.1,879.4 L326.3,879.5 L328.6,880.2 L330.9,880.0 L333.2,879.5 L335.4,880.2 L337.7,879.4 L340.0,880.1 L342.3,880.5 L344.5,880.4 L346.8,880.1 L349.1,880.0 L351.3,880.5 L353.6,879.7 L355.9,879.6 L358.2,879.6 L360.4,880.3 L362.7,880.1 L365.0,880.3 L367.3,879.5 L369.5,879.6 L371.8,879.7 L374.1,880.0 L376.4,880.1 L378.6,880.1 L380.9,880.4 L383.2,880.6 L385.4,880.5 L387.7,880.6 L390.0,880.0 L392.3,879.6 L394.5,879.6 L396.8,880.3 L399.1,880.6 L401.4,879.7 L403.6,880.6 L405.9,880.5 L408.2,880.4 L410.5,880.2 L412.7,880.2 L415.0,880.1 L417.3,880.6 L419.5,879.6 L421.8,880.2 L424.1,880.1 L426.4,880.2 L428.6,880.5 L430.9,880.6 L433.2,879.9 L435.5,880.4 L437.7,880.0 L440.0,880.5 L442.3,880.2 L444.6,880.6 L446.8,880.6 L449.1,880.6 L451.4,879.7 L453.6,880.6 L455.9,880.3 L458.2,880.0 L460.5,879.7 L462.7,879.8 L465.0,880.3 L467.3,880.6 L469.6,880.5 L471.8,879.9 L474.1,880.6 L476.4,879.8 L478.7,880.6 L480.9,879.9 L483.2,880.0 L485.5,879.9 L487.7,880.4 L490.0,880.4 L492.3,879.9 L494.6,880.2 L496.8,880.1 L499.1,880.5 L501.4,880.1 L503.7,880.3" stroke="#3f3ab8" stroke-width="1.3" fill="none" stroke-linejoin="round"/>
<path d="M49.0,880.6 L51.3,880.6 L53.5,880.6 L55.8,880.6 L58.1,880.6 L60.4,878.4 L62.6,853.6 L64.9,801.1 L67.2,763.6 L69.5,738.6 L71.7,748.3 L74.0,759.4 L76.3,751.3 L78.6,756.7 L80.8,776.1 L83.1,805.7 L85.4,826.6 L87.6,844.2 L89.9,857.2 L92.2,864.1 L94.5,867.4 L96.7,869.7 L99.0,872.4 L101.3,871.3 L103.6,872.2 L105.8,872.6 L108.1,872.0 L110.4,871.1 L112.7,870.9 L114.9,870.2 L117.2,870.1 L119.5,869.7 L121.7,870.9 L124.0,869.9 L126.3,869.7 L128.6,869.5 L130.8,868.5 L133.1,869.1 L135.4,870.0 L137.7,869.6 L139.9,870.8 L142.2,871.5 L144.5,871.2 L146.8,870.6 L149.0,868.2 L151.3,867.8 L153.6,868.1 L155.8,868.9 L158.1,870.5 L160.4,871.7 L162.7,871.7 L164.9,872.5 L167.2,873.8 L169.5,874.7 L171.8,874.5 L174.0,875.6 L176.3,875.9 L178.6,876.3 L180.9,875.6 L183.1,876.3 L185.4,876.6 L187.7,876.5 L189.9,875.8 L192.2,876.4 L194.5,875.9 L196.8,876.2 L199.0,876.6 L201.3,876.5 L203.6,875.9 L205.9,875.1 L208.1,875.5 L210.4,875.3 L212.7,875.7 L215.0,875.6 L217.2,875.5 L219.5,874.2 L221.8,874.4 L224.0,873.7 L226.3,874.4 L228.6,874.6 L230.9,874.6 L233.1,873.8 L235.4,874.1 L237.7,873.8 L240.0,873.2 L242.2,872.5 L244.5,873.4 L246.8,872.4 L249.1,873.2 L251.3,872.7 L253.6,872.8 L255.9,873.8 L258.1,873.4 L260.4,874.0 L262.7,873.9 L265.0,874.7 L267.2,874.6 L269.5,874.8 L271.8,876.2 L274.1,875.8 L276.3,876.8 L278.6,876.4 L280.9,877.1 L283.1,876.9 L285.4,877.3 L287.7,878.1 L290.0,878.0 L292.2,878.3 L294.5,878.5 L296.8,878.8 L299.1,880.4 L301.3,878.7 L303.6,878.6 L305.9,880.4 L308.2,880.4 L310.4,878.8 L312.7,879.8 L315.0,879.8 L317.2,879.8 L319.5,880.2 L321.8,880.1 L324.1,880.4 L326.3,880.3 L328.6,880.2 L330.9,880.1 L333.2,878.4 L335.4,880.2 L337.7,879.9 L340.0,880.5 L342.3,878.5 L344.5,878.4 L346.8,879.8 L349.1,880.0 L351.3,880.2 L353.6,878.8 L355.9,878.5 L358.2,879.9 L360.4,880.3 L362.7,879.8 L365.0,880.6 L367.3,878.8 L369.5,880.3 L371.8,878.7 L374.1,880.2 L376.4,879.8 L378.6,879.8 L380.9,879.8 L383.2,879.9 L385.4,880.4 L387.7,880.4 L390.0,878.5 L392.3,880.5 L394.5,880.4 L396.8,880.4 L399.1,880.3 L401.4,878.8 L403.6,879.8 L405.9,880.5 L408.2,880.3 L410.5,878.4 L412.7,878.7 L415.0,880.6 L417.3,879.9 L419.5,880.1 L421.8,879.9 L424.1,879.9 L426.4,879.8 L428.6,880.3 L430.9,880.2 L433.2,878.5 L435.5,880.6 L437.7,880.0 L440.0,879.8 L442.3,880.5 L444.6,880.4 L446.8,879.8 L449.1,879.9 L451.4,879.9 L453.6,880.1 L455.9,880.5 L458.2,878.8 L460.5,880.6 L462.7,878.7 L465.0,880.3 L467.3,880.0 L469.6,880.4 L471.8,880.2 L474.1,878.6 L476.4,880.4 L478.7,880.6 L480.9,880.2 L483.2,880.3 L485.5,879.9 L487.7,878.9 L490.0,880.6 L492.3,880.1 L494.6,880.6 L496.8,878.7 L499.1,880.6 L501.4,879.9 L503.7,880.2 L503.7,880.4 L501.4,880.1 L499.1,880.6 L496.8,880.6 L494.6,880.6 L492.3,880.3 L490.0,880.6 L487.7,880.6 L485.5,880.1 L483.2,880.4 L480.9,880.4 L478.7,880.6 L476.4,880.5 L474.1,880.6 L471.8,880.3 L469.6,880.4 L467.3,880.2 L465.0,880.4 L462.7,880.6 L460.5,880.6 L458.2,880.6 L455.9,880.5 L453.6,880.3 L451.4,880.1 L449.1,880.1 L446.8,880.1 L444.6,880.5 L442.3,880.5 L440.0,880.1 L437.7,880.2 L435.5,880.6 L433.2,880.6 L430.9,880.3 L428.6,880.4 L426.4,880.1 L424.1,880.1 L421.8,880.1 L419.5,880.2 L417.3,880.1 L415.0,880.6 L412.7,880.6 L410.5,880.6 L408.2,880.4 L405.9,880.5 L403.6,880.1 L401.4,880.6 L399.1,880.4 L396.8,880.5 L394.5,880.5 L392.3,880.5 L390.0,880.6 L387.7,880.4 L385.4,880.5 L383.2,880.2 L380.9,880.1 L378.6,880.1 L376.4,880.0 L374.1,880.4 L371.8,880.6 L369.5,880.4 L367.3,880.6 L365.0,880.6 L362.7,880.1 L360.4,880.4 L358.2,880.1 L355.9,880.6 L353.6,880.6 L351.3,880.3 L349.1,880.2 L346.8,880.1 L344.5,880.6 L342.3,880.6 L340.0,880.5 L337.7,880.2 L335.4,880.3 L333.2,880.5 L330.9,880.3 L328.6,880.3 L326.3,880.4 L324.1,880.5 L321.8,880.3 L319.5,880.3 L317.2,880.1 L315.0,880.0 L312.7,880.1 L310.4,880.6 L308.2,880.4 L305.9,880.5 L303.6,880.6 L301.3,880.6 L299.1,880.5 L296.8,880.6 L294.5,880.6 L292.2,880.4 L290.0,880.3 L287.7,880.5 L285.4,879.9 L283.1,879.5 L280.9,879.6 L278.6,879.0 L276.3,879.2 L274.1,878.5 L271.8,879.0 L269.5,878.2 L267.2,877.6 L265.0,878.1 L262.7,877.3 L260.4,877.7 L258.1,877.0 L255.9,877.1 L253.6,876.8 L251.3,877.1 L249.1,876.5 L246.8,876.9 L244.5,877.2 L242.2,876.4 L240.0,876.6 L237.7,877.0 L235.4,877.2 L233.1,877.7 L230.9,877.7 L228.6,878.0 L226.3,878.0 L224.0,877.4 L221.8,877.4 L219.5,877.8 L217.2,878.6 L215.0,878.6 L212.7,879.0 L210.4,878.2 L208.1,878.5 L205.9,878.4 L203.6,879.0 L201.3,879.2 L199.0,879.4 L196.8,879.0 L194.5,879.0 L192.2,879.0 L189.9,878.5 L187.7,879.1 L185.4,879.5 L183.1,879.2 L180.9,878.9 L178.6,878.9 L176.3,878.9 L174.0,878.3 L171.8,877.8 L169.5,878.3 L167.2,877.1 L164.9,876.9 L162.7,876.2 L160.4,876.3 L158.1,875.8 L155.8,874.0 L153.6,873.6 L151.3,873.2 L149.0,874.1 L146.8,875.1 L144.5,875.3 L142.2,875.3 L139.9,875.1 L137.7,874.0 L135.4,874.7 L133.1,874.0 L130.8,874.5 L128.6,874.7 L126.3,875.3 L124.0,874.3 L121.7,875.4 L119.5,874.4 L117.2,874.9 L114.9,875.2 L112.7,875.5 L110.4,875.0 L108.1,876.1 L105.8,876.2 L103.6,876.7 L101.3,876.2 L99.0,876.4 L96.7,875.2 L94.5,873.3 L92.2,870.2 L89.9,866.6 L87.6,858.6 L85.4,848.3 L83.1,825.1 L80.8,810.9 L78.6,797.4 L76.3,787.1 L74.0,799.2 L71.7,793.2 L69.5,788.2 L67.2,799.7 L64.9,831.5 L62.6,863.7 L60.4,880.5 L58.1,880.6 L55.8,880.6 L53.5,880.6 L51.3,880.6 L49.0,880.6Z" stroke="none" stroke-width="0" fill="#e6b790" fill-opacity="0.78"/>
<path d="M49.0,880.6 L51.3,880.6 L53.5,880.6 L55.8,880.6 L58.1,880.6 L60.4,879.4 L62.6,858.7 L64.9,816.3 L67.2,781.6 L69.5,763.4 L71.7,770.8 L74.0,779.3 L76.3,769.2 L78.6,777.0 L80.8,793.5 L83.1,815.4 L85.4,837.5 L87.6,851.4 L89.9,861.9 L92.2,867.1 L94.5,870.4 L96.7,872.5 L99.0,874.4 L101.3,873.7 L103.6,874.5 L105.8,874.4 L108.1,874.1 L110.4,873.0 L112.7,873.2 L114.9,872.7 L117.2,872.5 L119.5,872.1 L121.7,873.2 L124.0,872.1 L126.3,872.5 L128.6,872.1 L130.8,871.5 L133.1,871.6 L135.4,872.3 L137.7,871.8 L139.9,873.0 L142.2,873.4 L144.5,873.3 L146.8,872.8 L149.0,871.1 L151.3,870.5 L153.6,870.9 L155.8,871.5 L158.1,873.1 L160.4,874.0 L162.7,873.9 L164.9,874.7 L167.2,875.4 L169.5,876.5 L171.8,876.2 L174.0,877.0 L176.3,877.4 L178.6,877.6 L180.9,877.2 L183.1,877.7 L185.4,878.0 L187.7,877.8 L189.9,877.1 L192.2,877.7 L194.5,877.5 L196.8,877.6 L199.0,878.0 L201.3,877.9 L203.6,877.4 L205.9,876.8 L208.1,877.0 L210.4,876.7 L212.7,877.3 L215.0,877.1 L217.2,877.1 L219.5,876.0 L221.8,875.9 L224.0,875.6 L226.3,876.2 L228.6,876.3 L230.9,876.1 L233.1,875.7 L235.4,875.6 L237.7,875.4 L240.0,874.9 L242.2,874.5 L244.5,875.3 L246.8,874.6 L249.1,874.9 L251.3,874.9 L253.6,874.8 L255.9,875.5 L258.1,875.2 L260.4,875.8 L262.7,875.6 L265.0,876.4 L267.2,876.1 L269.5,876.5 L271.8,877.6 L274.1,877.1 L276.3,878.0 L278.6,877.7 L280.9,878.4 L283.1,878.2 L285.4,878.6 L287.7,879.3 L290.0,879.2 L292.2,879.4 L294.5,879.5 L296.8,879.8 L299.1,880.5 L301.3,879.7 L303.6,879.7 L305.9,880.5 L308.2,880.4 L310.4,879.8 L312.7,880.0 L315.0,879.9 L317.2,879.9 L319.5,880.3 L321.8,880.2 L324.1,880.5 L326.3,880.3 L328.6,880.2 L330.9,880.2 L333.2,879.5 L335.4,880.3 L337.7,880.0 L340.0,880.5 L342.3,879.6 L344.5,879.5 L346.8,880.0 L349.1,880.1 L351.3,880.2 L353.6,879.8 L355.9,879.6 L358.2,880.0 L360.4,880.4 L362.7,879.9 L365.0,880.6 L367.3,879.8 L369.5,880.4 L371.8,879.8 L374.1,880.3 L376.4,879.9 L378.6,879.9 L380.9,879.9 L383.2,880.1 L385.4,880.4 L387.7,880.4 L390.0,879.6 L392.3,880.5 L394.5,880.4 L396.8,880.4 L399.1,880.3 L401.4,879.8 L403.6,880.0 L405.9,880.5 L408.2,880.3 L410.5,879.6 L412.7,879.7 L415.0,880.6 L417.3,880.0 L419.5,880.2 L421.8,880.0 L424.1,880.0 L426.4,879.9 L428.6,880.3 L430.9,880.3 L433.2,879.6 L435.5,880.6 L437.7,880.1 L440.0,880.0 L442.3,880.5 L444.6,880.4 L446.8,880.0 L449.1,880.0 L451.4,880.0 L453.6,880.2 L455.9,880.5 L458.2,879.8 L460.5,880.6 L462.7,879.8 L465.0,880.4 L467.3,880.1 L469.6,880.4 L471.8,880.3 L474.1,879.7 L476.4,880.4 L478.7,880.6 L480.9,880.3 L483.2,880.4 L485.5,880.0 L487.7,879.9 L490.0,880.6 L492.3,880.2 L494.6,880.6 L496.8,879.7 L499.1,880.6 L501.4,880.0 L503.7,880.3" stroke="#e9923e" stroke-width="1.9" fill="none" stroke-linejoin="round"/>
<text x="19.6" y="792.7" font-size="13.8" font-weight="bold" text-anchor="middle" fill="#111" transform="rotate(-90 19.6 792.7)" textLength="143.5" lengthAdjust="spacingAndGlyphs" >Frequency distribution</text>
<text x="274.0" y="933.8" font-size="14.5" font-weight="bold" text-anchor="middle" fill="#111" textLength="89.5" lengthAdjust="spacingAndGlyphs" >Duration (ms)</text>
<text x="54.0" y="678.4" font-size="12.6" font-weight="bold" text-anchor="start" fill="#111" textLength="158" lengthAdjust="spacingAndGlyphs" >Late Juvenile/Early Adults</text>
<line x1="120.3" y1="746.4" x2="133.8" y2="746.4" stroke="#e9923e" stroke-width="1.4" />
<line x1="120.3" y1="761.8" x2="133.8" y2="761.8" stroke="#3f3ab8" stroke-width="1.4" />
<text x="141.6" y="750.8" font-size="13.5" font-weight="normal" text-anchor="start" fill="#111" >DMSO</text>
<text x="141.1" y="766.4" font-size="13.5" font-weight="normal" text-anchor="start" fill="#111" >SB-3CT</text>
<line x1="309.3" y1="784.0" x2="309.3" y2="844.7" stroke="#111" stroke-width="0.9" />
<line x1="309.0" y1="844.3" x2="458.6" y2="844.3" stroke="#111" stroke-width="0.9" />
<line x1="306.8" y1="844.3" x2="309.3" y2="844.3" stroke="#111" stroke-width="0.9" />
<text x="305.6" y="847.0" font-size="7.5" font-weight="bold" text-anchor="end" fill="#111" >0.0</text>
<line x1="306.8" y1="814.4" x2="309.3" y2="814.4" stroke="#111" stroke-width="0.9" />
<text x="305.6" y="817.1" font-size="7.5" font-weight="bold" text-anchor="end" fill="#111" >0.2</text>
<line x1="306.8" y1="784.5" x2="309.3" y2="784.5" stroke="#111" stroke-width="0.9" />
<text x="305.6" y="787.2" font-size="7.5" font-weight="bold" text-anchor="end" fill="#111" >0.4</text>
<line x1="337.6" y1="844.3" x2="337.6" y2="846.9" stroke="#111" stroke-width="0.9" />
<text x="340.2" y="852.5" font-size="7.4" font-weight="bold" text-anchor="end" fill="#111" transform="rotate(-47 340.2 852.5)" >1190</text>
<line x1="374.0" y1="844.3" x2="374.0" y2="846.9" stroke="#111" stroke-width="0.9" />
<text x="376.6" y="852.5" font-size="7.4" font-weight="bold" text-anchor="end" fill="#111" transform="rotate(-47 376.6 852.5)" >1340</text>
<line x1="410.4" y1="844.3" x2="410.4" y2="846.9" stroke="#111" stroke-width="0.9" />
<text x="413.0" y="852.5" font-size="7.4" font-weight="bold" text-anchor="end" fill="#111" transform="rotate(-47 413.0 852.5)" >1490</text>
<line x1="446.7" y1="844.3" x2="446.7" y2="846.9" stroke="#111" stroke-width="0.9" />
<text x="449.3" y="852.5" font-size="7.4" font-weight="bold" text-anchor="end" fill="#111" transform="rotate(-47 449.3 852.5)" >1640</text>
<path d="M309.7,825.3 L312.1,832.8 L314.6,827.2 L317.0,823.5 L319.4,835.4 L321.8,835.2 L324.3,835.8 L326.7,836.1 L329.1,835.8 L331.5,833.0 L334.0,832.0 L336.4,834.4 L338.8,827.4 L341.2,830.8 L343.7,836.4 L346.1,836.5 L348.5,834.3 L350.9,834.8 L353.4,829.4 L355.8,824.9 L358.2,837.4 L360.6,835.4 L363.1,834.4 L365.5,825.9 L367.9,824.2 L370.3,829.8 L372.8,819.2 L375.2,828.0 L377.6,832.0 L380.0,826.4 L382.5,829.8 L384.9,831.2 L387.3,833.0 L389.7,833.8 L392.2,835.5 L394.6,833.3 L397.0,832.2 L399.4,831.2 L401.9,831.7 L404.3,832.2 L406.7,833.9 L409.1,836.5 L411.6,838.1 L414.0,839.1 L416.4,840.4 L418.8,841.6 L421.3,843.8 L423.7,844.3 L426.1,844.3 L428.5,844.3 L431.0,844.3 L433.4,837.5 L435.8,837.9 L438.2,844.0 L440.7,843.5 L443.1,841.8 L445.5,841.4 L447.9,841.1 L450.4,841.8 L452.8,843.5 L455.2,843.7 L457.6,844.1 L457.6,844.2 L455.2,844.1 L452.8,843.8 L450.4,844.3 L447.9,844.3 L445.5,844.3 L443.1,844.3 L440.7,844.0 L438.2,844.2 L435.8,843.4 L433.4,843.2 L431.0,844.3 L428.5,844.3 L426.1,844.3 L423.7,844.3 L421.3,844.1 L418.8,844.3 L416.4,844.3 L414.0,844.1 L411.6,843.5 L409.1,842.1 L406.7,840.3 L404.3,839.7 L401.9,841.5 L399.4,839.6 L397.0,839.6 L394.6,842.4 L392.2,841.8 L389.7,840.1 L387.3,840.6 L384.9,838.7 L382.5,838.8 L380.0,839.8 L377.6,840.7 L375.2,837.6 L372.8,831.9 L370.3,840.0 L367.9,838.8 L365.5,835.5 L363.1,841.7 L360.6,841.2 L358.2,843.0 L355.8,840.2 L353.4,837.6 L350.9,843.0 L348.5,842.9 L346.1,842.7 L343.7,843.5 L341.2,838.6 L338.8,840.4 L336.4,842.6 L334.0,840.0 L331.5,839.6 L329.1,841.1 L326.7,843.4 L324.3,842.6 L321.8,842.1 L319.4,841.5 L317.0,839.2 L314.6,839.1 L312.1,840.7 L309.7,839.9Z" stroke="none" stroke-width="0" fill="#4a43d8" fill-opacity="0.9"/>
<path d="M309.7,832.6 L312.1,836.8 L314.6,833.1 L317.0,831.4 L319.4,838.4 L321.8,838.7 L324.3,839.2 L326.7,839.7 L329.1,838.4 L331.5,836.3 L334.0,836.0 L336.4,838.5 L338.8,833.9 L341.2,834.7 L343.7,840.0 L346.1,839.6 L348.5,838.6 L350.9,838.9 L353.4,833.5 L355.8,832.6 L358.2,840.2 L360.6,838.3 L363.1,838.1 L365.5,830.7 L367.9,831.5 L370.3,834.9 L372.8,825.5 L375.2,832.8 L377.6,836.3 L380.0,833.1 L382.5,834.3 L384.9,835.0 L387.3,836.8 L389.7,836.9 L392.2,838.6 L394.6,837.8 L397.0,835.9 L399.4,835.4 L401.9,836.6 L404.3,836.0 L406.7,837.1 L409.1,839.3 L411.6,840.8 L414.0,841.6 L416.4,842.5 L418.8,843.1 L421.3,843.9 L423.7,844.3 L426.1,844.3 L428.5,844.3 L431.0,844.3 L433.4,840.4 L435.8,840.6 L438.2,844.1 L440.7,843.7 L443.1,843.3 L445.5,843.0 L447.9,843.0 L450.4,843.3 L452.8,843.6 L455.2,843.9 L457.6,844.1" stroke="#4a43d8" stroke-width="0.7" fill="none" stroke-linejoin="round"/>
<path d="M309.7,816.0 L312.1,835.5 L314.6,835.1 L317.0,836.0 L319.4,832.4 L321.8,832.6 L324.3,832.0 L326.7,835.3 L329.1,834.2 L331.5,836.5 L334.0,835.5 L336.4,832.7 L338.8,836.8 L341.2,835.7 L343.7,831.9 L346.1,832.1 L348.5,834.5 L350.9,832.7 L353.4,830.4 L355.8,836.2 L358.2,830.2 L360.6,833.9 L363.1,835.3 L365.5,835.7 L367.9,830.9 L370.3,834.2 L372.8,834.9 L375.2,835.6 L377.6,829.2 L380.0,831.2 L382.5,832.9 L384.9,832.9 L387.3,834.3 L389.7,832.6 L392.2,835.6 L394.6,835.8 L397.0,834.2 L399.4,835.2 L401.9,834.6 L404.3,836.5 L406.7,837.4 L409.1,839.3 L411.6,839.0 L414.0,839.2 L416.4,839.7 L418.8,839.7 L421.3,839.6 L423.7,839.6 L426.1,838.8 L428.5,840.5 L431.0,841.1 L433.4,843.3 L435.8,843.9 L438.2,844.3 L440.7,844.3 L443.1,844.3 L445.5,844.3 L447.9,844.3 L450.4,839.5 L452.8,838.4 L455.2,840.3 L457.6,840.5 L457.6,844.3 L455.2,844.3 L452.8,843.2 L450.4,844.3 L447.9,844.3 L445.5,844.3 L443.1,844.3 L440.7,844.3 L438.2,844.3 L435.8,844.1 L433.4,843.8 L431.0,844.3 L428.5,844.3 L426.1,844.0 L423.7,843.8 L421.3,844.3 L418.8,843.9 L416.4,844.3 L414.0,844.2 L411.6,844.3 L409.1,844.3 L406.7,842.8 L404.3,843.7 L401.9,843.4 L399.4,843.4 L397.0,842.6 L394.6,842.0 L392.2,842.7 L389.7,841.1 L387.3,841.7 L384.9,841.0 L382.5,839.8 L380.0,842.5 L377.6,841.7 L375.2,841.9 L372.8,843.1 L370.3,842.3 L367.9,841.3 L365.5,843.2 L363.1,842.2 L360.6,840.3 L358.2,842.4 L355.8,842.5 L353.4,840.8 L350.9,840.5 L348.5,842.4 L346.1,842.7 L343.7,842.7 L341.2,842.8 L338.8,843.1 L336.4,843.0 L334.0,841.9 L331.5,842.0 L329.1,840.5 L326.7,842.3 L324.3,839.3 L321.8,841.1 L319.4,841.5 L317.0,842.4 L314.6,842.3 L312.1,842.4 L309.7,833.8Z" stroke="none" stroke-width="0" fill="#ebb98c" fill-opacity="0.85"/>
<path d="M309.7,824.9 L312.1,839.0 L314.6,838.7 L317.0,839.2 L319.4,837.0 L321.8,836.9 L324.3,835.6 L326.7,838.8 L329.1,837.3 L331.5,839.3 L334.0,838.7 L336.4,837.9 L338.8,839.9 L341.2,839.3 L343.7,837.3 L346.1,837.4 L348.5,838.5 L350.9,836.6 L353.4,835.6 L355.8,839.4 L358.2,836.3 L360.6,837.1 L363.1,838.8 L365.5,839.4 L367.9,836.1 L370.3,838.2 L372.8,839.0 L375.2,838.7 L377.6,835.4 L380.0,836.8 L382.5,836.3 L384.9,837.0 L387.3,838.0 L389.7,836.8 L392.2,839.2 L394.6,838.9 L397.0,838.4 L399.4,839.3 L401.9,839.0 L404.3,840.1 L406.7,840.1 L409.1,841.8 L411.6,841.7 L414.0,841.7 L416.4,842.1 L418.8,841.8 L421.3,842.0 L423.7,841.7 L426.1,841.4 L428.5,842.4 L431.0,842.9 L433.4,843.6 L435.8,844.0 L438.2,844.3 L440.7,844.3 L443.1,844.3 L445.5,844.3 L447.9,844.3 L450.4,841.9 L452.8,840.8 L455.2,842.4 L457.6,842.7" stroke="#e9a562" stroke-width="1.0" fill="none" stroke-linejoin="round"/>
<line x1="72.8" y1="728.8" x2="72.8" y2="734.5" stroke="#111" stroke-width="2.0" />
<text x="78.9" y="735.2" font-size="10" font-weight="normal" text-anchor="middle" fill="#111" >#</text>
<text x="82.5" y="768.3" font-size="10" font-weight="normal" text-anchor="middle" fill="#111" >#</text>
<path d="M80.5,779.6 L80.5,773.7 L83.6,773.7 L83.6,779.6" stroke="#111" stroke-width="1.3" fill="none" />
<path d="M331.1,877.2 L331.1,871.4 L371.2,871.4 L375.1,862.8 L379,871.4 L417.8,871.4 L417.8,877.2" stroke="#111" stroke-width="0.9" fill="none" />
</g>
<g id="pies">
<text x="374.8" y="381.2" font-size="11.1" font-weight="normal" text-anchor="start" fill="#111" >DMSO</text>
<path d="M424.30,437.60 L459.59,466.79 A45.8,45.8 0 1 1 424.30,391.80 Z" stroke="#ffffff" stroke-width="1.3" fill="#a9a9a9" stroke-linejoin="round"/>
<path d="M428.00,436.60 L468.00,414.28 A45.8,45.8 0 0 1 463.29,465.79 Z" stroke="#ffffff" stroke-width="1.3" fill="#5ea6f6" stroke-linejoin="round"/>
<path d="M427.40,434.40 L434.56,389.16 A45.8,45.8 0 0 1 467.40,412.08 Z" stroke="#ffffff" stroke-width="1.3" fill="#f91b0c" stroke-linejoin="round"/>
<path d="M426.90,434.00 L426.90,388.20 A45.8,45.8 0 0 1 434.06,388.76 Z" stroke="#ffffff" stroke-width="1.3" fill="#000000" stroke-linejoin="round"/>
<path d="M459.59,466.79 A45.8,45.8 0 1 1 424.30,391.80" stroke="#1c1c1c" stroke-width="0.8" fill="none" />
<path d="M468.00,414.28 A45.8,45.8 0 0 1 463.29,465.79" stroke="#1c1c1c" stroke-width="0.8" fill="none" />
<path d="M434.56,389.16 A45.8,45.8 0 0 1 467.40,412.08" stroke="#1c1c1c" stroke-width="0.8" fill="none" />
<path d="M426.90,388.20 A45.8,45.8 0 0 1 434.06,388.76" stroke="#1c1c1c" stroke-width="0.8" fill="none" />
<text x="416.9" y="385.2" font-size="10.7" font-weight="normal" text-anchor="start" fill="#111" >2.5%</text>
<text x="449.1" y="395.0" font-size="10.7" font-weight="normal" text-anchor="start" fill="#111" >14.4%</text>
<text x="441.6" y="439.4" font-size="10.7" font-weight="normal" text-anchor="start" fill="#111" >19.1%</text>
<text x="418.3" y="470.3" font-size="10.7" font-weight="normal" text-anchor="start" fill="#111" >64.1%</text>
<path d="M481.8,439.4 Q485.8,438.0 490.3,438.2 L488.7,434.79999999999995 L497.7,439.9 L488.7,445.0 L490.3,441.59999999999997 Q485.8,441.79999999999995 481.8,440.4 Z" stroke="none" stroke-width="0" fill="#0d0d0d" />
<text x="503.7" y="385.0" font-size="10.7" font-weight="normal" text-anchor="start" fill="#111" >SB-3CT</text>
<path d="M552.00,436.90 L553.39,480.98 A44.1,44.1 0 1 1 552.00,392.80 Z" stroke="#ffffff" stroke-width="1.3" fill="#a9a9a9" stroke-linejoin="round"/>
<path d="M554.30,440.30 L588.98,467.55 A44.1,44.1 0 0 1 555.69,484.38 Z" stroke="#ffffff" stroke-width="1.3" fill="#5ea6f6" stroke-linejoin="round"/>
<path d="M554.90,436.90 L568.26,394.87 A44.1,44.1 0 0 1 589.58,464.15 Z" stroke="#ffffff" stroke-width="1.3" fill="#f91b0c" stroke-linejoin="round"/>
<path d="M554.30,436.30 L554.30,392.20 A44.1,44.1 0 0 1 567.66,394.27 Z" stroke="#ffffff" stroke-width="1.3" fill="#000000" stroke-linejoin="round"/>
<path d="M553.39,480.98 A44.1,44.1 0 1 1 552.00,392.80" stroke="#1c1c1c" stroke-width="0.8" fill="none" />
<path d="M588.98,467.55 A44.1,44.1 0 0 1 555.69,484.38" stroke="#1c1c1c" stroke-width="0.8" fill="none" />
<path d="M568.26,394.87 A44.1,44.1 0 0 1 589.58,464.15" stroke="#1c1c1c" stroke-width="0.8" fill="none" />
<path d="M554.30,392.20 A44.1,44.1 0 0 1 567.66,394.27" stroke="#1c1c1c" stroke-width="0.8" fill="none" />
<text x="549.2" y="385.6" font-size="11.4" font-weight="bold" text-anchor="start" fill="#111" >4.9%</text>
<text x="584.8" y="399.3" font-size="11.4" font-weight="bold" text-anchor="start" fill="#111" >30.7%</text>
<text x="519.3" y="463.9" font-size="10.7" font-weight="normal" text-anchor="start" fill="#111" >50.5%</text>
<text x="580.5" y="480.1" font-size="10.7" font-weight="normal" text-anchor="start" fill="#111" >13.9%</text>
<rect x="608.3" y="416.3" width="8.0" height="6.2" fill="#a9a9a9" stroke="#222" stroke-width="0.7" />
<text x="621.6" y="422.6" font-size="9.2" font-weight="normal" text-anchor="start" fill="#111" >50-250 ms</text>
<rect x="608.3" y="425.7" width="8.0" height="6.2" fill="#5ea6f6" stroke="#222" stroke-width="0.7" />
<text x="621.6" y="432.0" font-size="9.2" font-weight="normal" text-anchor="start" fill="#111" >300-600 ms</text>
<rect x="608.3" y="435.0" width="8.0" height="6.2" fill="#f91b0c" stroke="#222" stroke-width="0.7" />
<text x="621.6" y="441.3" font-size="9.2" font-weight="normal" text-anchor="start" fill="#111" >650-1050 ms</text>
<rect x="608.3" y="444.8" width="8.0" height="6.2" fill="#000000" stroke="#222" stroke-width="0.7" />
<text x="621.6" y="451.1" font-size="9.2" font-weight="normal" text-anchor="start" fill="#111" >1075-1600 ms</text>
<text x="374.3" y="674.5" font-size="11.1" font-weight="normal" text-anchor="start" fill="#111" >DMSO</text>
<path d="M425.30,736.40 L464.29,760.80 A46.0,46.0 0 1 1 425.30,690.40 Z" stroke="#ffffff" stroke-width="1.3" fill="#a9a9a9" stroke-linejoin="round"/>
<path d="M428.50,736.40 L466.55,710.54 A46.0,46.0 0 0 1 467.49,760.80 Z" stroke="#ffffff" stroke-width="1.3" fill="#5ea6f6" stroke-linejoin="round"/>
<path d="M428.10,734.30 L435.01,688.82 A46.0,46.0 0 0 1 466.15,708.44 Z" stroke="#ffffff" stroke-width="1.3" fill="#f91b0c" stroke-linejoin="round"/>
<path d="M427.60,734.00 L427.60,688.00 A46.0,46.0 0 0 1 434.51,688.52 Z" stroke="#ffffff" stroke-width="1.3" fill="#000000" stroke-linejoin="round"/>
<path d="M464.29,760.80 A46.0,46.0 0 1 1 425.30,690.40" stroke="#1c1c1c" stroke-width="0.8" fill="none" />
<path d="M466.55,710.54 A46.0,46.0 0 0 1 467.49,760.80" stroke="#1c1c1c" stroke-width="0.8" fill="none" />
<path d="M435.01,688.82 A46.0,46.0 0 0 1 466.15,708.44" stroke="#1c1c1c" stroke-width="0.8" fill="none" />
<path d="M427.60,688.00 A46.0,46.0 0 0 1 434.51,688.52" stroke="#1c1c1c" stroke-width="0.8" fill="none" />
<text x="416.9" y="683.9" font-size="10.7" font-weight="normal" text-anchor="start" fill="#111" >2.4%</text>
<text x="446.8" y="690.2" font-size="10.7" font-weight="normal" text-anchor="start" fill="#111" >13.1%</text>
<text x="442.1" y="739.9" font-size="10.7" font-weight="normal" text-anchor="start" fill="#111" >18.4%</text>
<text x="419.2" y="765.6" font-size="10.7" font-weight="normal" text-anchor="start" fill="#111" >66.1%</text>
<path d="M481.8,721.5 Q485.8,720.1 492.6,720.3 L491,716.9 L500,722 L491,727.1 L492.6,723.7 Q485.8,723.9 481.8,722.5 Z" stroke="none" stroke-width="0" fill="#0d0d0d" />
<text x="498.5" y="674.2" font-size="10.7" font-weight="normal" text-anchor="start" fill="#111" >SB-3CT</text>
<path d="M550.50,736.10 L587.21,763.48 A45.8,45.8 0 1 1 550.50,690.30 Z" stroke="#ffffff" stroke-width="1.3" fill="#a9a9a9" stroke-linejoin="round"/>
<path d="M554.00,734.80 L590.01,706.50 A45.8,45.8 0 0 1 590.71,762.18 Z" stroke="#ffffff" stroke-width="1.3" fill="#5ea6f6" stroke-linejoin="round"/>
<path d="M553.20,733.30 L560.65,688.11 A45.8,45.8 0 0 1 589.21,705.00 Z" stroke="#ffffff" stroke-width="1.3" fill="#f91b0c" stroke-linejoin="round"/>
<path d="M552.70,733.00 L552.70,687.20 A45.8,45.8 0 0 1 560.15,687.81 Z" stroke="#ffffff" stroke-width="1.3" fill="#000000" stroke-linejoin="round"/>
<path d="M587.21,763.48 A45.8,45.8 0 1 1 550.50,690.30" stroke="#1c1c1c" stroke-width="0.8" fill="none" />
<path d="M590.01,706.50 A45.8,45.8 0 0 1 590.71,762.18" stroke="#1c1c1c" stroke-width="0.8" fill="none" />
<path d="M560.65,688.11 A45.8,45.8 0 0 1 589.21,705.00" stroke="#1c1c1c" stroke-width="0.8" fill="none" />
<path d="M552.70,687.20 A45.8,45.8 0 0 1 560.15,687.81" stroke="#1c1c1c" stroke-width="0.8" fill="none" />
<text x="542.1" y="682.2" font-size="10.7" font-weight="normal" text-anchor="start" fill="#111" >2.6%</text>
<text x="572.6" y="689.3" font-size="10.7" font-weight="normal" text-anchor="start" fill="#111" >11.8%</text>
<text x="564.6" y="738.2" font-size="10.7" font-weight="normal" text-anchor="start" fill="#111" >20.8%</text>
<text x="532.1" y="768.1" font-size="10.7" font-weight="normal" text-anchor="start" fill="#111" >64.9%</text>
<rect x="608.3" y="729.1" width="8.0" height="6.2" fill="#a9a9a9" stroke="#222" stroke-width="0.7" />
<text x="621.6" y="735.4" font-size="9.2" font-weight="normal" text-anchor="start" fill="#111" >50-250 ms</text>
<rect x="608.3" y="738.3" width="8.0" height="6.2" fill="#5ea6f6" stroke="#222" stroke-width="0.7" />
<text x="621.6" y="744.6" font-size="9.2" font-weight="normal" text-anchor="start" fill="#111" >300-600 ms</text>
<rect x="608.3" y="747.3" width="8.0" height="6.2" fill="#f91b0c" stroke="#222" stroke-width="0.7" />
<text x="621.6" y="753.6" font-size="9.2" font-weight="normal" text-anchor="start" fill="#111" >650-1050 ms</text>
<rect x="608.3" y="756.7" width="8.0" height="6.2" fill="#000000" stroke="#222" stroke-width="0.7" />
<text x="621.6" y="763.0" font-size="9.2" font-weight="normal" text-anchor="start" fill="#111" >1075-1600 ms</text>
</g>
<g id="letters">
<text x="1.0" y="13.1" font-size="17.3" font-weight="bold" text-anchor="start" fill="#111" textLength="11.43" lengthAdjust="spacingAndGlyphs" >A</text>
<text x="190.6" y="13.4" font-size="17.3" font-weight="bold" text-anchor="start" fill="#111" textLength="11.48" lengthAdjust="spacingAndGlyphs" >B</text>
<text x="3.1" y="220.8" font-size="17.3" font-weight="bold" text-anchor="start" fill="#111" textLength="11.85" lengthAdjust="spacingAndGlyphs" >C</text>
<text x="114.4" y="220.8" font-size="17.3" font-weight="bold" text-anchor="start" fill="#111" textLength="11.36" lengthAdjust="spacingAndGlyphs" >D</text>
<text x="217.7" y="220.8" font-size="17.3" font-weight="bold" text-anchor="start" fill="#111" textLength="10.07" lengthAdjust="spacingAndGlyphs" >E</text>
<text x="358.3" y="220.8" font-size="17.3" font-weight="bold" text-anchor="start" fill="#111" textLength="9.41" lengthAdjust="spacingAndGlyphs" >F</text>
<text x="475.4" y="220.8" font-size="17.3" font-weight="bold" text-anchor="start" fill="#111" textLength="12.59" lengthAdjust="spacingAndGlyphs" >G</text>
<text x="594.5" y="220.8" font-size="17.3" font-weight="bold" text-anchor="start" fill="#111" textLength="13.81" lengthAdjust="spacingAndGlyphs" >H</text>
<text x="0.4" y="379.7" font-size="17.3" font-weight="bold" text-anchor="start" fill="#111" textLength="6.01" lengthAdjust="spacingAndGlyphs" >I</text>
<text x="357.3" y="379.1" font-size="17.3" font-weight="bold" text-anchor="start" fill="#111" textLength="10.41" lengthAdjust="spacingAndGlyphs" >J</text>
<text x="0.6" y="669.2" font-size="17.3" font-weight="bold" text-anchor="start" fill="#111" textLength="11.11" lengthAdjust="spacingAndGlyphs" >K</text>
<text x="356.3" y="668.8" font-size="17.3" font-weight="bold" text-anchor="start" fill="#111" textLength="9.46" lengthAdjust="spacingAndGlyphs" >L</text>
</g>
</svg>
</body></html>
